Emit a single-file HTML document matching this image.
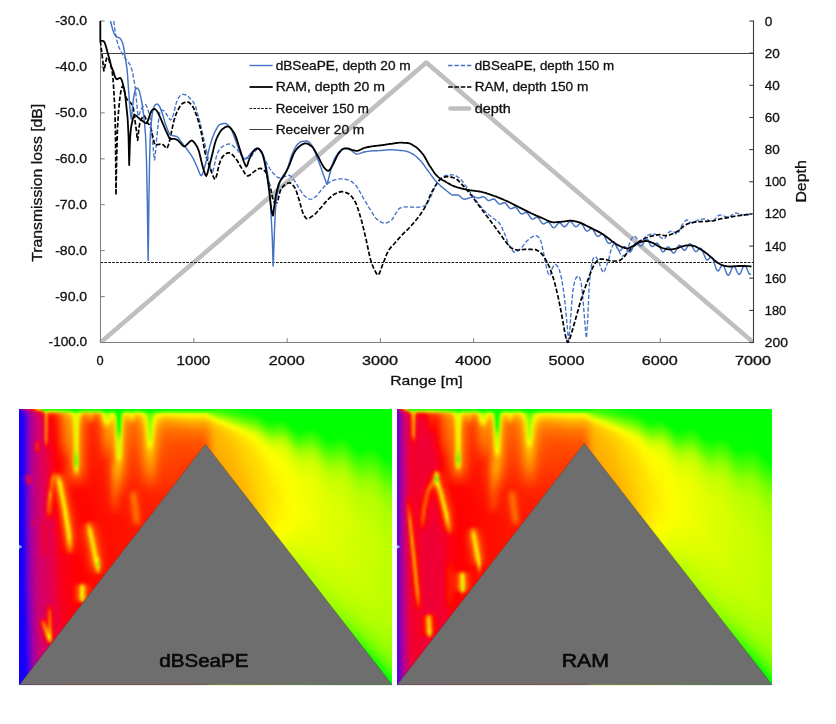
<!DOCTYPE html>
<html lang="en"><head><meta charset="utf-8"><title>Transmission loss comparison: dBSeaPE vs RAM</title>
<style>
html,body{margin:0;padding:0;background:#fff}
#page{position:relative;width:836px;height:724px;overflow:hidden;background:#fff;font-family:'Liberation Sans',sans-serif}
.hm{position:absolute;top:409px;height:275.7px;overflow:hidden}
.hb{position:absolute;left:0;top:0;width:374px;height:276px;filter:blur(0.9px);transform-origin:0 0}
.hm::before{content:"";position:absolute;inset:0;z-index:-1}
.hb i{position:absolute;top:-6px;height:288px;width:2.5px;display:block}
</style></head>
<body><div id="page">
<div class="hm" style="left:19.2px;width:372.8px"><div class="hb" style="transform:scaleX(0.99679)"><i style="left:-6px;width:8.5px;background:linear-gradient(#3800ed 6.5px,#1b00fa 10.5px,#1500fc 44.5px,#1400fc 281.5px)"></i><i style="left:2px;background:linear-gradient(#8e00b6 6.5px,#4f00e3 8.5px,#2f00f3 10.5px,#1a00fa 14.5px,#1a00fa 72.5px,#2700f6 74.5px,#1600fb 88.5px,#1400fc 281.5px)"></i><i style="left:4px;background:linear-gradient(#a9009d 6.5px,#6300d7 8.5px,#4100ea 10.5px,#2c00f4 14.5px,#2800f5 70.5px,#5100e1 74.5px,#2800f5 84.5px,#2200f7 180.5px,#1600fb 216.5px,#1500fc 281.5px)"></i><i style="left:6px;background:linear-gradient(#c5007c 6.5px,#8700bc 8.5px,#6c00d1 10.5px,#5d00db 14.5px,#5b00dc 70.5px,#a5009d 72.5px,#a8009a 74.5px,#9200b2 76.5px,#7a00c6 80.5px,#5b00dc 84.5px,#5500df 176.5px,#3000f2 218.5px,#1600fb 260.5px,#1600fb 281.5px)"></i><i style="left:8px;background:linear-gradient(#dd0059 6.5px,#a400a1 8.5px,#8c00b8 10.5px,#7e00c3 16.5px,#8100c1 70.5px,#ce006f 72.5px,#f10032 74.5px,#f20327 76.5px,#e10045 78.5px,#be0082 80.5px,#8200c0 82.5px,#7600ca 184.5px,#3700ef 278.5px,#3700ef 281.5px)"></i><i style="left:10px;background:linear-gradient(#f00036 6.5px,#ba008a 8.5px,#a400a2 10.5px,#9700ae 16.5px,#9600af 68.5px,#9f00a6 70.5px,#d30068 76.5px,#eb0034 78.5px,#e5004a 80.5px,#9600af 82.5px,#9500b0 172.5px,#6e00d0 250.5px,#6400d6 281.5px)"></i><i style="left:12px;background:linear-gradient(#fd040d 6.5px,#ca0075 8.5px,#b5008f 10.5px,#a9009c 16.5px,#ad0099 70.5px,#c4007d 78.5px,#bc0087 80.5px,#a8009d 82.5px,#a8009d 114.5px,#ae0097 116.5px,#d0006b 118.5px,#e2004a 120.5px,#bb0088 122.5px,#a9009c 124.5px,#9c00a9 208.5px,#8500be 281.5px)"></i><i style="left:14px;background:linear-gradient(#ff3500 6.5px,#dd0059 8.5px,#c80078 10.5px,#bd0085 14.5px,#bb0088 36.5px,#ca0075 40.5px,#c5007c 48.5px,#bb0088 50.5px,#be0084 74.5px,#c3007e 78.5px,#ba008a 84.5px,#bc0087 116.5px,#dd0057 120.5px,#c5007d 122.5px,#ba008a 124.5px,#ae0097 206.5px,#9b00ab 281.5px)"></i><i style="left:16px;background:linear-gradient(#ff8200 6.5px,#ef0037 8.5px,#d80062 10.5px,#cd0072 14.5px,#cb0075 36.5px,#ec003a 38.5px,#f41622 40.5px,#f31124 46.5px,#e90041 48.5px,#ca0075 50.5px,#c00081 200.5px,#ac0099 281.5px)"></i><i style="left:18px;background:linear-gradient(#ffd200 6.5px,#fc030f 8.5px,#df0056 10.5px,#d30069 14.5px,#d0006d 36.5px,#f3002b 38.5px,#f91f17 40.5px,#fb2214 46.5px,#f50021 48.5px,#d0006e 50.5px,#cb0073 216.5px,#d2006a 220.5px,#c3007e 242.5px,#bc0086 281.5px)"></i><i style="left:20px;background:linear-gradient(#c9ff00 6.5px,#ff2a00 8.5px,#e70047 10.5px,#dd0058 12.5px,#d70064 24.5px,#d60065 36.5px,#e4004d 40.5px,#e5004c 46.5px,#d50066 50.5px,#d40068 118.5px,#d2006b 154.5px,#cd0071 214.5px,#e3004f 218.5px,#dc005b 224.5px,#cd0071 236.5px,#c90076 281.5px)"></i><i style="left:22px;background:linear-gradient(#5fff00 6.5px,#ff6000 8.5px,#f00035 10.5px,#e5004b 12.5px,#de0058 20.5px,#de0058 48.5px,#d70064 112.5px,#e4004d 124.5px,#e20051 148.5px,#d40068 158.5px,#d2006a 214.5px,#f9001c 216.5px,#ff2e00 218.5px,#fe3307 220.5px,#f91418 222.5px,#f2002e 224.5px,#e4004d 228.5px,#d1006c 240.5px,#cd0071 281.5px)"></i><i style="left:24px;background:linear-gradient(#04ff00 6.5px,#ffb600 8.5px,#fd190e 10.5px,#f7061d 12.5px,#ee0038 18.5px,#e4004e 44.5px,#df0056 96.5px,#e20052 114.5px,#f80020 122.5px,#f8001f 146.5px,#e20052 154.5px,#d70062 156.5px,#d90060 204.5px,#da005e 212.5px,#de0057 214.5px,#f3002e 216.5px,#ff3000 218.5px,#ff8e00 220.5px,#ff9f00 222.5px,#ff8000 224.5px,#ff4400 226.5px,#fb1a14 228.5px,#f60022 230.5px,#ee0039 232.5px,#d40068 242.5px,#d1006c 281.5px)"></i><i style="left:26px;background:linear-gradient(#00ff00 6.5px,#a0ff00 8.5px,#ffc200 10.5px,#ffab00 12.5px,#ff9800 26.5px,#ff9200 36.5px,#ff7a00 38.5px,#ff1900 42.5px,#f70023 44.5px,#eb0040 46.5px,#e6004a 60.5px,#e80046 88.5px,#f20031 108.5px,#e3004f 118.5px,#e5004b 146.5px,#db005d 158.5px,#d90060 200.5px,#e70047 210.5px,#eb0040 214.5px,#f20031 216.5px,#fb0016 218.5px,#ff1900 220.5px,#ff4400 222.5px,#ffb000 226.5px,#ffbb00 228.5px,#ff9400 230.5px,#ff5400 232.5px,#fd1f0c 234.5px,#f90319 236.5px,#ec003e 238.5px,#d70063 242.5px,#d50067 281.5px)"></i><i style="left:28px;background:linear-gradient(#00ff00 6.5px,#d0ff00 8.5px,#ff6f00 10.5px,#ff4900 12.5px,#ff2d00 16.5px,#fc220f 26.5px,#fb1714 38.5px,#f8001e 42.5px,#f00036 46.5px,#eb0040 70.5px,#f60026 86.5px,#fa0316 88.5px,#ff3a00 98.5px,#ff4b00 102.5px,#ff4f00 106.5px,#ff2d00 110.5px,#ff1200 112.5px,#fb0019 114.5px,#e20050 118.5px,#dd005a 200.5px,#f7001f 204.5px,#fb1a13 208.5px,#fd180b 216.5px,#ff1c00 218.5px,#ff3c00 224.5px,#ff5500 226.5px,#ff8200 228.5px,#ffbd00 230.5px,#ffe900 232.5px,#fdda00 234.5px,#ff8b00 236.5px,#fe2008 238.5px,#ec003f 240.5px,#da005f 242.5px,#d80061 281.5px)"></i><i style="left:30px;background:linear-gradient(#00ff00 6.5px,#fdff00 8.5px,#ff3800 10.5px,#ff1000 12.5px,#ff0205 14.5px,#fa001b 20.5px,#f10032 68.5px,#f80020 72.5px,#fc0410 74.5px,#ff3000 82.5px,#ff3d00 84.5px,#ff5900 86.5px,#ff8000 88.5px,#ff9a00 90.5px,#ffa700 92.5px,#ff7a00 98.5px,#ff5c00 102.5px,#ff4300 108.5px,#ff2e00 110.5px,#ff0f00 112.5px,#f80021 114.5px,#e90044 116.5px,#e4004d 120.5px,#e00054 200.5px,#f3002d 202.5px,#fe0f07 204.5px,#ff5700 208.5px,#ff6900 210.5px,#ff8a00 222.5px,#ffaa00 228.5px,#ffbb00 230.5px,#ffd900 232.5px,#feed00 234.5px,#ffe200 236.5px,#ff9000 238.5px,#fb0016 240.5px,#dd0059 242.5px,#dc005b 281.5px)"></i><i style="left:32px;background:linear-gradient(#00ff00 6.5px,#f3ff00 8.5px,#ff4400 10.5px,#ff1c00 12.5px,#ff0500 16.5px,#f5002a 66.5px,#fe070b 70.5px,#ff2a00 72.5px,#ff5e00 74.5px,#ff7d00 76.5px,#ff8400 78.5px,#ff6f00 82.5px,#ff4f00 86.5px,#ff4b00 92.5px,#ff2100 102.5px,#ff1604 108.5px,#fb0312 112.5px,#eb0040 116.5px,#e6004a 158.5px,#e4004e 200.5px,#fb0312 210.5px,#ff1e05 224.5px,#ff5200 232.5px,#ff5200 234.5px,#ff4100 236.5px,#ff2106 238.5px,#eb003f 240.5px,#e10053 242.5px,#df0056 281.5px)"></i><i style="left:34px;background:linear-gradient(#00ff00 6.5px,#eaff00 8.5px,#ff4e00 10.5px,#ff2700 12.5px,#ff0f00 16.5px,#ff0202 38.5px,#fa001a 66.5px,#ff0c00 68.5px,#ff7400 72.5px,#ff8300 74.5px,#ff5300 78.5px,#ff2800 86.5px,#ff0004 100.5px,#ef0039 118.5px,#e80046 200.5px,#f20032 212.5px,#f70025 228.5px,#fb0016 232.5px,#f8001f 236.5px,#e70048 240.5px,#e3004f 281.5px)"></i><i style="left:36px;background:linear-gradient(#00ff00 6.5px,#ddff00 8.5px,#ff5c00 10.5px,#ff3600 12.5px,#ff1e00 16.5px,#ff0105 50.5px,#fd0012 62.5px,#fd0011 66.5px,#ff0504 68.5px,#ff2800 70.5px,#ff5b00 72.5px,#ff6e00 74.5px,#ff6900 78.5px,#ff2a00 90.5px,#ff0405 102.5px,#f4002c 120.5px,#ee0039 162.5px,#ef0038 224.5px,#f00035 236.5px,#e90044 242.5px,#e70048 281.5px)"></i><i style="left:38px;background:linear-gradient(#00ff00 6.5px,#cdff00 8.5px,#ff6f00 10.5px,#ff4900 12.5px,#ff3100 16.5px,#ff1700 42.5px,#ff0008 58.5px,#ff0104 68.5px,#ff2a00 70.5px,#ff7200 72.5px,#ffa000 74.5px,#ffba00 76.5px,#ffc300 78.5px,#ffb800 80.5px,#ff7100 86.5px,#ff3d00 94.5px,#ff0704 112.5px,#f60026 134.5px,#f20031 178.5px,#eb003f 281.5px)"></i><i style="left:40px;background:linear-gradient(#00ff00 6.5px,#baff00 8.5px,#ff8500 10.5px,#ff6000 12.5px,#ff4800 16.5px,#ff2d00 40.5px,#ff0400 58.5px,#ff0600 68.5px,#ff2500 70.5px,#ffec00 78.5px,#fefe00 80.5px,#fdef00 84.5px,#ffc900 88.5px,#ff6f00 96.5px,#ff3d00 104.5px,#ff0605 128.5px,#f70025 156.5px,#ef0037 281.5px)"></i><i style="left:42px;background:linear-gradient(#00ff00 6.5px,#a7ff00 8.5px,#ff9b00 10.5px,#ff7700 12.5px,#ff6000 16.5px,#ff4700 38.5px,#ff1100 56.5px,#ff0f00 68.5px,#ff4e00 74.5px,#ffad00 80.5px,#ffea00 86.5px,#fffd00 90.5px,#fdee00 94.5px,#ffb200 100.5px,#ff7000 106.5px,#ff3e00 116.5px,#ff0402 144.5px,#fb0019 154.5px,#f4002d 281.5px)"></i><i style="left:44px;background:linear-gradient(#00ff00 6.5px,#96ff00 8.5px,#ffae00 10.5px,#ff8c00 12.5px,#ff7100 18.5px,#ff5b00 38.5px,#ff1f00 56.5px,#ff1a00 68.5px,#ff6f00 84.5px,#ffa900 90.5px,#ffea00 96.5px,#fffd00 100.5px,#ffe100 106.5px,#ff6600 120.5px,#ff3a00 130.5px,#ff0005 150.5px,#fb0016 152.5px,#f80022 281.5px)"></i><i style="left:46px;background:linear-gradient(#00ff00 6.5px,#88ff00 8.5px,#ffbd00 10.5px,#ff9c00 12.5px,#ff8200 18.5px,#ff6c00 38.5px,#ff3000 56.5px,#ff2d00 70.5px,#ff4900 88.5px,#ff6c00 94.5px,#ffe900 106.5px,#fffe00 112.5px,#ffe400 118.5px,#ff7900 130.5px,#ff0700 150.5px,#fc0014 152.5px,#fb0018 281.5px)"></i><i style="left:48px;background:linear-gradient(#00ff00 6.5px,#7aff00 8.5px,#ffcb00 10.5px,#ffa700 12.5px,#ff8d00 18.5px,#ff7900 38.5px,#ff4400 56.5px,#ff2a00 86.5px,#ff4900 98.5px,#ff7c00 106.5px,#ffe600 118.5px,#fffe00 124.5px,#ffd500 134.5px,#ff1700 150.5px,#fc0012 152.5px,#fb0016 281.5px)"></i><i style="left:50px;background:linear-gradient(#00ff00 6.5px,#67ff00 8.5px,#ffdd00 10.5px,#ffb800 12.5px,#ff9d00 16.5px,#ff8c00 28.5px,#ff7f00 40.5px,#ff5600 58.5px,#ff4b00 68.5px,#ff1a00 86.5px,#ff3b00 104.5px,#ff5f00 114.5px,#ff9a00 122.5px,#ffe300 130.5px,#ffec00 134.5px,#ffbc00 140.5px,#ff7100 146.5px,#ff2900 150.5px,#fd0010 152.5px,#fd000e 198.5px,#fc0014 281.5px)"></i><i style="left:52px;background:linear-gradient(#00ff00 6.5px,#4cff00 8.5px,#fbfa00 10.5px,#ffd900 12.5px,#ffae00 18.5px,#ff9900 30.5px,#ff6f00 60.5px,#ff5d00 68.5px,#ff1500 84.5px,#ff1200 92.5px,#ff4500 120.5px,#ff7d00 132.5px,#ff7900 138.5px,#ff5e00 144.5px,#ff3b00 148.5px,#ff1e00 150.5px,#fd000e 152.5px,#fe000a 180.5px,#ff0500 186.5px,#ff0004 198.5px,#fd000f 200.5px,#fc0012 281.5px)"></i><i style="left:54px;background:linear-gradient(#00ff00 6.5px,#2fff00 8.5px,#d9ff00 10.5px,#f3ff00 12.5px,#ffde00 22.5px,#ffbf00 46.5px,#ffc500 60.5px,#ffae00 64.5px,#ff4900 74.5px,#ff1100 84.5px,#ff0900 92.5px,#ff3200 124.5px,#ff4200 134.5px,#ff2c00 144.5px,#ff0d00 150.5px,#fe000b 152.5px,#fe000b 178.5px,#ff0c00 182.5px,#ff1300 188.5px,#ff0f00 196.5px,#ff0700 198.5px,#fe000c 200.5px,#fd0010 281.5px)"></i><i style="left:56px;background:linear-gradient(#00ff00 6.5px,#1fff00 8.5px,#c0ff00 10.5px,#d4ff00 12.5px,#e3ff00 34.5px,#e2ff00 42.5px,#d1ff00 46.5px,#a1ff00 50.5px,#63ff00 54.5px,#4fff00 56.5px,#4bff00 58.5px,#59ff00 60.5px,#7eff00 62.5px,#eefc00 66.5px,#ffd100 68.5px,#ff7100 72.5px,#ff5200 74.5px,#ff1900 82.5px,#ff0500 88.5px,#ff1900 120.5px,#ff2900 134.5px,#ff0f00 148.5px,#fe0008 154.5px,#fe0008 178.5px,#ff0800 180.5px,#ff2800 184.5px,#ff2300 196.5px,#fe000a 200.5px,#fd000d 281.5px)"></i><i style="left:58px;background:linear-gradient(#00ff00 6.5px,#29ff00 8.5px,#ceff00 10.5px,#e6ff00 12.5px,#f4f800 18.5px,#f9e900 42.5px,#e7ee00 48.5px,#b3ff00 56.5px,#b0ff00 58.5px,#c9f700 62.5px,#ffdc00 66.5px,#ff8a00 70.5px,#ff4f00 74.5px,#ff1900 82.5px,#ff0400 88.5px,#ff0e00 120.5px,#ff1a00 134.5px,#ff0003 156.5px,#ff0005 178.5px,#ff1000 180.5px,#ff3300 182.5px,#ff4800 184.5px,#ff4700 194.5px,#ff3f00 196.5px,#ff0006 200.5px,#fe000a 281.5px)"></i><i style="left:60px;background:linear-gradient(#00ff00 6.5px,#47ff00 8.5px,#f6fb00 10.5px,#ffcd00 14.5px,#ffa400 22.5px,#ff9100 38.5px,#ff8c00 62.5px,#ff6100 70.5px,#ff1800 82.5px,#ff0400 90.5px,#ff0b00 120.5px,#ff1700 130.5px,#ff0100 158.5px,#ff0000 178.5px,#ff2300 180.5px,#ff6900 182.5px,#ff9400 184.5px,#ff9400 194.5px,#ff8300 196.5px,#ff4a00 198.5px,#ff0001 200.5px,#fe0007 281.5px)"></i><i style="left:62px;background:linear-gradient(#00ff00 6.5px,#69ff00 8.5px,#ffd600 10.5px,#ffac00 12.5px,#ff8800 16.5px,#ff7100 24.5px,#ff6400 64.5px,#ff3200 76.5px,#ff0900 86.5px,#ff0400 118.5px,#ff1b00 124.5px,#ff1b00 132.5px,#ff0300 160.5px,#ff0100 178.5px,#ff3d00 180.5px,#ffb700 182.5px,#f8fa00 184.5px,#f8fa00 194.5px,#ffe300 196.5px,#ff8200 198.5px,#ff0100 200.5px,#ff0002 281.5px)"></i><i style="left:64px;background:linear-gradient(#00ff00 6.5px,#81ff00 8.5px,#ffba00 10.5px,#ff8f00 12.5px,#ff6e00 16.5px,#ff5c00 24.5px,#ff4d00 66.5px,#ff0900 86.5px,#ff0300 118.5px,#ff2400 122.5px,#ff3000 128.5px,#ff0a00 154.5px,#ff0200 178.5px,#ff3000 180.5px,#ff8e00 182.5px,#ffc800 184.5px,#ffc800 194.5px,#ffb000 196.5px,#ff6500 198.5px,#ff0200 200.5px,#ff0100 281.5px)"></i><i style="left:66px;background:linear-gradient(#00ff00 6.5px,#88ff00 8.5px,#ffb400 10.5px,#ff8a00 12.5px,#ff5a00 18.5px,#ff4a00 24.5px,#ff3c00 66.5px,#ff0700 88.5px,#ff0400 116.5px,#ff0a00 118.5px,#ff3300 120.5px,#ff4c00 124.5px,#ff4e00 128.5px,#ff2000 146.5px,#ff0300 174.5px,#ff0300 178.5px,#ff1900 180.5px,#ff4500 182.5px,#ff6000 184.5px,#ff6000 194.5px,#ff5500 196.5px,#ff3100 198.5px,#ff0200 200.5px,#ff0200 281.5px)"></i><i style="left:68px;background:linear-gradient(#00ff00 6.5px,#82ff00 8.5px,#ffbd00 10.5px,#ff9500 12.5px,#ff4700 20.5px,#ff3a00 26.5px,#ff2b00 68.5px,#ff0800 88.5px,#ff0500 116.5px,#ff2300 118.5px,#ff5f00 120.5px,#ff8400 122.5px,#ff9900 124.5px,#ffa000 126.5px,#ff9c00 128.5px,#ff6300 134.5px,#ff3e00 142.5px,#ff0400 174.5px,#ff0400 178.5px,#ff1000 180.5px,#ff3800 184.5px,#ff3200 196.5px,#ff0300 200.5px,#ff0200 281.5px)"></i><i style="left:70px;background:linear-gradient(#00ff00 6.5px,#7aff00 8.5px,#ffc800 10.5px,#ffa100 12.5px,#ff4100 20.5px,#ff3300 22.5px,#ff1c00 72.5px,#ff0800 92.5px,#ff0600 116.5px,#ff2700 118.5px,#ffba00 124.5px,#ffe000 126.5px,#fff300 128.5px,#ffd800 132.5px,#ff7e00 140.5px,#ff4c00 148.5px,#ff0400 174.5px,#ff0b00 180.5px,#ff2200 184.5px,#ff1e00 196.5px,#ff0400 200.5px,#ff0300 281.5px)"></i><i style="left:72px;background:linear-gradient(#00ff00 6.5px,#7bff00 8.5px,#ffc500 10.5px,#ff9d00 12.5px,#ff3b00 20.5px,#ff2d00 22.5px,#ff0f00 80.5px,#ff0600 116.5px,#ff5200 122.5px,#ffbc00 128.5px,#ffe600 132.5px,#fff600 136.5px,#ffe400 140.5px,#ff7000 152.5px,#ff1400 170.5px,#ff0500 176.5px,#ff1300 188.5px,#ff0c00 198.5px,#ff0500 204.5px,#ff0400 281.5px)"></i><i style="left:74px;background:linear-gradient(#00ff00 6.5px,#86ff00 8.5px,#ffb500 10.5px,#ff8a00 12.5px,#ff3600 20.5px,#ff2800 26.5px,#ff0800 104.5px,#ff0700 116.5px,#ff8200 132.5px,#ffdb00 140.5px,#fff400 144.5px,#fff100 148.5px,#ffc200 154.5px,#ff7d00 160.5px,#ff3a00 166.5px,#ff0c00 172.5px,#ff0600 178.5px,#ff0900 198.5px,#ff0500 281.5px)"></i><i style="left:76px;background:linear-gradient(#00ff00 6.5px,#8fff00 8.5px,#ffa800 10.5px,#ff7a00 12.5px,#ff4f00 16.5px,#ff3200 22.5px,#ff0d00 82.5px,#ff0a00 116.5px,#ff4200 130.5px,#ff6700 138.5px,#ffc600 148.5px,#fff600 154.5px,#fefb00 156.5px,#f7f500 158.5px,#ffe400 160.5px,#ff2c00 170.5px,#ff0900 172.5px,#ff0500 281.5px)"></i><i style="left:78px;background:linear-gradient(#00ff00 6.5px,#8bff00 8.5px,#ffac00 10.5px,#ff7d00 12.5px,#ff5500 16.5px,#ff3f00 22.5px,#ff1300 68.5px,#ff0b00 116.5px,#ff5200 144.5px,#ff7900 150.5px,#ff9300 152.5px,#ffbe00 154.5px,#fbfa00 156.5px,#b7ff00 158.5px,#8eff00 160.5px,#94ff00 162.5px,#cbff00 164.5px,#ffe300 166.5px,#ff9300 168.5px,#ff0c00 172.5px,#ff0600 281.5px)"></i><i style="left:80px;background:linear-gradient(#00ff00 6.5px,#75ff00 8.5px,#ffc400 10.5px,#ff9600 12.5px,#ff6e00 16.5px,#ff5300 22.5px,#ff3000 46.5px,#ff1600 64.5px,#ff0d00 118.5px,#ff3a00 146.5px,#ff4f00 152.5px,#ff7600 156.5px,#ffa200 160.5px,#ffa400 162.5px,#ff9600 164.5px,#ff5d00 168.5px,#ff0a00 172.5px,#ff0700 281.5px)"></i><i style="left:82px;background:linear-gradient(#00ff00 6.5px,#4eff00 8.5px,#fef200 10.5px,#ffc800 12.5px,#ff7e00 20.5px,#ff6400 26.5px,#ff4d00 40.5px,#ff1b00 60.5px,#ff0c00 118.5px,#ff2600 146.5px,#ff3d00 160.5px,#ff2900 168.5px,#ff0900 172.5px,#ff0800 281.5px)"></i><i style="left:84px;background:linear-gradient(#00ff00 6.5px,#20ff00 8.5px,#d1ff00 10.5px,#f1fd00 12.5px,#ffe700 16.5px,#ff8400 24.5px,#ff7800 28.5px,#ff5e00 40.5px,#ff2300 58.5px,#ff0c00 110.5px,#ff1700 144.5px,#ff2700 162.5px,#ff1b00 168.5px,#ff0a00 172.5px,#ff0800 281.5px)"></i><i style="left:86px;background:linear-gradient(#00ff00 6.5px,#02ff00 8.5px,#a4ff00 10.5px,#bfff00 12.5px,#daff00 16.5px,#f7ff00 18.5px,#ffba00 22.5px,#ff9b00 24.5px,#ff8a00 26.5px,#ff7300 38.5px,#ff2a00 58.5px,#ff0c00 118.5px,#ff1800 154.5px,#ff1700 166.5px,#ff0a00 174.5px,#ff0900 281.5px)"></i><i style="left:88px;background:linear-gradient(#00ff00 6.5px,#00ff00 8.5px,#9cff00 10.5px,#b9ff00 12.5px,#d6ff00 16.5px,#f3ff00 18.5px,#ffe700 20.5px,#ffa500 24.5px,#ff9400 26.5px,#ff7c00 38.5px,#ff3900 56.5px,#ff0d00 118.5px,#ff1000 168.5px,#ff0a00 281.5px)"></i><i style="left:90px;background:linear-gradient(#00ff00 6.5px,#05ff00 8.5px,#b4ff00 10.5px,#d9ff00 12.5px,#faf900 16.5px,#ffa400 24.5px,#ff7700 42.5px,#ff4900 56.5px,#ff4500 72.5px,#ff1c00 106.5px,#ff0e00 114.5px,#ff0b00 281.5px)"></i><i style="left:92px;background:linear-gradient(#00ff00 6.5px,#17ff00 8.5px,#d0ff00 10.5px,#faff00 12.5px,#ffb900 20.5px,#ffa000 26.5px,#ff8200 42.5px,#ff5f00 56.5px,#ff6c00 68.5px,#ff2b00 104.5px,#ff0f00 112.5px,#ff0b00 281.5px)"></i><i style="left:94px;background:linear-gradient(#00ff00 6.5px,#0dff00 8.5px,#caff00 10.5px,#f8fe00 12.5px,#ffc900 18.5px,#ffb000 26.5px,#ff8500 50.5px,#ff7b00 56.5px,#ff8e00 66.5px,#ff4600 96.5px,#ff2b00 106.5px,#ff1000 112.5px,#ff0c00 281.5px)"></i><i style="left:96px;background:linear-gradient(#00ff00 6.5px,#00ff00 8.5px,#73ff00 10.5px,#9cff00 12.5px,#ccff00 16.5px,#e5f200 22.5px,#ffdd00 34.5px,#ffbb00 50.5px,#ffa400 56.5px,#ffa300 68.5px,#ff4c00 94.5px,#ff2b00 106.5px,#ff1000 112.5px,#ff0d00 281.5px)"></i><i style="left:98px;background:linear-gradient(#00ff00 6.5px,#00ff00 10.5px,#30ff00 24.5px,#3dff00 26.5px,#bcff00 36.5px,#d5ff00 40.5px,#dfff00 48.5px,#f4f800 52.5px,#ffec00 54.5px,#ffba00 60.5px,#ffac00 64.5px,#ff9800 72.5px,#ff4800 92.5px,#ff1f00 108.5px,#ff1100 114.5px,#ff0e00 281.5px)"></i><i style="left:100px;background:linear-gradient(#00ff00 6.5px,#04ff00 22.5px,#28ff00 28.5px,#a3ff00 36.5px,#c1ff00 40.5px,#c9ff00 48.5px,#e9ff00 52.5px,#fdf900 54.5px,#ffb800 60.5px,#ffa500 64.5px,#ff7b00 76.5px,#ff3500 94.5px,#ff1100 114.5px,#ff0f00 281.5px)"></i><i style="left:102px;background:linear-gradient(#00ff00 6.5px,#00ff00 8.5px,#4fff00 10.5px,#72ff00 12.5px,#abff00 18.5px,#e4f200 30.5px,#ffe600 40.5px,#ffd900 50.5px,#ff9700 62.5px,#ff5800 80.5px,#ff2500 96.5px,#ff1100 116.5px,#ff0f00 281.5px)"></i><i style="left:104px;background:linear-gradient(#00ff00 6.5px,#13ff00 8.5px,#cfff00 10.5px,#f4f600 12.5px,#ffe700 14.5px,#ffc600 18.5px,#ffad00 26.5px,#ff8a00 56.5px,#ff5c00 74.5px,#ff2100 94.5px,#ff1100 122.5px,#ff1000 281.5px)"></i><i style="left:106px;background:linear-gradient(#00ff00 6.5px,#3dff00 8.5px,#fcff00 10.5px,#ffd500 12.5px,#ffab00 16.5px,#ff9100 22.5px,#ff6300 64.5px,#ff2200 92.5px,#ff1300 114.5px,#ff1000 281.5px)"></i><i style="left:108px;background:linear-gradient(#00ff00 6.5px,#40ff00 8.5px,#fdfe00 10.5px,#ffd400 12.5px,#ff9400 18.5px,#ff7b00 24.5px,#ff5000 64.5px,#ff2600 86.5px,#ff2300 96.5px,#ff1200 124.5px,#ff1100 281.5px)"></i><i style="left:110px;background:linear-gradient(#00ff00 6.5px,#31ff00 8.5px,#eaff00 10.5px,#ffea00 12.5px,#ff8100 20.5px,#ff6f00 24.5px,#ff4000 66.5px,#ff2400 86.5px,#ff3b00 90.5px,#ff3900 96.5px,#ff1a00 116.5px,#ff1200 148.5px,#ff1100 281.5px)"></i><i style="left:112px;background:linear-gradient(#00ff00 6.5px,#28ff00 8.5px,#deff00 10.5px,#fff900 12.5px,#ff7f00 20.5px,#ff6d00 22.5px,#ff2e00 74.5px,#ff2200 84.5px,#ff2a00 86.5px,#ff5100 90.5px,#ff6100 94.5px,#ff1300 126.5px,#ff1100 281.5px)"></i><i style="left:114px;background:linear-gradient(#00ff00 6.5px,#34ff00 8.5px,#efff00 10.5px,#ffe500 12.5px,#ff7a00 20.5px,#ff6800 24.5px,#ff3400 68.5px,#ff2100 84.5px,#ff2f00 86.5px,#ff6a00 92.5px,#ff7500 94.5px,#ff5100 114.5px,#ff2400 122.5px,#ff1400 124.5px,#ff1200 281.5px)"></i><i style="left:116px;background:linear-gradient(#00ff00 6.5px,#48ff00 8.5px,#fff700 10.5px,#ffc900 12.5px,#ff8500 18.5px,#ff6c00 24.5px,#ff3600 68.5px,#ff2200 84.5px,#ff6600 94.5px,#ff6f00 112.5px,#ff6700 116.5px,#ff2f00 122.5px,#ff1400 124.5px,#ff1200 281.5px)"></i><i style="left:118px;background:linear-gradient(#00ff00 6.5px,#4fff00 8.5px,#fff000 10.5px,#ffc200 12.5px,#ff9600 16.5px,#ff7900 22.5px,#ff3700 70.5px,#ff2300 84.5px,#ff4b00 98.5px,#ff6900 114.5px,#ff5900 118.5px,#ff3100 122.5px,#ff1400 124.5px,#ff1300 281.5px)"></i><i style="left:120px;background:linear-gradient(#00ff00 6.5px,#49ff00 8.5px,#fff800 10.5px,#ffcc00 12.5px,#ffa200 16.5px,#ff8000 24.5px,#ff4d00 62.5px,#ff2500 86.5px,#ff3900 106.5px,#ff4900 116.5px,#ff2800 122.5px,#ff1400 124.5px,#ff1300 281.5px)"></i><i style="left:122px;background:linear-gradient(#00ff00 6.5px,#39ff00 8.5px,#f4ff00 10.5px,#ffdf00 12.5px,#ffb500 16.5px,#ff9700 22.5px,#ff5b00 62.5px,#ff2200 88.5px,#ff2600 110.5px,#ff2a00 118.5px,#ff1500 124.5px,#ff1300 281.5px)"></i><i style="left:124px;background:linear-gradient(#00ff00 6.5px,#1fff00 8.5px,#d7ff00 10.5px,#fcf900 12.5px,#ffc300 18.5px,#ffa600 26.5px,#ff7100 60.5px,#ff2400 88.5px,#ff1b00 110.5px,#ff1400 281.5px)"></i><i style="left:126px;background:linear-gradient(#00ff00 6.5px,#02ff00 8.5px,#a8ff00 10.5px,#d0ff00 12.5px,#e8ff00 14.5px,#fdf100 18.5px,#ffcd00 28.5px,#ff7d00 62.5px,#ff2a00 86.5px,#ff1900 102.5px,#ff1400 281.5px)"></i><i style="left:128px;background:linear-gradient(#00ff00 6.5px,#00ff00 8.5px,#6eff00 10.5px,#8dff00 12.5px,#bfff00 18.5px,#deff00 26.5px,#f2f800 36.5px,#ffea00 40.5px,#ffb300 48.5px,#ff7b00 66.5px,#ff2d00 86.5px,#ff1b00 98.5px,#ff1500 281.5px)"></i><i style="left:130px;background:linear-gradient(#00ff00 6.5px,#00ff00 8.5px,#49ff00 10.5px,#61ff00 12.5px,#8dff00 20.5px,#afff00 34.5px,#e8ff00 40.5px,#fefd00 42.5px,#ffbf00 48.5px,#ffaa00 54.5px,#ff7800 68.5px,#ff2d00 86.5px,#ff1c00 98.5px,#ff1500 281.5px)"></i><i style="left:132px;background:linear-gradient(#00ff00 6.5px,#00ff00 8.5px,#54ff00 10.5px,#6fff00 12.5px,#a6ff00 20.5px,#ceff00 34.5px,#f8f900 40.5px,#ffc700 46.5px,#ffaf00 50.5px,#ff8700 64.5px,#ff2800 88.5px,#ff1a00 104.5px,#ff1500 281.5px)"></i><i style="left:134px;background:linear-gradient(#00ff00 6.5px,#00ff00 8.5px,#81ff00 10.5px,#a6ff00 12.5px,#e4ff00 18.5px,#f9f200 24.5px,#ffcf00 38.5px,#ffa000 50.5px,#ff7d00 64.5px,#ff2d00 86.5px,#ff1d00 98.5px,#ff1600 281.5px)"></i><i style="left:136px;background:linear-gradient(#00ff00 6.5px,#01ff00 8.5px,#aeff00 10.5px,#d9ff00 12.5px,#f4ff00 14.5px,#fff400 16.5px,#ffca00 22.5px,#ffa800 34.5px,#ff7300 62.5px,#ff2700 88.5px,#ff1900 116.5px,#ff1600 281.5px)"></i><i style="left:138px;background:linear-gradient(#00ff00 6.5px,#13ff00 8.5px,#caff00 10.5px,#f6ff00 12.5px,#ffd800 16.5px,#ffae00 22.5px,#ff8d00 34.5px,#ff5d00 64.5px,#ff2400 90.5px,#ff1800 142.5px,#ff1700 281.5px)"></i><i style="left:140px;background:linear-gradient(#00ff00 6.5px,#21ff00 8.5px,#daff00 10.5px,#fff800 12.5px,#ffb600 18.5px,#ff8e00 26.5px,#ff6500 50.5px,#ff2200 92.5px,#ff1800 172.5px,#ff1700 281.5px)"></i><i style="left:142px;background:linear-gradient(#00ff00 6.5px,#29ff00 8.5px,#e3ff00 10.5px,#ffee00 12.5px,#ffab00 18.5px,#ff8100 26.5px,#ff5b00 48.5px,#ff2200 94.5px,#ff1800 180.5px,#ff1700 281.5px)"></i><i style="left:144px;background:linear-gradient(#00ff00 6.5px,#2eff00 8.5px,#e9ff00 10.5px,#ffe800 12.5px,#ffb600 16.5px,#ff8a00 22.5px,#ff6500 34.5px,#ff2500 90.5px,#ff1900 156.5px,#ff1800 281.5px)"></i><i style="left:146px;background:linear-gradient(#00ff00 6.5px,#31ff00 8.5px,#edff00 10.5px,#ffe500 12.5px,#ffb300 16.5px,#ff8600 22.5px,#ff6000 34.5px,#ff2800 86.5px,#ff1a00 150.5px,#ff1800 281.5px)"></i><i style="left:148px;background:linear-gradient(#00ff00 6.5px,#32ff00 8.5px,#edff00 10.5px,#ffe400 12.5px,#ff9f00 18.5px,#ff7300 26.5px,#ff4f00 44.5px,#ff2400 96.5px,#ff1a00 180.5px,#ff1900 281.5px)"></i><i style="left:150px;background:linear-gradient(#00ff00 6.5px,#32ff00 8.5px,#edff00 10.5px,#ffe400 12.5px,#ffa000 18.5px,#ff7200 26.5px,#ff4f00 42.5px,#ff2600 94.5px,#ff1a00 180.5px,#ff1900 281.5px)"></i><i style="left:152px;background:linear-gradient(#00ff00 6.5px,#32ff00 8.5px,#ecff00 10.5px,#ffe600 12.5px,#ffa200 18.5px,#ff7300 26.5px,#ff5100 40.5px,#ff2700 94.5px,#ff1b00 180.5px,#ff1a00 281.5px)"></i><i style="left:154px;background:linear-gradient(#00ff00 6.5px,#31ff00 8.5px,#ebff00 10.5px,#ffe800 12.5px,#ffa400 18.5px,#ff7400 26.5px,#ff5000 40.5px,#ff2c00 86.5px,#ff1c00 158.5px,#ff1a00 281.5px)"></i><i style="left:156px;background:linear-gradient(#00ff00 6.5px,#30ff00 8.5px,#e9ff00 10.5px,#ffea00 12.5px,#ffa500 18.5px,#ff7400 26.5px,#ff4f00 40.5px,#ff2b00 88.5px,#ff1d00 164.5px,#ff1b00 281.5px)"></i><i style="left:158px;background:linear-gradient(#00ff00 6.5px,#2fff00 8.5px,#e8ff00 10.5px,#ffec00 12.5px,#ffa700 18.5px,#ff7500 26.5px,#ff4f00 40.5px,#ff3300 74.5px,#ff1e00 146.5px,#ff1c00 281.5px)"></i><i style="left:160px;background:linear-gradient(#00ff00 6.5px,#2eff00 8.5px,#e7ff00 10.5px,#ffed00 12.5px,#ffa800 18.5px,#ff7500 26.5px,#ff4e00 40.5px,#ff3300 74.5px,#ff1f00 148.5px,#ff1d00 281.5px)"></i><i style="left:162px;background:linear-gradient(#00ff00 6.5px,#2eff00 8.5px,#e6ff00 10.5px,#ffee00 12.5px,#ffaa00 18.5px,#ff7600 26.5px,#ff4e00 40.5px,#ff3300 72.5px,#ff2000 156.5px,#ff1e00 281.5px)"></i><i style="left:164px;background:linear-gradient(#00ff00 6.5px,#2eff00 8.5px,#e5ff00 10.5px,#fff000 12.5px,#ffab00 18.5px,#ff7700 26.5px,#ff4e00 40.5px,#ff3400 70.5px,#ff2100 156.5px,#ff1f00 281.5px)"></i><i style="left:166px;background:linear-gradient(#00ff00 6.5px,#2dff00 8.5px,#e4ff00 10.5px,#fff100 12.5px,#ffad00 18.5px,#ff7800 26.5px,#ff4e00 40.5px,#ff3400 68.5px,#ff2100 162.5px,#ff1f00 281.5px)"></i><i style="left:168px;background:linear-gradient(#00ff00 6.5px,#2cff00 8.5px,#e2ff00 10.5px,#fff300 12.5px,#ffaf00 18.5px,#ff7a00 26.5px,#ff5300 38.5px,#ff3600 64.5px,#ff2200 160.5px,#ff2000 281.5px)"></i><i style="left:170px;background:linear-gradient(#00ff00 6.5px,#2cff00 8.5px,#e1ff00 10.5px,#fff400 12.5px,#ffb100 18.5px,#ff7b00 26.5px,#ff4f00 40.5px,#ff3400 68.5px,#ff2300 168.5px,#ff2100 281.5px)"></i><i style="left:172px;background:linear-gradient(#00ff00 6.5px,#2bff00 8.5px,#e0ff00 10.5px,#fff600 12.5px,#ffb300 18.5px,#ff7d00 26.5px,#ff5400 38.5px,#ff3700 62.5px,#ff2400 162.5px,#ff2200 281.5px)"></i><i style="left:174px;background:linear-gradient(#00ff00 6.5px,#2aff00 8.5px,#deff00 10.5px,#fff700 12.5px,#ffb400 18.5px,#ff7e00 26.5px,#ff5500 38.5px,#ff3700 62.5px,#ff2500 168.5px,#ff2300 281.5px)"></i><i style="left:176px;background:linear-gradient(#00ff00 6.5px,#2aff00 8.5px,#deff00 10.5px,#fff700 12.5px,#ffb400 18.5px,#ff7e00 26.5px,#ff5500 38.5px,#ff3700 62.5px,#ff2500 172.5px,#ff2400 281.5px)"></i><i style="left:178px;background:linear-gradient(#00ff00 6.5px,#2aff00 8.5px,#deff00 10.5px,#fff700 12.5px,#ffb400 18.5px,#ff7e00 26.5px,#ff5400 38.5px,#ff3700 62.5px,#ff2600 168.5px,#ff2500 281.5px)"></i><i style="left:180px;background:linear-gradient(#00ff00 6.5px,#2aff00 8.5px,#deff00 10.5px,#fff700 12.5px,#ffb400 18.5px,#ff7e00 26.5px,#ff5400 38.5px,#ff3700 62.5px,#ff2700 162.5px,#ff2500 281.5px)"></i><i style="left:182px;background:linear-gradient(#00ff00 6.5px,#2bff00 8.5px,#deff00 10.5px,#fff700 12.5px,#ffb400 18.5px,#ff7e00 26.5px,#ff5400 38.5px,#ff3700 62.5px,#ff2900 160.5px,#ff2700 281.5px)"></i><i style="left:184px;background:linear-gradient(#00ff00 6.5px,#2eff00 8.5px,#dcff00 10.5px,#fff900 12.5px,#ffb500 18.5px,#ff8000 26.5px,#ff5800 38.5px,#ff3c00 62.5px,#ff2f00 146.5px,#ff3200 281.5px)"></i><i style="left:186px;background:linear-gradient(#00ff00 6.5px,#34ff00 8.5px,#d3ff00 10.5px,#fefe00 12.5px,#ffb700 18.5px,#ff8500 26.5px,#ff5e00 40.5px,#ff4500 68.5px,#ff3e00 152.5px,#ff4d00 281.5px)"></i><i style="left:188px;background:linear-gradient(#00ff00 6.5px,#3bff00 8.5px,#c4ff00 10.5px,#f1ff00 12.5px,#ffec00 14.5px,#ffbc00 18.5px,#ff8e00 26.5px,#ff6900 42.5px,#ff5200 80.5px,#ff5200 152.5px,#ff7100 252.5px,#ff7100 281.5px)"></i><i style="left:190px;background:linear-gradient(#00ff00 6.5px,#40ff00 8.5px,#b0ff00 10.5px,#deff00 12.5px,#fffb00 14.5px,#ffc600 18.5px,#ff9f00 24.5px,#ff7d00 40.5px,#ff6400 82.5px,#ff6600 144.5px,#ff9a00 240.5px,#ff9b00 281.5px)"></i><i style="left:192px;background:linear-gradient(#00ff00 6.5px,#44ff00 8.5px,#98ff00 10.5px,#f0ff00 14.5px,#ffec00 16.5px,#ffbf00 20.5px,#ff9e00 28.5px,#ff8100 58.5px,#ff7500 122.5px,#ff9300 172.5px,#ffc100 234.5px,#ffc500 281.5px)"></i><i style="left:194px;background:linear-gradient(#01ff00 6.5px,#80ff00 10.5px,#d9ff00 14.5px,#fdfd00 16.5px,#ffcc00 20.5px,#ffaf00 26.5px,#ff9100 60.5px,#ff8800 122.5px,#ffa400 162.5px,#ffe300 228.5px,#ffeb00 281.5px)"></i><i style="left:196px;background:linear-gradient(#1bff00 6.5px,#eeff00 16.5px,#fff000 18.5px,#ffc900 22.5px,#ffb100 30.5px,#ff9700 78.5px,#ff9900 130.5px,#ffcd00 180.5px,#fefc00 228.5px,#f9ff00 281.5px)"></i><i style="left:198px;background:linear-gradient(#27ff00 6.5px,#5fff00 10.5px,#deff00 16.5px,#fffd00 18.5px,#ffd100 22.5px,#ffba00 28.5px,#ff9e00 74.5px,#ff9f00 128.5px,#ffcf00 174.5px,#fdff00 218.5px,#f0ff00 256.5px,#eeff00 281.5px)"></i><i style="left:200px;background:linear-gradient(#25ff00 6.5px,#58ff00 10.5px,#f7ff00 18.5px,#ffd800 22.5px,#ffbd00 28.5px,#ff9f00 72.5px,#ffa000 126.5px,#ffd300 174.5px,#fdff00 214.5px,#eeff00 252.5px,#ecff00 281.5px)"></i><i style="left:202px;background:linear-gradient(#22ff00 6.5px,#51ff00 10.5px,#ebff00 18.5px,#fff600 20.5px,#ffd100 24.5px,#ffba00 32.5px,#ff9f00 78.5px,#ffa400 128.5px,#ffe300 184.5px,#fcff00 212.5px,#edff00 250.5px,#eaff00 281.5px)"></i><i style="left:204px;background:linear-gradient(#20ff00 6.5px,#4bff00 10.5px,#e0ff00 18.5px,#fefe00 20.5px,#ffd800 24.5px,#ffbd00 32.5px,#ffa000 78.5px,#ffa500 126.5px,#ffe400 182.5px,#fbff00 210.5px,#ecff00 246.5px,#e8ff00 281.5px)"></i><i style="left:206px;background:linear-gradient(#1dff00 6.5px,#45ff00 10.5px,#afff00 16.5px,#f5ff00 20.5px,#fff100 22.5px,#ffca00 28.5px,#ffb800 42.5px,#ffa100 82.5px,#ffa900 128.5px,#fcff00 206.5px,#eaff00 244.5px,#e5ff00 281.5px)"></i><i style="left:208px;background:linear-gradient(#1aff00 6.5px,#3fff00 10.5px,#a3ff00 16.5px,#eaff00 20.5px,#fffa00 22.5px,#ffd900 26.5px,#ffc100 34.5px,#ffa300 80.5px,#ffaa00 126.5px,#fdff00 202.5px,#e9ff00 242.5px,#e3ff00 281.5px)"></i><i style="left:210px;background:linear-gradient(#17ff00 6.5px,#3aff00 10.5px,#74ff00 14.5px,#dfff00 20.5px,#fbff00 22.5px,#ffd400 28.5px,#ffc000 38.5px,#ffa400 82.5px,#ffad00 126.5px,#fcff00 200.5px,#e7ff00 240.5px,#e1ff00 281.5px)"></i><i style="left:212px;background:linear-gradient(#15ff00 6.5px,#34ff00 10.5px,#6bff00 14.5px,#f0ff00 22.5px,#fff800 24.5px,#ffd200 30.5px,#ffbe00 44.5px,#ffa500 86.5px,#ffaf00 126.5px,#fdff00 196.5px,#e6ff00 234.5px,#deff00 281.5px)"></i><i style="left:214px;background:linear-gradient(#12ff00 6.5px,#2fff00 10.5px,#62ff00 14.5px,#e6ff00 22.5px,#fdff00 24.5px,#ffd700 30.5px,#ffc200 42.5px,#ffa700 86.5px,#ffb200 126.5px,#fcff00 194.5px,#e5ff00 232.5px,#dcff00 280.5px,#dbff00 281.5px)"></i><i style="left:216px;background:linear-gradient(#0fff00 6.5px,#2aff00 10.5px,#7aff00 16.5px,#dbff00 22.5px,#f4ff00 24.5px,#fff600 26.5px,#ffd600 32.5px,#ffc100 48.5px,#ffa900 88.5px,#ffb400 124.5px,#fbff00 192.5px,#e3ff00 232.5px,#dbff00 278.5px,#d9ff00 281.5px)"></i><i style="left:218px;background:linear-gradient(#0cff00 6.5px,#3aff00 12.5px,#90ff00 18.5px,#eaff00 24.5px,#fefe00 26.5px,#ffdb00 32.5px,#ffc600 46.5px,#ffaa00 90.5px,#ffb800 126.5px,#fcff00 188.5px,#e2ff00 228.5px,#daff00 276.5px,#d6ff00 281.5px)"></i><i style="left:220px;background:linear-gradient(#0aff00 6.5px,#33ff00 12.5px,#85ff00 18.5px,#dfff00 24.5px,#f6ff00 26.5px,#ffea00 30.5px,#ffd100 38.5px,#ffac00 92.5px,#ffbb00 126.5px,#fbff00 186.5px,#e1ff00 226.5px,#d9ff00 274.5px,#d3ff00 281.5px)"></i><i style="left:222px;background:linear-gradient(#07ff00 6.5px,#2dff00 12.5px,#7bff00 18.5px,#d5ff00 24.5px,#fefe00 28.5px,#ffd900 36.5px,#ffc000 64.5px,#ffaf00 94.5px,#ffc000 128.5px,#fcff00 182.5px,#e0ff00 222.5px,#d6ff00 274.5px,#d0ff00 281.5px)"></i><i style="left:224px;background:linear-gradient(#04ff00 6.5px,#28ff00 12.5px,#71ff00 18.5px,#e2ff00 26.5px,#f6ff00 28.5px,#ffed00 32.5px,#ffd300 42.5px,#ffb100 96.5px,#ffc600 130.5px,#fbff00 180.5px,#deff00 220.5px,#d5ff00 272.5px,#ceff00 281.5px)"></i><i style="left:226px;background:linear-gradient(#01ff00 6.5px,#23ff00 12.5px,#68ff00 18.5px,#d9ff00 26.5px,#feff00 30.5px,#ffde00 38.5px,#ffc500 66.5px,#ffb300 98.5px,#ffce00 134.5px,#faff00 178.5px,#ddff00 218.5px,#d4ff00 270.5px,#cbff00 281.5px)"></i><i style="left:228px;background:linear-gradient(#00ff00 6.5px,#1fff00 12.5px,#61ff00 18.5px,#d0ff00 26.5px,#f7ff00 30.5px,#fff000 34.5px,#ffd600 46.5px,#ffb600 100.5px,#ffd600 138.5px,#fbff00 174.5px,#dcff00 216.5px,#d3ff00 268.5px,#c8ff00 281.5px)"></i><i style="left:230px;background:linear-gradient(#00ff00 6.5px,#0fff00 10.5px,#42ff00 16.5px,#deff00 28.5px,#feff00 32.5px,#ffde00 42.5px,#ffb900 102.5px,#ffe100 144.5px,#faff00 172.5px,#daff00 214.5px,#d2ff00 266.5px,#c5ff00 281.5px)"></i><i style="left:232px;background:linear-gradient(#00ff00 6.5px,#0cff00 10.5px,#3eff00 16.5px,#d7ff00 28.5px,#f8ff00 32.5px,#ffeb00 38.5px,#ffd500 56.5px,#ffbc00 104.5px,#fff400 156.5px,#f7ff00 172.5px,#d8ff00 214.5px,#cfff00 266.5px,#c1ff00 281.5px)"></i><i style="left:234px;background:linear-gradient(#00ff00 6.5px,#09ff00 10.5px,#39ff00 16.5px,#cfff00 28.5px,#feff00 34.5px,#ffe000 46.5px,#ffbf00 104.5px,#fff800 156.5px,#edff00 178.5px,#d6ff00 218.5px,#ceff00 264.5px,#beff00 281.5px)"></i><i style="left:236px;background:linear-gradient(#00ff00 6.5px,#05ff00 10.5px,#33ff00 16.5px,#c7ff00 28.5px,#f7ff00 34.5px,#fff600 38.5px,#ffdc00 54.5px,#ffc300 106.5px,#fcff00 162.5px,#d8ff00 204.5px,#ccff00 264.5px,#bbff00 281.5px)"></i><i style="left:238px;background:linear-gradient(#00ff00 6.5px,#01ff00 10.5px,#2bff00 16.5px,#d0ff00 30.5px,#faff00 36.5px,#ffe100 52.5px,#ffc700 106.5px,#fbff00 160.5px,#d5ff00 204.5px,#ccff00 260.5px,#b8ff00 281.5px)"></i><i style="left:240px;background:linear-gradient(#00ff00 6.5px,#06ff00 12.5px,#35ff00 18.5px,#c3ff00 30.5px,#f2ff00 36.5px,#fff600 42.5px,#ffde00 62.5px,#ffcc00 108.5px,#faff00 158.5px,#d3ff00 204.5px,#cbff00 258.5px,#b5ff00 281.5px)"></i><i style="left:242px;background:linear-gradient(#00ff00 6.5px,#01ff00 12.5px,#29ff00 18.5px,#c8ff00 32.5px,#f3ff00 38.5px,#fff700 44.5px,#ffde00 66.5px,#ffd000 108.5px,#fbff00 154.5px,#d4ff00 198.5px,#c8ff00 258.5px,#b1ff00 281.5px)"></i><i style="left:244px;background:linear-gradient(#00ff00 6.5px,#02ff00 14.5px,#2fff00 20.5px,#ccff00 34.5px,#fbff00 42.5px,#ffe400 62.5px,#ffd400 108.5px,#faff00 152.5px,#d1ff00 198.5px,#c6ff00 258.5px,#aeff00 281.5px)"></i><i style="left:246px;background:linear-gradient(#00ff00 6.5px,#06ff00 16.5px,#36ff00 22.5px,#bdff00 34.5px,#e9ff00 40.5px,#fffe00 46.5px,#ffe500 66.5px,#ffd800 108.5px,#fbff00 148.5px,#d0ff00 196.5px,#c6ff00 254.5px,#aaff00 281.5px)"></i><i style="left:248px;background:linear-gradient(#00ff00 6.5px,#00ff00 16.5px,#2bff00 22.5px,#c2ff00 36.5px,#f3ff00 44.5px,#fffa00 50.5px,#ffe000 80.5px,#ffdf00 114.5px,#faff00 146.5px,#d0ff00 192.5px,#c3ff00 254.5px,#a7ff00 281.5px)"></i><i style="left:250px;background:linear-gradient(#00ff00 6.5px,#05ff00 18.5px,#4aff00 26.5px,#b8ff00 36.5px,#edff00 44.5px,#fffb00 52.5px,#ffe000 88.5px,#ffe600 118.5px,#f9ff00 144.5px,#ceff00 190.5px,#c2ff00 252.5px,#a3ff00 281.5px)"></i><i style="left:252px;background:linear-gradient(#00ff00 6.5px,#03ff00 18.5px,#31ff00 24.5px,#c3ff00 38.5px,#efff00 46.5px,#fffb00 54.5px,#ffe300 90.5px,#ffe900 118.5px,#faff00 140.5px,#cdff00 188.5px,#c0ff00 252.5px,#a0ff00 281.5px)"></i><i style="left:254px;background:linear-gradient(#00ff00 6.5px,#02ff00 18.5px,#44ff00 26.5px,#c0ff00 38.5px,#ecff00 46.5px,#fffe00 54.5px,#ffe600 88.5px,#ffec00 118.5px,#f9ff00 138.5px,#ccff00 186.5px,#bfff00 250.5px,#9cff00 281.5px)"></i><i style="left:256px;background:linear-gradient(#00ff00 6.5px,#04ff00 18.5px,#46ff00 26.5px,#aeff00 36.5px,#e2ff00 44.5px,#feff00 54.5px,#ffe800 92.5px,#fff100 120.5px,#f8ff00 136.5px,#c9ff00 186.5px,#bfff00 246.5px,#99ff00 281.5px)"></i><i style="left:258px;background:linear-gradient(#00ff00 6.5px,#06ff00 18.5px,#49ff00 26.5px,#b0ff00 36.5px,#e1ff00 44.5px,#ffff00 56.5px,#ffea00 94.5px,#fff800 124.5px,#edff00 142.5px,#c7ff00 186.5px,#bcff00 246.5px,#95ff00 281.5px)"></i><i style="left:260px;background:linear-gradient(#00ff00 6.5px,#00ff00 16.5px,#27ff00 22.5px,#b0ff00 36.5px,#e0ff00 44.5px,#fdff00 56.5px,#ffec00 98.5px,#fffd00 126.5px,#caff00 176.5px,#baff00 246.5px,#92ff00 281.5px)"></i><i style="left:262px;background:linear-gradient(#00ff00 6.5px,#00ff00 16.5px,#3aff00 24.5px,#afff00 36.5px,#deff00 44.5px,#fdff00 58.5px,#ffef00 100.5px,#fbff00 130.5px,#d7ff00 156.5px,#c1ff00 198.5px,#baff00 242.5px,#8eff00 281.5px)"></i><i style="left:264px;background:linear-gradient(#00ff00 6.5px,#00ff00 16.5px,#26ff00 22.5px,#abff00 36.5px,#daff00 44.5px,#f8ff00 56.5px,#fff500 78.5px,#fff500 114.5px,#f9ff00 130.5px,#d4ff00 156.5px,#c0ff00 194.5px,#b9ff00 240.5px,#8bff00 281.5px)"></i><i style="left:266px;background:linear-gradient(#00ff00 6.5px,#03ff00 18.5px,#54ff00 28.5px,#b2ff00 38.5px,#dcff00 46.5px,#faff00 60.5px,#fff500 108.5px,#fbff00 128.5px,#d5ff00 152.5px,#beff00 192.5px,#b8ff00 238.5px,#87ff00 281.5px)"></i><i style="left:268px;background:linear-gradient(#00ff00 6.5px,#00ff00 18.5px,#15ff00 22.5px,#b4ff00 40.5px,#e2ff00 50.5px,#feff00 68.5px,#fff800 110.5px,#f9ff00 128.5px,#d0ff00 154.5px,#bdff00 192.5px,#b7ff00 236.5px,#83ff00 281.5px)"></i><i style="left:270px;background:linear-gradient(#00ff00 6.5px,#00ff00 20.5px,#26ff00 26.5px,#a5ff00 40.5px,#d3ff00 48.5px,#f4ff00 62.5px,#fffa00 86.5px,#faff00 126.5px,#cbff00 156.5px,#bbff00 194.5px,#b4ff00 236.5px,#80ff00 281.5px)"></i><i style="left:272px;background:linear-gradient(#00ff00 6.5px,#00ff00 22.5px,#36ff00 30.5px,#a3ff00 42.5px,#d8ff00 52.5px,#f4ff00 66.5px,#fffc00 92.5px,#f8ff00 126.5px,#d4ff00 148.5px,#c0ff00 168.5px,#b1ff00 236.5px,#7cff00 281.5px)"></i><i style="left:274px;background:linear-gradient(#00ff00 6.5px,#00ff00 24.5px,#36ff00 32.5px,#afff00 46.5px,#dcff00 56.5px,#f8ff00 74.5px,#feff00 116.5px,#e1ff00 142.5px,#c4ff00 158.5px,#b8ff00 198.5px,#b0ff00 234.5px,#78ff00 281.5px)"></i><i style="left:276px;background:linear-gradient(#00ff00 6.5px,#01ff00 26.5px,#49ff00 36.5px,#a1ff00 46.5px,#d5ff00 56.5px,#f3ff00 72.5px,#ffff00 108.5px,#e8ff00 138.5px,#bfff00 160.5px,#b7ff00 202.5px,#acff00 236.5px,#75ff00 281.5px)"></i><i style="left:278px;background:linear-gradient(#00ff00 6.5px,#05ff00 28.5px,#62ff00 40.5px,#b1ff00 50.5px,#dbff00 60.5px,#f7ff00 80.5px,#f9ff00 118.5px,#dbff00 146.5px,#bcff00 162.5px,#acff00 232.5px,#71ff00 281.5px)"></i><i style="left:280px;background:linear-gradient(#00ff00 6.5px,#02ff00 28.5px,#49ff00 38.5px,#abff00 50.5px,#d8ff00 60.5px,#f3ff00 78.5px,#f9ff00 114.5px,#dfff00 144.5px,#b8ff00 164.5px,#adff00 228.5px,#6fff00 280.5px,#6dff00 281.5px)"></i><i style="left:282px;background:linear-gradient(#00ff00 6.5px,#02ff00 28.5px,#5aff00 40.5px,#a9ff00 50.5px,#d5ff00 60.5px,#f0ff00 76.5px,#f8ff00 112.5px,#e2ff00 142.5px,#b4ff00 168.5px,#aaff00 228.5px,#6aff00 281.5px)"></i><i style="left:284px;background:linear-gradient(#00ff00 6.5px,#04ff00 28.5px,#5dff00 40.5px,#aaff00 50.5px,#d4ff00 60.5px,#f0ff00 78.5px,#f6ff00 116.5px,#ddff00 146.5px,#b2ff00 170.5px,#abff00 224.5px,#70ff00 274.5px,#66ff00 281.5px)"></i><i style="left:286px;background:linear-gradient(#00ff00 6.5px,#00ff00 26.5px,#41ff00 36.5px,#a0ff00 48.5px,#cfff00 58.5px,#ebff00 74.5px,#f6ff00 110.5px,#e0ff00 144.5px,#afff00 172.5px,#a9ff00 222.5px,#72ff00 270.5px,#63ff00 281.5px)"></i><i style="left:288px;background:linear-gradient(#00ff00 6.5px,#03ff00 26.5px,#57ff00 38.5px,#a3ff00 48.5px,#d5ff00 60.5px,#f0ff00 82.5px,#f2ff00 122.5px,#d6ff00 152.5px,#adff00 174.5px,#a7ff00 222.5px,#69ff00 274.5px,#5fff00 281.5px)"></i><i style="left:290px;background:linear-gradient(#00ff00 6.5px,#00ff00 24.5px,#2dff00 32.5px,#a5ff00 48.5px,#cfff00 58.5px,#ebff00 76.5px,#f3ff00 116.5px,#d9ff00 150.5px,#acff00 178.5px,#a6ff00 220.5px,#68ff00 272.5px,#5bff00 281.5px)"></i><i style="left:292px;background:linear-gradient(#00ff00 6.5px,#00ff00 24.5px,#3dff00 34.5px,#a5ff00 48.5px,#d3ff00 60.5px,#eeff00 82.5px,#eeff00 126.5px,#cfff00 158.5px,#aaff00 178.5px,#a5ff00 218.5px,#6aff00 268.5px,#58ff00 281.5px)"></i><i style="left:294px;background:linear-gradient(#00ff00 6.5px,#00ff00 24.5px,#3aff00 34.5px,#a2ff00 48.5px,#d1ff00 60.5px,#ebff00 80.5px,#eeff00 124.5px,#d1ff00 158.5px,#a9ff00 182.5px,#a1ff00 220.5px,#54ff00 281.5px)"></i><i style="left:296px;background:linear-gradient(#00ff00 6.5px,#04ff00 26.5px,#52ff00 38.5px,#a6ff00 50.5px,#d1ff00 62.5px,#ebff00 84.5px,#ebff00 128.5px,#caff00 164.5px,#a8ff00 184.5px,#9eff00 220.5px,#51ff00 281.5px)"></i><i style="left:298px;background:linear-gradient(#00ff00 6.5px,#00ff00 26.5px,#37ff00 36.5px,#9cff00 50.5px,#c7ff00 60.5px,#e4ff00 78.5px,#edff00 118.5px,#d5ff00 156.5px,#a6ff00 188.5px,#99ff00 222.5px,#4dff00 281.5px)"></i><i style="left:300px;background:linear-gradient(#00ff00 6.5px,#00ff00 28.5px,#46ff00 40.5px,#9bff00 52.5px,#cbff00 64.5px,#e6ff00 86.5px,#e8ff00 130.5px,#c8ff00 168.5px,#a5ff00 190.5px,#94ff00 224.5px,#4aff00 281.5px)"></i><i style="left:302px;background:linear-gradient(#00ff00 6.5px,#00ff00 30.5px,#45ff00 42.5px,#a4ff00 56.5px,#cdff00 68.5px,#e6ff00 90.5px,#e6ff00 134.5px,#c4ff00 172.5px,#a3ff00 192.5px,#8fff00 226.5px,#46ff00 281.5px)"></i><i style="left:304px;background:linear-gradient(#00ff00 6.5px,#00ff00 32.5px,#44ff00 44.5px,#97ff00 56.5px,#c7ff00 68.5px,#e2ff00 88.5px,#e6ff00 130.5px,#c7ff00 172.5px,#a1ff00 196.5px,#85ff00 232.5px,#43ff00 281.5px)"></i><i style="left:306px;background:linear-gradient(#00ff00 6.5px,#01ff00 34.5px,#45ff00 46.5px,#97ff00 58.5px,#c5ff00 70.5px,#e0ff00 90.5px,#e5ff00 130.5px,#cbff00 170.5px,#9eff00 200.5px,#75ff00 242.5px,#3fff00 281.5px)"></i><i style="left:308px;background:linear-gradient(#00ff00 6.5px,#03ff00 36.5px,#58ff00 50.5px,#a3ff00 62.5px,#cdff00 76.5px,#e3ff00 102.5px,#deff00 146.5px,#bdff00 182.5px,#9bff00 202.5px,#6cff00 246.5px,#3cff00 281.5px)"></i><i style="left:310px;background:linear-gradient(#00ff00 6.5px,#00ff00 36.5px,#52ff00 50.5px,#9dff00 62.5px,#c6ff00 74.5px,#e0ff00 98.5px,#deff00 144.5px,#bfff00 182.5px,#97ff00 204.5px,#60ff00 252.5px,#39ff00 281.5px)"></i><i style="left:312px;background:linear-gradient(#00ff00 6.5px,#00ff00 36.5px,#50ff00 50.5px,#9bff00 62.5px,#c8ff00 76.5px,#e0ff00 102.5px,#dcff00 148.5px,#bfff00 184.5px,#93ff00 206.5px,#4eff00 262.5px,#35ff00 281.5px)"></i><i style="left:314px;background:linear-gradient(#00ff00 6.5px,#02ff00 36.5px,#52ff00 50.5px,#9bff00 62.5px,#c3ff00 74.5px,#ddff00 98.5px,#ddff00 146.5px,#beff00 186.5px,#95ff00 204.5px,#32ff00 281.5px)"></i><i style="left:316px;background:linear-gradient(#00ff00 6.5px,#05ff00 36.5px,#55ff00 50.5px,#9cff00 62.5px,#c2ff00 74.5px,#dbff00 96.5px,#ddff00 144.5px,#c3ff00 184.5px,#9aff00 204.5px,#88ff00 212.5px,#2fff00 281.5px)"></i><i style="left:318px;background:linear-gradient(#00ff00 6.5px,#00ff00 34.5px,#4cff00 48.5px,#9eff00 62.5px,#c6ff00 76.5px,#ddff00 102.5px,#d9ff00 154.5px,#bdff00 190.5px,#98ff00 206.5px,#83ff00 214.5px,#2cff00 281.5px)"></i><i style="left:320px;background:linear-gradient(#00ff00 6.5px,#03ff00 34.5px,#50ff00 48.5px,#9fff00 62.5px,#c6ff00 76.5px,#dcff00 104.5px,#d7ff00 160.5px,#b9ff00 194.5px,#8fff00 210.5px,#7eff00 216.5px,#29ff00 281.5px)"></i><i style="left:322px;background:linear-gradient(#00ff00 6.5px,#04ff00 34.5px,#50ff00 48.5px,#96ff00 60.5px,#c1ff00 74.5px,#daff00 100.5px,#d8ff00 156.5px,#beff00 192.5px,#94ff00 210.5px,#78ff00 218.5px,#25ff00 281.5px)"></i><i style="left:324px;background:linear-gradient(#00ff00 6.5px,#03ff00 34.5px,#4dff00 48.5px,#9bff00 62.5px,#c2ff00 76.5px,#daff00 104.5px,#d6ff00 162.5px,#baff00 196.5px,#92ff00 212.5px,#72ff00 220.5px,#22ff00 281.5px)"></i><i style="left:326px;background:linear-gradient(#00ff00 6.5px,#00ff00 34.5px,#47ff00 48.5px,#96ff00 62.5px,#bfff00 76.5px,#d8ff00 104.5px,#d5ff00 164.5px,#b9ff00 198.5px,#8fff00 214.5px,#6cff00 222.5px,#1fff00 281.5px)"></i><i style="left:328px;background:linear-gradient(#00ff00 6.5px,#02ff00 36.5px,#56ff00 52.5px,#96ff00 64.5px,#beff00 78.5px,#d7ff00 106.5px,#d3ff00 168.5px,#b7ff00 200.5px,#8dff00 216.5px,#66ff00 224.5px,#1dff00 281.5px)"></i><i style="left:330px;background:linear-gradient(#00ff00 6.5px,#02ff00 38.5px,#57ff00 54.5px,#9dff00 68.5px,#c3ff00 84.5px,#d8ff00 118.5px,#ceff00 178.5px,#aeff00 206.5px,#8bff00 218.5px,#61ff00 226.5px,#1aff00 281.5px)"></i><i style="left:332px;background:linear-gradient(#00ff00 6.5px,#02ff00 40.5px,#55ff00 56.5px,#9bff00 70.5px,#c1ff00 86.5px,#d6ff00 118.5px,#ceff00 178.5px,#b1ff00 206.5px,#89ff00 220.5px,#56ff00 230.5px,#17ff00 281.5px)"></i><i style="left:334px;background:linear-gradient(#00ff00 6.5px,#02ff00 42.5px,#47ff00 56.5px,#91ff00 70.5px,#b9ff00 84.5px,#d2ff00 112.5px,#d0ff00 172.5px,#b7ff00 204.5px,#8fff00 220.5px,#50ff00 232.5px,#14ff00 281.5px)"></i><i style="left:336px;background:linear-gradient(#00ff00 6.5px,#03ff00 44.5px,#53ff00 60.5px,#98ff00 74.5px,#beff00 90.5px,#d3ff00 122.5px,#ccff00 180.5px,#aeff00 210.5px,#85ff00 224.5px,#4aff00 234.5px,#12ff00 281.5px)"></i><i style="left:338px;background:linear-gradient(#00ff00 6.5px,#05ff00 46.5px,#55ff00 62.5px,#98ff00 76.5px,#bdff00 92.5px,#d2ff00 126.5px,#caff00 184.5px,#adff00 212.5px,#83ff00 226.5px,#46ff00 236.5px,#11ff00 278.5px,#0fff00 281.5px)"></i><i style="left:340px;background:linear-gradient(#00ff00 6.5px,#02ff00 46.5px,#4fff00 62.5px,#93ff00 76.5px,#baff00 92.5px,#d0ff00 124.5px,#cbff00 182.5px,#afff00 212.5px,#8aff00 226.5px,#52ff00 236.5px,#3aff00 240.5px,#0cff00 281.5px)"></i><i style="left:342px;background:linear-gradient(#00ff00 6.5px,#01ff00 46.5px,#4dff00 62.5px,#91ff00 76.5px,#b8ff00 92.5px,#ceff00 124.5px,#caff00 184.5px,#b2ff00 212.5px,#88ff00 228.5px,#50ff00 238.5px,#34ff00 242.5px,#0aff00 281.5px)"></i><i style="left:344px;background:linear-gradient(#00ff00 6.5px,#02ff00 46.5px,#4eff00 62.5px,#90ff00 76.5px,#b7ff00 92.5px,#ceff00 126.5px,#c9ff00 186.5px,#b1ff00 214.5px,#87ff00 230.5px,#4fff00 240.5px,#2fff00 244.5px,#08ff00 281.5px)"></i><i style="left:346px;background:linear-gradient(#00ff00 6.5px,#05ff00 46.5px,#50ff00 62.5px,#98ff00 78.5px,#bbff00 96.5px,#ceff00 136.5px,#c5ff00 194.5px,#a8ff00 220.5px,#7dff00 234.5px,#3dff00 244.5px,#2cff00 246.5px,#0aff00 274.5px,#05ff00 281.5px)"></i><i style="left:348px;background:linear-gradient(#00ff00 6.5px,#00ff00 44.5px,#48ff00 60.5px,#92ff00 76.5px,#b6ff00 92.5px,#ccff00 128.5px,#c7ff00 190.5px,#abff00 220.5px,#84ff00 234.5px,#4dff00 244.5px,#1fff00 250.5px,#03ff00 281.5px)"></i><i style="left:350px;background:linear-gradient(#00ff00 6.5px,#02ff00 44.5px,#4bff00 60.5px,#92ff00 76.5px,#b8ff00 94.5px,#ccff00 134.5px,#c4ff00 196.5px,#aaff00 222.5px,#83ff00 236.5px,#4cff00 246.5px,#1aff00 252.5px,#01ff00 281.5px)"></i><i style="left:352px;background:linear-gradient(#00ff00 6.5px,#03ff00 44.5px,#4bff00 60.5px,#92ff00 76.5px,#b9ff00 96.5px,#ccff00 138.5px,#c2ff00 200.5px,#a5ff00 226.5px,#79ff00 240.5px,#4bff00 248.5px,#17ff00 254.5px,#00ff00 280.5px,#00ff00 281.5px)"></i><i style="left:354px;background:linear-gradient(#00ff00 6.5px,#02ff00 44.5px,#48ff00 60.5px,#8fff00 76.5px,#b5ff00 94.5px,#caff00 136.5px,#c2ff00 200.5px,#a4ff00 228.5px,#79ff00 242.5px,#3bff00 252.5px,#15ff00 256.5px,#07ff00 264.5px,#00ff00 281.5px)"></i><i style="left:356px;background:linear-gradient(#00ff00 6.5px,#00ff00 44.5px,#43ff00 60.5px,#8bff00 76.5px,#b2ff00 94.5px,#c8ff00 130.5px,#c3ff00 196.5px,#aaff00 226.5px,#80ff00 242.5px,#4bff00 252.5px,#08ff00 260.5px,#00ff00 281.5px)"></i><i style="left:358px;background:linear-gradient(#00ff00 6.5px,#01ff00 46.5px,#45ff00 62.5px,#8bff00 78.5px,#b1ff00 96.5px,#c7ff00 136.5px,#c1ff00 200.5px,#a9ff00 228.5px,#80ff00 244.5px,#4bff00 254.5px,#05ff00 262.5px,#00ff00 281.5px)"></i><i style="left:360px;background:linear-gradient(#00ff00 6.5px,#02ff00 48.5px,#45ff00 64.5px,#89ff00 80.5px,#afff00 98.5px,#c5ff00 134.5px,#c1ff00 200.5px,#a8ff00 230.5px,#7fff00 246.5px,#4bff00 256.5px,#05ff00 264.5px,#00ff00 281.5px)"></i><i style="left:362px;background:linear-gradient(#00ff00 6.5px,#02ff00 50.5px,#43ff00 66.5px,#87ff00 82.5px,#aeff00 100.5px,#c4ff00 138.5px,#bfff00 204.5px,#a3ff00 234.5px,#7fff00 248.5px,#4cff00 258.5px,#06ff00 266.5px,#00ff00 281.5px)"></i><i style="left:364px;background:linear-gradient(#00ff00 6.5px,#01ff00 52.5px,#41ff00 68.5px,#85ff00 84.5px,#acff00 102.5px,#c3ff00 142.5px,#bdff00 208.5px,#a3ff00 236.5px,#76ff00 252.5px,#3eff00 262.5px,#08ff00 268.5px,#00ff00 272.5px,#00ff00 281.5px)"></i><i style="left:366px;background:linear-gradient(#00ff00 6.5px,#01ff00 54.5px,#4bff00 72.5px,#8aff00 88.5px,#afff00 108.5px,#c3ff00 152.5px,#baff00 212.5px,#9eff00 240.5px,#6eff00 256.5px,#30ff00 266.5px,#00ff00 272.5px,#00ff00 281.5px)"></i><i style="left:368px;background:linear-gradient(#00ff00 6.5px,#02ff00 56.5px,#43ff00 72.5px,#84ff00 88.5px,#a9ff00 106.5px,#bfff00 142.5px,#bcff00 208.5px,#a1ff00 240.5px,#76ff00 256.5px,#40ff00 266.5px,#00ff00 274.5px,#00ff00 281.5px)"></i><i style="left:370px;background:linear-gradient(#00ff00 6.5px,#00ff00 56.5px,#3dff00 72.5px,#86ff00 90.5px,#acff00 110.5px,#c0ff00 154.5px,#b8ff00 216.5px,#9cff00 244.5px,#6eff00 260.5px,#34ff00 270.5px,#02ff00 276.5px,#00ff00 281.5px)"></i><i style="left:372px;width:8.5px;background:linear-gradient(#00ff00 6.5px,#04ff00 58.5px,#4eff00 76.5px,#89ff00 92.5px,#acff00 112.5px,#bfff00 158.5px,#b6ff00 220.5px,#98ff00 248.5px,#66ff00 264.5px,#27ff00 274.5px,#04ff00 278.5px,#00ff00 281.5px)"></i></div></div>
<div class="hm" style="left:397.1px;width:375.0px"><div class="hb" style="transform:scaleX(1.00267)"><i style="left:-6px;width:8.5px;background:linear-gradient(#7f00c2 6.5px,#6d00d0 10.5px,#6500d5 281.5px)"></i><i style="left:2px;background:linear-gradient(#da005a 6.5px,#ab0099 8.5px,#9800ac 10.5px,#8d00b7 18.5px,#8700bc 184.5px,#6d00d0 281.5px)"></i><i style="left:4px;background:linear-gradient(#ff2400 6.5px,#d40068 8.5px,#bd0086 10.5px,#b10094 16.5px,#aa009c 210.5px,#9a00ab 281.5px)"></i><i style="left:6px;background:linear-gradient(#ff8400 6.5px,#ea0042 8.5px,#cf006f 10.5px,#c3007f 14.5px,#c4007d 94.5px,#b40090 281.5px)"></i><i style="left:8px;background:linear-gradient(#f2ed00 6.5px,#fe0e0b 8.5px,#e00054 10.5px,#d30068 14.5px,#d0006d 90.5px,#e10052 96.5px,#d80060 122.5px,#d0006d 162.5px,#c4007c 281.5px)"></i><i style="left:10px;background:linear-gradient(#7eff00 6.5px,#ff5b00 8.5px,#f3002e 10.5px,#e90044 12.5px,#e20051 22.5px,#e00055 90.5px,#f70025 96.5px,#fd030b 98.5px,#ff1200 100.5px,#ff3100 104.5px,#fe3807 110.5px,#fa2415 116.5px,#f40026 124.5px,#e80046 138.5px,#df0056 172.5px,#d40067 281.5px)"></i><i style="left:12px;background:linear-gradient(#07ff00 6.5px,#ffc000 8.5px,#ff2300 10.5px,#fc0910 12.5px,#f70023 16.5px,#f20030 38.5px,#ef0037 90.5px,#fb0018 100.5px,#fe0007 102.5px,#ff1d00 106.5px,#ff9600 116.5px,#ffa600 120.5px,#ff9c00 124.5px,#ff2b00 136.5px,#fb0d11 144.5px,#f70020 154.5px,#ee0039 178.5px,#e3004f 281.5px)"></i><i style="left:14px;background:linear-gradient(#00ff00 6.5px,#bcff00 8.5px,#ffa100 10.5px,#ff8000 12.5px,#ff6100 18.5px,#ff4e00 30.5px,#ff2b03 34.5px,#fb0111 38.5px,#f60027 40.5px,#f60027 94.5px,#fe0707 110.5px,#ff2e00 120.5px,#ff5f00 126.5px,#ffae00 134.5px,#ffbb00 138.5px,#ffad00 142.5px,#ff3c00 154.5px,#ff1700 162.5px,#fd000d 176.5px,#f70024 192.5px,#f20032 281.5px)"></i><i style="left:16px;background:linear-gradient(#00ff00 6.5px,#84ff00 8.5px,#ffd600 10.5px,#ffbe00 12.5px,#ffa900 22.5px,#ffa300 30.5px,#ff8e00 32.5px,#ff3300 36.5px,#fe0908 38.5px,#f60026 40.5px,#f4002d 46.5px,#f70025 108.5px,#fe0708 126.5px,#ff1b00 134.5px,#ff3e00 140.5px,#ffaf00 152.5px,#ffb900 156.5px,#ff9e00 162.5px,#ff3800 174.5px,#ff0f00 184.5px,#fc0014 194.5px,#f4002b 208.5px,#f5002a 281.5px)"></i><i style="left:18px;background:linear-gradient(#00ff00 6.5px,#e9fe00 8.5px,#ff4c00 10.5px,#ff2100 12.5px,#fb0c12 16.5px,#f9001d 28.5px,#f30030 44.5px,#f70024 116.5px,#f9001f 132.5px,#ff0a06 146.5px,#ff2500 154.5px,#ff5e00 162.5px,#ffa400 170.5px,#ffb600 174.5px,#ffaa00 180.5px,#ff6600 188.5px,#ff2500 194.5px,#fe030a 200.5px,#f4002d 208.5px,#f4002c 281.5px)"></i><i style="left:20px;background:linear-gradient(#00ff00 6.5px,#ffe400 8.5px,#ff1b00 10.5px,#fb0018 12.5px,#f4002e 16.5px,#f10033 54.5px,#f60028 102.5px,#f9001d 118.5px,#f4002d 132.5px,#fa0019 154.5px,#ff1400 170.5px,#ff3c00 178.5px,#ff9400 188.5px,#ff9600 192.5px,#ff7b00 196.5px,#ff1300 204.5px,#fc000f 206.5px,#f3002e 208.5px,#f60027 228.5px,#f3002e 252.5px,#f4002d 281.5px)"></i><i style="left:22px;background:linear-gradient(#00ff00 6.5px,#ffdd00 8.5px,#ff1600 10.5px,#f9001d 12.5px,#f20031 16.5px,#f00035 52.5px,#f5002b 92.5px,#fe0507 112.5px,#fd000e 124.5px,#f20031 128.5px,#f70024 168.5px,#fe070a 184.5px,#ff1700 196.5px,#ff1605 202.5px,#fc0110 206.5px,#f20030 208.5px,#f9001e 216.5px,#f70024 230.5px,#f30030 236.5px,#f3002f 281.5px)"></i><i style="left:24px;background:linear-gradient(#00ff00 6.5px,#ffe100 8.5px,#ff1900 10.5px,#fa001a 12.5px,#f3002f 16.5px,#ef0037 48.5px,#f20031 82.5px,#fc0016 96.5px,#ff0b02 102.5px,#ff5000 114.5px,#ff4800 118.5px,#ff2b00 122.5px,#ff1400 124.5px,#fc0011 126.5px,#f10033 128.5px,#f5002a 184.5px,#f70024 202.5px,#f20032 208.5px,#f3002e 210.5px,#fe000c 214.5px,#fd000f 228.5px,#f20032 234.5px,#f20031 281.5px)"></i><i style="left:26px;background:linear-gradient(#00ff00 6.5px,#ffe800 8.5px,#ff2100 10.5px,#fd0010 12.5px,#f5002a 16.5px,#ef0037 42.5px,#f20031 80.5px,#fe0807 92.5px,#ff2100 96.5px,#ff6000 102.5px,#ff7000 106.5px,#ff6000 112.5px,#ff2700 118.5px,#ff1300 120.5px,#fa0018 124.5px,#f00035 128.5px,#f10035 208.5px,#f4002b 210.5px,#fe0208 212.5px,#ff1300 214.5px,#ff1600 220.5px,#ff1000 228.5px,#ff0503 230.5px,#f10034 234.5px,#f10034 281.5px)"></i><i style="left:28px;background:linear-gradient(#00ff00 6.5px,#fff400 8.5px,#ff2e00 10.5px,#ff0700 12.5px,#fa001c 16.5px,#f00036 36.5px,#f20032 72.5px,#f70024 80.5px,#fe040a 84.5px,#ff2f00 88.5px,#ff6800 94.5px,#ff6800 98.5px,#ff1c00 106.5px,#fc0010 116.5px,#f20031 126.5px,#ef0037 148.5px,#f00037 208.5px,#f80020 210.5px,#ff2800 212.5px,#ff4e00 214.5px,#ff5600 216.5px,#ff4000 228.5px,#ff2800 230.5px,#fe0507 232.5px,#f00036 234.5px,#f00036 281.5px)"></i><i style="left:30px;background:linear-gradient(#00ff00 6.5px,#fcff00 8.5px,#ff4000 10.5px,#ff1a00 12.5px,#ff0502 16.5px,#fb0016 24.5px,#f10034 34.5px,#f10034 66.5px,#fb0016 78.5px,#fe0409 80.5px,#ff1400 82.5px,#ff7400 86.5px,#ff6100 90.5px,#ff1000 98.5px,#fb0015 104.5px,#ef0037 128.5px,#ef0038 208.5px,#ff0503 210.5px,#ff7200 212.5px,#ffbc00 214.5px,#ffcd00 216.5px,#ffbf00 224.5px,#fecd00 228.5px,#ffb000 230.5px,#ff6800 232.5px,#f90917 234.5px,#f10034 238.5px,#ef0038 281.5px)"></i><i style="left:32px;background:linear-gradient(#00ff00 6.5px,#f1ff00 8.5px,#ff4e00 10.5px,#ff2b00 12.5px,#ff1500 18.5px,#ff0600 24.5px,#f4002c 32.5px,#f10034 64.5px,#fb0016 72.5px,#ff0900 76.5px,#ff1400 78.5px,#ff3000 80.5px,#ff6e00 82.5px,#ff8100 84.5px,#ff1f00 88.5px,#ff0605 92.5px,#f50029 104.5px,#ef0037 140.5px,#ef0037 208.5px,#fe0308 210.5px,#ff5c00 212.5px,#ffa100 214.5px,#ffb600 216.5px,#ffcd00 224.5px,#fee000 226.5px,#e5ef00 228.5px,#e6e400 230.5px,#ffb200 232.5px,#ff1f00 234.5px,#fb0112 236.5px,#f3002f 238.5px,#ef0037 248.5px,#ef0037 281.5px)"></i><i style="left:34px;background:linear-gradient(#00ff00 6.5px,#eaff00 8.5px,#ff5500 10.5px,#ff3200 12.5px,#ff1b00 18.5px,#ff0b00 24.5px,#ff0100 26.5px,#f80021 30.5px,#f3002f 36.5px,#f10033 64.5px,#f4002d 66.5px,#fe0407 70.5px,#ff3000 76.5px,#ff4f00 78.5px,#ff7f00 80.5px,#ff7c00 82.5px,#ff4600 84.5px,#ff1d00 86.5px,#ff0700 88.5px,#f9001d 94.5px,#f10033 108.5px,#ef0036 208.5px,#f80022 210.5px,#ff1500 212.5px,#ff3600 214.5px,#ff5b00 228.5px,#ff4100 230.5px,#ff1300 232.5px,#f10034 234.5px,#ef0037 281.5px)"></i><i style="left:36px;background:linear-gradient(#00ff00 6.5px,#e3ff00 8.5px,#ff5a00 10.5px,#ff3500 12.5px,#ff1e00 16.5px,#ff0300 26.5px,#f9001f 32.5px,#f10033 60.5px,#f20031 64.5px,#f80020 66.5px,#ff1a00 68.5px,#ff8d00 74.5px,#ffae00 76.5px,#ffb000 78.5px,#ff5500 82.5px,#ff2000 86.5px,#ff0304 90.5px,#f70024 98.5px,#f10035 118.5px,#f00036 208.5px,#f5002a 210.5px,#ff0a00 214.5px,#ff1700 228.5px,#ff0701 230.5px,#f00036 234.5px,#f00036 281.5px)"></i><i style="left:38px;background:linear-gradient(#00ff00 6.5px,#dbff00 8.5px,#ff5f00 10.5px,#ff3800 12.5px,#ff1e00 16.5px,#ff0305 30.5px,#f3002f 58.5px,#f4002d 64.5px,#ff0500 66.5px,#ffd000 70.5px,#b7ff00 72.5px,#4fff00 74.5px,#41ff00 76.5px,#83ff00 78.5px,#e7ed00 80.5px,#ffa300 82.5px,#ff6400 84.5px,#ff3f00 86.5px,#ff1700 90.5px,#fe0209 96.5px,#f60026 106.5px,#f00035 132.5px,#f00035 208.5px,#fb0018 214.5px,#fd000b 228.5px,#f00035 234.5px,#f00035 281.5px)"></i><i style="left:40px;background:linear-gradient(#00ff00 6.5px,#d0ff00 8.5px,#ff6b00 10.5px,#ff4300 12.5px,#ff2900 16.5px,#ff0404 42.5px,#f60026 58.5px,#f70025 64.5px,#ff0306 66.5px,#ff8500 70.5px,#f8c500 72.5px,#cfd800 74.5px,#c5e100 76.5px,#c8f200 78.5px,#e2fd00 80.5px,#fffa00 82.5px,#ff7800 88.5px,#ff5300 90.5px,#ff2a00 94.5px,#ff0604 102.5px,#f50028 116.5px,#f00034 140.5px,#f20031 210.5px,#f70025 222.5px,#f60028 230.5px,#f00035 236.5px,#f00035 281.5px)"></i><i style="left:42px;background:linear-gradient(#00ff00 6.5px,#c0ff00 8.5px,#ff7c00 10.5px,#ff5500 12.5px,#ff3c00 16.5px,#ff1d00 40.5px,#ff0304 50.5px,#fa001b 60.5px,#fa001b 64.5px,#fd0010 66.5px,#ff1200 68.5px,#ff4200 74.5px,#ff4b00 76.5px,#ff6300 78.5px,#ffcf00 84.5px,#ffe600 86.5px,#ffe700 88.5px,#ffd200 90.5px,#ff5000 98.5px,#ff2a00 102.5px,#ff0604 110.5px,#f4002d 126.5px,#f10034 154.5px,#f3002f 214.5px,#f20032 232.5px,#f00034 281.5px)"></i><i style="left:44px;background:linear-gradient(#00ff00 6.5px,#b4ff00 8.5px,#ff8b00 10.5px,#ff6600 12.5px,#ff4e00 16.5px,#ff3f00 32.5px,#ff2600 44.5px,#ff0205 58.5px,#ff0204 66.5px,#ff2100 74.5px,#ff3600 80.5px,#ff5b00 84.5px,#ffc900 90.5px,#ffe200 92.5px,#ffed00 94.5px,#ffe800 96.5px,#ffb500 100.5px,#ff5400 106.5px,#ff2d00 110.5px,#ff0704 118.5px,#f50028 128.5px,#f10032 140.5px,#f10034 281.5px)"></i><i style="left:46px;background:linear-gradient(#00ff00 6.5px,#a6ff00 8.5px,#ff9b00 10.5px,#ff7700 12.5px,#ff5f00 16.5px,#ff5000 30.5px,#ff4100 40.5px,#ff1300 56.5px,#ff0d00 66.5px,#ff2400 82.5px,#ff4300 88.5px,#ff8c00 94.5px,#ffcd00 98.5px,#ffe600 100.5px,#fff100 102.5px,#ffec00 104.5px,#ffd800 106.5px,#ff7900 112.5px,#ff3200 118.5px,#ff0703 124.5px,#f50029 132.5px,#f60028 160.5px,#f50029 200.5px,#f20031 248.5px,#f20032 281.5px)"></i><i style="left:48px;background:linear-gradient(#00ff00 6.5px,#9aff00 8.5px,#ffa800 10.5px,#ff8500 12.5px,#ff6900 18.5px,#ff5400 38.5px,#ff2100 56.5px,#ff1600 82.5px,#ff3d00 94.5px,#ff5b00 98.5px,#ffb200 104.5px,#ffea00 108.5px,#fff600 110.5px,#fff300 112.5px,#ffe200 114.5px,#ff5200 122.5px,#ff0a00 128.5px,#f80023 132.5px,#f70024 156.5px,#fe010a 166.5px,#fd000d 196.5px,#f60029 208.5px,#f4002c 281.5px)"></i><i style="left:50px;background:linear-gradient(#00ff00 6.5px,#90ff00 8.5px,#ffb300 10.5px,#ff9000 12.5px,#ff7400 18.5px,#ff5b00 40.5px,#ff3000 58.5px,#ff1800 74.5px,#ff0f00 84.5px,#ff3700 100.5px,#ff5f00 106.5px,#ffaf00 112.5px,#ffc300 114.5px,#ffc500 118.5px,#ffa000 122.5px,#ff1500 130.5px,#f9001f 132.5px,#fa001b 156.5px,#ff0303 160.5px,#ff1300 170.5px,#ff0e00 196.5px,#ff0301 200.5px,#f80021 206.5px,#f70025 281.5px)"></i><i style="left:52px;background:linear-gradient(#00ff00 6.5px,#82ff00 8.5px,#ffbf00 10.5px,#ff9a00 12.5px,#ff8200 16.5px,#ff7200 32.5px,#ff4300 60.5px,#ff2600 72.5px,#ff0600 84.5px,#ff2100 100.5px,#ff6a00 120.5px,#ff6900 124.5px,#ff5e00 126.5px,#ff4700 128.5px,#ff2400 130.5px,#fb0017 132.5px,#fb0017 154.5px,#fd0011 156.5px,#ff0200 158.5px,#ff1a00 168.5px,#ff1800 194.5px,#ff0400 202.5px,#fb0019 206.5px,#f9001d 281.5px)"></i><i style="left:54px;background:linear-gradient(#00ff00 6.5px,#6dff00 8.5px,#ffd600 10.5px,#ffae00 12.5px,#ff9000 16.5px,#ff7d00 26.5px,#ff6800 46.5px,#ff4b00 66.5px,#ff0800 82.5px,#ff0300 90.5px,#ff2200 108.5px,#ff3100 118.5px,#ff2a00 126.5px,#ff1100 130.5px,#fd000e 132.5px,#fe0009 156.5px,#ff0800 160.5px,#ff1e00 176.5px,#ff1800 188.5px,#ff0003 204.5px,#fd0010 206.5px,#fc0015 281.5px)"></i><i style="left:56px;background:linear-gradient(#00ff00 6.5px,#4eff00 8.5px,#fcf800 10.5px,#ffd600 12.5px,#ffaa00 18.5px,#ff9200 28.5px,#ff6f00 62.5px,#ff0a00 82.5px,#ff0003 90.5px,#ff1300 110.5px,#ff1800 124.5px,#ff0400 130.5px,#fe000c 132.5px,#fe0009 156.5px,#ff0500 164.5px,#ff0b00 168.5px,#ff1f00 172.5px,#ff1a00 186.5px,#ff0700 190.5px,#ff0006 204.5px,#fe000c 228.5px,#fd000d 281.5px)"></i><i style="left:58px;background:linear-gradient(#00ff00 6.5px,#30ff00 8.5px,#d8ff00 10.5px,#f3ff00 12.5px,#ffdf00 24.5px,#ffce00 44.5px,#f8da00 50.5px,#e7dc00 56.5px,#fed400 60.5px,#ff6800 68.5px,#ff2b00 76.5px,#ff0500 84.5px,#ff0500 108.5px,#ff0900 126.5px,#fe000a 134.5px,#ff0003 166.5px,#ff0900 168.5px,#ff2e00 172.5px,#ff2d00 184.5px,#ff1500 188.5px,#ff0003 190.5px,#fe000b 240.5px,#fe000b 281.5px)"></i><i style="left:60px;background:linear-gradient(#00ff00 6.5px,#22ff00 8.5px,#c3ff00 10.5px,#d7ff00 12.5px,#e5ff00 28.5px,#e4ff00 42.5px,#ccff00 46.5px,#afff00 48.5px,#5bff00 52.5px,#3bff00 54.5px,#35ff00 56.5px,#54ff00 58.5px,#8fff00 60.5px,#d7ff00 62.5px,#ffe200 64.5px,#ffa800 66.5px,#ff7b00 68.5px,#ff5c00 70.5px,#ff1600 80.5px,#ff0100 86.5px,#ff0200 128.5px,#fe0008 142.5px,#fe0007 166.5px,#ff0f00 168.5px,#ff3500 170.5px,#ff4e00 172.5px,#ff4b00 184.5px,#ff3e00 186.5px,#fe0007 190.5px,#fe000a 281.5px)"></i><i style="left:62px;background:linear-gradient(#00ff00 6.5px,#2cff00 8.5px,#d5ff00 10.5px,#efff00 12.5px,#ffe400 24.5px,#ffd500 42.5px,#f8df00 48.5px,#d8e600 54.5px,#d6e700 56.5px,#f2dc00 60.5px,#ffc900 62.5px,#ff6c00 68.5px,#ff3b00 74.5px,#ff0600 84.5px,#ff0100 124.5px,#ff0006 166.5px,#ff2300 168.5px,#ff7200 170.5px,#ffa500 172.5px,#ff9f00 184.5px,#ff8500 186.5px,#ff4d00 188.5px,#ff0303 190.5px,#fe0008 281.5px)"></i><i style="left:64px;background:linear-gradient(#00ff00 6.5px,#46ff00 8.5px,#f9fb00 10.5px,#ffda00 12.5px,#ffa600 18.5px,#ff8d00 26.5px,#ff7c00 60.5px,#ff5a00 68.5px,#ff0d00 82.5px,#ff0200 90.5px,#ff0003 166.5px,#ff3b00 168.5px,#ffb400 170.5px,#f7ff00 172.5px,#e8ff00 180.5px,#d3ff00 182.5px,#afff00 184.5px,#c1ff00 186.5px,#ffd300 188.5px,#ff3100 190.5px,#ff1200 192.5px,#ff0400 194.5px,#ff0005 281.5px)"></i><i style="left:66px;background:linear-gradient(#00ff00 6.5px,#5cff00 8.5px,#ffe300 10.5px,#ffb700 12.5px,#ff7e00 18.5px,#ff6c00 24.5px,#ff5f00 62.5px,#ff2f00 74.5px,#ff0700 84.5px,#ff0100 124.5px,#ff0c00 134.5px,#ff0100 166.5px,#ff2a00 168.5px,#ff7c00 170.5px,#ffb600 172.5px,#ffd400 182.5px,#f2d700 184.5px,#fecb00 186.5px,#ff7f00 188.5px,#ff1100 190.5px,#ff0000 196.5px,#ff0002 281.5px)"></i><i style="left:68px;background:linear-gradient(#00ff00 6.5px,#63ff00 8.5px,#ffdd00 10.5px,#ffb400 12.5px,#ff6600 20.5px,#ff5800 26.5px,#ff4900 64.5px,#ff0700 84.5px,#ff0200 124.5px,#ff1a00 130.5px,#ff0100 166.5px,#ff1700 168.5px,#ff3d00 170.5px,#ff5800 172.5px,#ff6200 184.5px,#ff5200 186.5px,#ff0100 190.5px,#ff0100 281.5px)"></i><i style="left:70px;background:linear-gradient(#00ff00 6.5px,#62ff00 8.5px,#ffe200 10.5px,#ffbc00 12.5px,#ff5c00 20.5px,#ff4c00 24.5px,#ff3900 64.5px,#ff0600 86.5px,#ff0200 124.5px,#ff1a00 126.5px,#ff3200 132.5px,#ff0600 162.5px,#ff0200 166.5px,#ff3500 172.5px,#ff3900 184.5px,#ff1b00 188.5px,#ff0200 190.5px,#ff0200 281.5px)"></i><i style="left:72px;background:linear-gradient(#00ff00 6.5px,#65ff00 8.5px,#ffde00 10.5px,#ffb800 12.5px,#ff5400 20.5px,#ff4300 24.5px,#ff2500 68.5px,#ff0600 88.5px,#ff0300 122.5px,#ff0b00 124.5px,#ff3a00 126.5px,#ff4e00 128.5px,#ff5900 132.5px,#ff3100 144.5px,#ff0300 166.5px,#ff1f00 172.5px,#ff2200 184.5px,#ff0300 190.5px,#ff0300 281.5px)"></i><i style="left:74px;background:linear-gradient(#00ff00 6.5px,#6fff00 8.5px,#ffcf00 10.5px,#ffa400 12.5px,#ff4f00 20.5px,#ff3f00 26.5px,#ff1200 76.5px,#ff0600 100.5px,#ff0400 122.5px,#ff2800 124.5px,#ff7100 126.5px,#ff9c00 128.5px,#ffb600 130.5px,#ffb800 132.5px,#ff6900 140.5px,#ff4500 148.5px,#ff2600 158.5px,#ff0400 166.5px,#ff1200 176.5px,#ff1000 186.5px,#ff0400 192.5px,#ff0400 281.5px)"></i><i style="left:76px;background:linear-gradient(#00ff00 6.5px,#74ff00 8.5px,#ffc600 10.5px,#ff9800 12.5px,#ff6b00 16.5px,#ff4b00 22.5px,#ff1200 74.5px,#ff0600 110.5px,#ff0500 122.5px,#ff2a00 124.5px,#ffd200 130.5px,#fff100 132.5px,#fff000 136.5px,#ff6a00 152.5px,#ff0a00 164.5px,#ff0a00 178.5px,#ff0400 281.5px)"></i><i style="left:78px;background:linear-gradient(#00ff00 6.5px,#67ff00 8.5px,#ffd300 10.5px,#ffa400 12.5px,#ff7900 16.5px,#ff5a00 22.5px,#ff3300 46.5px,#ff1700 64.5px,#ff0700 108.5px,#ff0600 122.5px,#ff5600 128.5px,#ff9300 132.5px,#ffe600 140.5px,#fff500 144.5px,#ffe300 150.5px,#ffc300 154.5px,#ff0900 164.5px,#ff0500 281.5px)"></i><i style="left:80px;background:linear-gradient(#00ff00 6.5px,#47ff00 8.5px,#fbf700 10.5px,#ffd000 12.5px,#ff8200 20.5px,#ff6500 26.5px,#ff4e00 40.5px,#ff1900 60.5px,#ff0800 108.5px,#ff0700 122.5px,#ff4300 130.5px,#ff6d00 138.5px,#fdf900 154.5px,#fef500 156.5px,#ecd500 160.5px,#f8bf00 162.5px,#ff7b00 164.5px,#ff1d00 170.5px,#ff0900 174.5px,#ff0600 281.5px)"></i><i style="left:82px;background:linear-gradient(#00ff00 6.5px,#1fff00 8.5px,#cfff00 10.5px,#f1fe00 12.5px,#ffea00 16.5px,#ff8200 24.5px,#ff7500 28.5px,#ff5b00 40.5px,#ff1b00 60.5px,#ff0800 112.5px,#ff0800 122.5px,#ff3100 132.5px,#ff6300 148.5px,#ffa600 156.5px,#ffbc00 158.5px,#f6c000 160.5px,#fcb500 162.5px,#ff7c00 164.5px,#ff1d00 170.5px,#ff0a00 174.5px,#ff0700 281.5px)"></i><i style="left:84px;background:linear-gradient(#00ff00 6.5px,#04ff00 8.5px,#aaff00 10.5px,#c6ff00 12.5px,#e1ff00 16.5px,#fcfd00 18.5px,#ff9400 24.5px,#ff8300 26.5px,#ff6c00 38.5px,#ff2300 58.5px,#ff0c00 100.5px,#ff0a00 122.5px,#ff4800 154.5px,#ff3400 160.5px,#ff0b00 164.5px,#ff0800 281.5px)"></i><i style="left:86px;background:linear-gradient(#00ff00 6.5px,#03ff00 8.5px,#abff00 10.5px,#c9ff00 12.5px,#fef800 18.5px,#ff9700 24.5px,#ff8800 26.5px,#ff7100 38.5px,#ff2a00 58.5px,#ff0a00 112.5px,#ff1400 132.5px,#ff2e00 154.5px,#ff1f00 160.5px,#ff0a00 164.5px,#ff0900 281.5px)"></i><i style="left:88px;background:linear-gradient(#00ff00 6.5px,#17ff00 8.5px,#c9ff00 10.5px,#f0ff00 12.5px,#ffe500 16.5px,#ffa100 22.5px,#ff8800 26.5px,#ff6c00 40.5px,#ff3800 56.5px,#ff0b00 118.5px,#ff1c00 156.5px,#ff0b00 166.5px,#ff0a00 281.5px)"></i><i style="left:90px;background:linear-gradient(#00ff00 6.5px,#2eff00 8.5px,#e9ff00 10.5px,#ffe900 12.5px,#ffac00 18.5px,#ff8c00 24.5px,#ff6600 44.5px,#ff4800 56.5px,#ff4200 72.5px,#ff1500 108.5px,#ff0c00 118.5px,#ff1000 160.5px,#ff0b00 281.5px)"></i><i style="left:92px;background:linear-gradient(#00ff00 6.5px,#37ff00 8.5px,#f6ff00 10.5px,#ffdc00 12.5px,#ffb200 16.5px,#ff9600 22.5px,#ff5e00 56.5px,#ff6800 68.5px,#ff3800 94.5px,#ff2900 104.5px,#ff0d00 112.5px,#ff0c00 281.5px)"></i><i style="left:94px;background:linear-gradient(#00ff00 6.5px,#1bff00 8.5px,#d9ff00 10.5px,#fcf300 12.5px,#ffc800 16.5px,#ffac00 22.5px,#ff7b00 52.5px,#ff7900 56.5px,#ff8800 64.5px,#ff8000 70.5px,#ff4600 92.5px,#ff3800 102.5px,#ff0e00 112.5px,#ff0d00 281.5px)"></i><i style="left:96px;background:linear-gradient(#00ff00 6.5px,#00ff00 8.5px,#6cff00 10.5px,#92ff00 12.5px,#ceff00 18.5px,#ffe000 32.5px,#ffca00 44.5px,#ff9400 54.5px,#ff9d00 66.5px,#ff4c00 90.5px,#ff3900 102.5px,#ff0f00 112.5px,#ff0d00 281.5px)"></i><i style="left:98px;background:linear-gradient(#00ff00 6.5px,#06ff00 14.5px,#23ff00 22.5px,#32ff00 24.5px,#a8ff00 32.5px,#caff00 36.5px,#d2ff00 42.5px,#efff00 46.5px,#fdf500 48.5px,#ffae00 54.5px,#ffa200 56.5px,#ffa000 66.5px,#ff4400 90.5px,#ff2b00 104.5px,#ff1000 112.5px,#ff0e00 281.5px)"></i><i style="left:100px;background:linear-gradient(#00ff00 6.5px,#06ff00 14.5px,#22ff00 22.5px,#31ff00 24.5px,#a6ff00 32.5px,#c9ff00 36.5px,#d0ff00 42.5px,#ecff00 46.5px,#fcf700 48.5px,#ffb000 54.5px,#ffa300 56.5px,#ff8e00 68.5px,#ff3b00 88.5px,#ff1000 114.5px,#ff0f00 281.5px)"></i><i style="left:102px;background:linear-gradient(#00ff00 6.5px,#00ff00 8.5px,#6dff00 10.5px,#92ff00 12.5px,#ceff00 18.5px,#ffe200 32.5px,#ffcf00 44.5px,#ff9500 56.5px,#ff7900 68.5px,#ff2e00 88.5px,#ff1800 106.5px,#ff1000 136.5px,#ff1000 281.5px)"></i><i style="left:104px;background:linear-gradient(#00ff00 6.5px,#21ff00 8.5px,#deff00 10.5px,#fdf100 12.5px,#ffc600 16.5px,#ffa600 24.5px,#ff8600 52.5px,#ff6300 68.5px,#ff2100 90.5px,#ff1100 122.5px,#ff1000 281.5px)"></i><i style="left:106px;background:linear-gradient(#00ff00 6.5px,#44ff00 8.5px,#fffc00 10.5px,#ffcf00 12.5px,#ffa600 16.5px,#ff8c00 22.5px,#ff6300 60.5px,#ff1f00 90.5px,#ff1100 124.5px,#ff1100 281.5px)"></i><i style="left:108px;background:linear-gradient(#00ff00 6.5px,#44ff00 8.5px,#fffc00 10.5px,#ffd000 12.5px,#ff9000 18.5px,#ff7800 24.5px,#ff4e00 62.5px,#ff2000 86.5px,#ff2100 96.5px,#ff1100 128.5px,#ff1100 281.5px)"></i><i style="left:110px;background:linear-gradient(#00ff00 6.5px,#35ff00 8.5px,#eeff00 10.5px,#ffe700 12.5px,#ff7e00 20.5px,#ff6c00 24.5px,#ff3f00 64.5px,#ff2100 86.5px,#ff3700 90.5px,#ff3700 96.5px,#ff1900 116.5px,#ff1200 152.5px,#ff1100 281.5px)"></i><i style="left:112px;background:linear-gradient(#00ff00 6.5px,#2cff00 8.5px,#e2ff00 10.5px,#fff500 12.5px,#ffba00 16.5px,#ff7b00 20.5px,#ff6a00 22.5px,#ff3000 70.5px,#ff1f00 84.5px,#ff2800 86.5px,#ff4f00 90.5px,#ff5f00 94.5px,#ff1200 126.5px,#ff1200 281.5px)"></i><i style="left:114px;background:linear-gradient(#00ff00 6.5px,#39ff00 8.5px,#f4ff00 10.5px,#ffe000 12.5px,#ff7700 20.5px,#ff6500 24.5px,#ff3a00 62.5px,#ff1f00 84.5px,#ff2d00 86.5px,#ff5900 90.5px,#ff7300 94.5px,#ff5500 112.5px,#ff3d00 118.5px,#ff1400 124.5px,#ff1200 281.5px)"></i><i style="left:116px;background:linear-gradient(#00ff00 6.5px,#4dff00 8.5px,#fff200 10.5px,#ffc400 12.5px,#ff8100 18.5px,#ff6700 24.5px,#ff3900 64.5px,#ff2000 84.5px,#ff6400 94.5px,#ff6f00 110.5px,#ff6600 116.5px,#ff2e00 122.5px,#ff1300 124.5px,#ff1300 281.5px)"></i><i style="left:118px;background:linear-gradient(#00ff00 6.5px,#55ff00 8.5px,#ffea00 10.5px,#ffbc00 12.5px,#ff9000 16.5px,#ff7300 22.5px,#ff3600 68.5px,#ff2100 84.5px,#ff4900 98.5px,#ff6800 114.5px,#ff5800 118.5px,#ff3000 122.5px,#ff1400 124.5px,#ff1300 281.5px)"></i><i style="left:120px;background:linear-gradient(#00ff00 6.5px,#50ff00 8.5px,#fff100 10.5px,#ffc500 12.5px,#ff9b00 16.5px,#ff7e00 22.5px,#ff4300 64.5px,#ff2200 86.5px,#ff4000 110.5px,#ff4900 116.5px,#ff2800 122.5px,#ff1400 124.5px,#ff1300 281.5px)"></i><i style="left:122px;background:linear-gradient(#00ff00 6.5px,#42ff00 8.5px,#fcfe00 10.5px,#ffd600 12.5px,#ffab00 16.5px,#ff8e00 22.5px,#ff5700 60.5px,#ff2100 86.5px,#ff2300 108.5px,#ff2900 118.5px,#ff1400 124.5px,#ff1400 281.5px)"></i><i style="left:124px;background:linear-gradient(#00ff00 6.5px,#2bff00 8.5px,#e4ff00 10.5px,#ffef00 12.5px,#ffc400 16.5px,#ffa400 22.5px,#ff6b00 58.5px,#ff2300 86.5px,#ff1a00 110.5px,#ff1400 281.5px)"></i><i style="left:126px;background:linear-gradient(#00ff00 6.5px,#0aff00 8.5px,#bcff00 10.5px,#e5ff00 12.5px,#f8f900 14.5px,#ffd100 20.5px,#ffb400 30.5px,#ff7700 60.5px,#ff2500 86.5px,#ff1700 108.5px,#ff1500 281.5px)"></i><i style="left:128px;background:linear-gradient(#00ff00 6.5px,#00ff00 8.5px,#83ff00 10.5px,#a6ff00 12.5px,#ddff00 18.5px,#f2f700 24.5px,#ffe900 34.5px,#ffa400 48.5px,#ff7f00 62.5px,#ff2700 86.5px,#ff1900 100.5px,#ff1500 281.5px)"></i><i style="left:130px;background:linear-gradient(#00ff00 6.5px,#00ff00 8.5px,#53ff00 10.5px,#7bff00 14.5px,#a4ff00 22.5px,#beff00 32.5px,#f3ff00 38.5px,#fff500 40.5px,#ffbc00 46.5px,#ffa800 52.5px,#ff7600 66.5px,#ff2d00 84.5px,#ff1b00 96.5px,#ff1500 281.5px)"></i><i style="left:132px;background:linear-gradient(#00ff00 6.5px,#00ff00 8.5px,#4cff00 10.5px,#74ff00 14.5px,#9dff00 22.5px,#b8ff00 32.5px,#f0ff00 38.5px,#fff800 40.5px,#ffbc00 46.5px,#ff7700 66.5px,#ff2d00 84.5px,#ff1b00 96.5px,#ff1600 281.5px)"></i><i style="left:134px;background:linear-gradient(#00ff00 6.5px,#00ff00 8.5px,#71ff00 10.5px,#93ff00 12.5px,#cdff00 18.5px,#ebfe00 24.5px,#ffe500 36.5px,#ffac00 46.5px,#ff7800 64.5px,#ff2d00 84.5px,#ff1b00 98.5px,#ff1600 281.5px)"></i><i style="left:136px;background:linear-gradient(#00ff00 6.5px,#00ff00 8.5px,#a1ff00 10.5px,#cbff00 12.5px,#f7fa00 16.5px,#ffe200 20.5px,#ffc000 28.5px,#ff7100 62.5px,#ff2600 86.5px,#ff1900 112.5px,#ff1700 281.5px)"></i><i style="left:138px;background:linear-gradient(#00ff00 6.5px,#0dff00 8.5px,#c3ff00 10.5px,#efff00 12.5px,#fff400 14.5px,#ffbf00 20.5px,#ff9900 30.5px,#ff6100 62.5px,#ff2200 88.5px,#ff1800 150.5px,#ff1700 281.5px)"></i><i style="left:140px;background:linear-gradient(#00ff00 6.5px,#1dff00 8.5px,#d6ff00 10.5px,#fffc00 12.5px,#ffbb00 18.5px,#ff9100 26.5px,#ff6c00 46.5px,#ff2000 90.5px,#ff1800 194.5px,#ff1700 281.5px)"></i><i style="left:142px;background:linear-gradient(#00ff00 6.5px,#26ff00 8.5px,#dfff00 10.5px,#fff200 12.5px,#ffaf00 18.5px,#ff8400 26.5px,#ff6000 44.5px,#ff2100 90.5px,#ff1800 198.5px,#ff1800 281.5px)"></i><i style="left:144px;background:linear-gradient(#00ff00 6.5px,#2bff00 8.5px,#e6ff00 10.5px,#ffeb00 12.5px,#ffb900 16.5px,#ff8d00 22.5px,#ff6a00 32.5px,#ff2400 86.5px,#ff1900 152.5px,#ff1800 281.5px)"></i><i style="left:146px;background:linear-gradient(#00ff00 6.5px,#2fff00 8.5px,#eaff00 10.5px,#ffe700 12.5px,#ffb400 16.5px,#ff8800 22.5px,#ff6100 34.5px,#ff2700 82.5px,#ff1a00 136.5px,#ff1900 281.5px)"></i><i style="left:148px;background:linear-gradient(#00ff00 6.5px,#31ff00 8.5px,#ecff00 10.5px,#ffe500 12.5px,#ffa000 18.5px,#ff7400 26.5px,#ff5100 42.5px,#ff2400 88.5px,#ff1a00 162.5px,#ff1900 281.5px)"></i><i style="left:150px;background:linear-gradient(#00ff00 6.5px,#31ff00 8.5px,#ecff00 10.5px,#ffe500 12.5px,#ffb300 16.5px,#ff8500 22.5px,#ff5c00 34.5px,#ff2f00 72.5px,#ff1c00 124.5px,#ff1a00 281.5px)"></i><i style="left:152px;background:linear-gradient(#00ff00 6.5px,#31ff00 8.5px,#ecff00 10.5px,#ffe700 12.5px,#ffa200 18.5px,#ff7300 26.5px,#ff5100 40.5px,#ff2800 84.5px,#ff1c00 152.5px,#ff1a00 281.5px)"></i><i style="left:154px;background:linear-gradient(#00ff00 6.5px,#30ff00 8.5px,#eaff00 10.5px,#ffe800 12.5px,#ffa400 18.5px,#ff7400 26.5px,#ff5000 40.5px,#ff2800 86.5px,#ff1c00 162.5px,#ff1b00 281.5px)"></i><i style="left:156px;background:linear-gradient(#00ff00 6.5px,#2fff00 8.5px,#e9ff00 10.5px,#ffea00 12.5px,#ffa500 18.5px,#ff7400 26.5px,#ff4f00 40.5px,#ff2700 88.5px,#ff1d00 172.5px,#ff1c00 281.5px)"></i><i style="left:158px;background:linear-gradient(#00ff00 6.5px,#2fff00 8.5px,#e7ff00 10.5px,#ffec00 12.5px,#ffa700 18.5px,#ff7500 26.5px,#ff4f00 40.5px,#ff2800 88.5px,#ff1e00 176.5px,#ff1d00 281.5px)"></i><i style="left:160px;background:linear-gradient(#00ff00 6.5px,#2eff00 8.5px,#e7ff00 10.5px,#ffed00 12.5px,#ffa800 18.5px,#ff7500 26.5px,#ff4e00 40.5px,#ff2b00 84.5px,#ff1f00 156.5px,#ff1e00 281.5px)"></i><i style="left:162px;background:linear-gradient(#00ff00 6.5px,#2eff00 8.5px,#e6ff00 10.5px,#ffee00 12.5px,#ffaa00 18.5px,#ff7600 26.5px,#ff4e00 40.5px,#ff3000 76.5px,#ff2000 140.5px,#ff1f00 281.5px)"></i><i style="left:164px;background:linear-gradient(#00ff00 6.5px,#2eff00 8.5px,#e5ff00 10.5px,#fff000 12.5px,#ffab00 18.5px,#ff7700 26.5px,#ff4e00 40.5px,#ff3400 70.5px,#ff2100 132.5px,#ff1f00 281.5px)"></i><i style="left:166px;background:linear-gradient(#00ff00 6.5px,#2dff00 8.5px,#e4ff00 10.5px,#fff100 12.5px,#ffad00 18.5px,#ff7800 26.5px,#ff4e00 40.5px,#ff3400 68.5px,#ff2200 136.5px,#ff2000 281.5px)"></i><i style="left:168px;background:linear-gradient(#00ff00 6.5px,#2cff00 8.5px,#e2ff00 10.5px,#fff300 12.5px,#ffaf00 18.5px,#ff7a00 26.5px,#ff5300 38.5px,#ff3600 64.5px,#ff2300 138.5px,#ff2100 281.5px)"></i><i style="left:170px;background:linear-gradient(#00ff00 6.5px,#2cff00 8.5px,#e1ff00 10.5px,#fff400 12.5px,#ffb100 18.5px,#ff7b00 26.5px,#ff4f00 40.5px,#ff3400 68.5px,#ff2400 142.5px,#ff2200 281.5px)"></i><i style="left:172px;background:linear-gradient(#00ff00 6.5px,#2bff00 8.5px,#e0ff00 10.5px,#fff600 12.5px,#ffb300 18.5px,#ff7d00 26.5px,#ff5400 38.5px,#ff3700 62.5px,#ff2400 144.5px,#ff2300 281.5px)"></i><i style="left:174px;background:linear-gradient(#00ff00 6.5px,#2aff00 8.5px,#deff00 10.5px,#fff700 12.5px,#ffb400 18.5px,#ff7e00 26.5px,#ff5500 38.5px,#ff3700 62.5px,#ff2500 144.5px,#ff2400 281.5px)"></i><i style="left:176px;background:linear-gradient(#00ff00 6.5px,#2aff00 8.5px,#deff00 10.5px,#fff700 12.5px,#ffb400 18.5px,#ff7e00 26.5px,#ff5500 38.5px,#ff3700 62.5px,#ff2600 146.5px,#ff2500 281.5px)"></i><i style="left:178px;background:linear-gradient(#00ff00 6.5px,#2aff00 8.5px,#deff00 10.5px,#fff700 12.5px,#ffb400 18.5px,#ff7e00 26.5px,#ff5400 38.5px,#ff3700 62.5px,#ff2700 152.5px,#ff2500 281.5px)"></i><i style="left:180px;background:linear-gradient(#00ff00 6.5px,#2aff00 8.5px,#deff00 10.5px,#fff700 12.5px,#ffb400 18.5px,#ff7e00 26.5px,#ff5400 38.5px,#ff3700 62.5px,#ff2700 158.5px,#ff2600 281.5px)"></i><i style="left:182px;background:linear-gradient(#00ff00 6.5px,#2bff00 8.5px,#deff00 10.5px,#fff700 12.5px,#ffb400 18.5px,#ff7e00 26.5px,#ff5400 38.5px,#ff3700 62.5px,#ff2900 160.5px,#ff2800 281.5px)"></i><i style="left:184px;background:linear-gradient(#00ff00 6.5px,#2eff00 8.5px,#dcff00 10.5px,#fff900 12.5px,#ffb500 18.5px,#ff8000 26.5px,#ff5800 38.5px,#ff3c00 62.5px,#ff2f00 146.5px,#ff3300 281.5px)"></i><i style="left:186px;background:linear-gradient(#00ff00 6.5px,#34ff00 8.5px,#d3ff00 10.5px,#fefe00 12.5px,#ffb700 18.5px,#ff8500 26.5px,#ff5e00 40.5px,#ff4500 68.5px,#ff3e00 152.5px,#ff4d00 281.5px)"></i><i style="left:188px;background:linear-gradient(#00ff00 6.5px,#3bff00 8.5px,#c4ff00 10.5px,#f1ff00 12.5px,#ffec00 14.5px,#ffbc00 18.5px,#ff8e00 26.5px,#ff6900 42.5px,#ff5200 80.5px,#ff5200 152.5px,#ff7100 252.5px,#ff7100 281.5px)"></i><i style="left:190px;background:linear-gradient(#00ff00 6.5px,#40ff00 8.5px,#b0ff00 10.5px,#deff00 12.5px,#fffb00 14.5px,#ffc600 18.5px,#ff9f00 24.5px,#ff7d00 40.5px,#ff6400 82.5px,#ff6600 144.5px,#ff9a00 240.5px,#ff9b00 281.5px)"></i><i style="left:192px;background:linear-gradient(#00ff00 6.5px,#44ff00 8.5px,#98ff00 10.5px,#f0ff00 14.5px,#ffec00 16.5px,#ffbf00 20.5px,#ff9e00 28.5px,#ff8100 58.5px,#ff7500 122.5px,#ff9300 172.5px,#ffc100 234.5px,#ffc500 281.5px)"></i><i style="left:194px;background:linear-gradient(#01ff00 6.5px,#80ff00 10.5px,#d9ff00 14.5px,#fdfd00 16.5px,#ffcc00 20.5px,#ffaf00 26.5px,#ff9100 60.5px,#ff8800 122.5px,#ffa400 162.5px,#ffe300 228.5px,#ffeb00 281.5px)"></i><i style="left:196px;background:linear-gradient(#1bff00 6.5px,#eeff00 16.5px,#fff000 18.5px,#ffc900 22.5px,#ffb100 30.5px,#ff9700 78.5px,#ff9900 130.5px,#ffcd00 180.5px,#fefc00 228.5px,#f9ff00 281.5px)"></i><i style="left:198px;background:linear-gradient(#27ff00 6.5px,#5fff00 10.5px,#deff00 16.5px,#fffd00 18.5px,#ffd100 22.5px,#ffba00 28.5px,#ff9e00 74.5px,#ff9f00 128.5px,#ffcf00 174.5px,#fdff00 218.5px,#f0ff00 256.5px,#eeff00 281.5px)"></i><i style="left:200px;background:linear-gradient(#25ff00 6.5px,#58ff00 10.5px,#f7ff00 18.5px,#ffd800 22.5px,#ffbd00 28.5px,#ff9f00 72.5px,#ffa000 126.5px,#ffd300 174.5px,#fdff00 214.5px,#eeff00 252.5px,#ecff00 281.5px)"></i><i style="left:202px;background:linear-gradient(#22ff00 6.5px,#51ff00 10.5px,#ebff00 18.5px,#fff600 20.5px,#ffd100 24.5px,#ffba00 32.5px,#ff9f00 78.5px,#ffa400 128.5px,#ffe300 184.5px,#fcff00 212.5px,#edff00 250.5px,#eaff00 281.5px)"></i><i style="left:204px;background:linear-gradient(#20ff00 6.5px,#4bff00 10.5px,#e0ff00 18.5px,#fefe00 20.5px,#ffd800 24.5px,#ffbd00 32.5px,#ffa000 78.5px,#ffa500 126.5px,#ffe400 182.5px,#fbff00 210.5px,#ecff00 246.5px,#e8ff00 281.5px)"></i><i style="left:206px;background:linear-gradient(#1dff00 6.5px,#45ff00 10.5px,#afff00 16.5px,#f5ff00 20.5px,#fff100 22.5px,#ffca00 28.5px,#ffb800 42.5px,#ffa100 82.5px,#ffa900 128.5px,#fcff00 206.5px,#eaff00 244.5px,#e5ff00 281.5px)"></i><i style="left:208px;background:linear-gradient(#1aff00 6.5px,#3fff00 10.5px,#a3ff00 16.5px,#eaff00 20.5px,#fffa00 22.5px,#ffd900 26.5px,#ffc100 34.5px,#ffa300 80.5px,#ffaa00 126.5px,#fdff00 202.5px,#e9ff00 242.5px,#e3ff00 281.5px)"></i><i style="left:210px;background:linear-gradient(#17ff00 6.5px,#3aff00 10.5px,#74ff00 14.5px,#dfff00 20.5px,#fbff00 22.5px,#ffd400 28.5px,#ffc000 38.5px,#ffa400 82.5px,#ffad00 126.5px,#fcff00 200.5px,#e7ff00 240.5px,#e1ff00 281.5px)"></i><i style="left:212px;background:linear-gradient(#15ff00 6.5px,#34ff00 10.5px,#6bff00 14.5px,#f0ff00 22.5px,#fff800 24.5px,#ffd200 30.5px,#ffbe00 44.5px,#ffa500 86.5px,#ffaf00 126.5px,#fdff00 196.5px,#e6ff00 234.5px,#deff00 281.5px)"></i><i style="left:214px;background:linear-gradient(#12ff00 6.5px,#2fff00 10.5px,#62ff00 14.5px,#e6ff00 22.5px,#fdff00 24.5px,#ffd700 30.5px,#ffc200 42.5px,#ffa700 86.5px,#ffb200 126.5px,#fcff00 194.5px,#e5ff00 232.5px,#dcff00 280.5px,#dbff00 281.5px)"></i><i style="left:216px;background:linear-gradient(#0fff00 6.5px,#2aff00 10.5px,#7aff00 16.5px,#dbff00 22.5px,#f4ff00 24.5px,#fff600 26.5px,#ffd600 32.5px,#ffc100 48.5px,#ffa900 88.5px,#ffb400 124.5px,#fbff00 192.5px,#e3ff00 232.5px,#dbff00 278.5px,#d9ff00 281.5px)"></i><i style="left:218px;background:linear-gradient(#0cff00 6.5px,#3aff00 12.5px,#90ff00 18.5px,#eaff00 24.5px,#fefe00 26.5px,#ffdb00 32.5px,#ffc600 46.5px,#ffaa00 90.5px,#ffb800 126.5px,#fcff00 188.5px,#e2ff00 228.5px,#daff00 276.5px,#d6ff00 281.5px)"></i><i style="left:220px;background:linear-gradient(#0aff00 6.5px,#33ff00 12.5px,#85ff00 18.5px,#dfff00 24.5px,#f6ff00 26.5px,#ffea00 30.5px,#ffd100 38.5px,#ffac00 92.5px,#ffbb00 126.5px,#fbff00 186.5px,#e1ff00 226.5px,#d9ff00 274.5px,#d3ff00 281.5px)"></i><i style="left:222px;background:linear-gradient(#07ff00 6.5px,#2dff00 12.5px,#7bff00 18.5px,#d5ff00 24.5px,#fefe00 28.5px,#ffd900 36.5px,#ffc000 64.5px,#ffaf00 94.5px,#ffc000 128.5px,#fcff00 182.5px,#e0ff00 222.5px,#d6ff00 274.5px,#d0ff00 281.5px)"></i><i style="left:224px;background:linear-gradient(#04ff00 6.5px,#28ff00 12.5px,#71ff00 18.5px,#e2ff00 26.5px,#f6ff00 28.5px,#ffed00 32.5px,#ffd300 42.5px,#ffb100 96.5px,#ffc600 130.5px,#fbff00 180.5px,#deff00 220.5px,#d5ff00 272.5px,#ceff00 281.5px)"></i><i style="left:226px;background:linear-gradient(#01ff00 6.5px,#23ff00 12.5px,#68ff00 18.5px,#d9ff00 26.5px,#feff00 30.5px,#ffde00 38.5px,#ffc500 66.5px,#ffb300 98.5px,#ffce00 134.5px,#faff00 178.5px,#ddff00 218.5px,#d4ff00 270.5px,#cbff00 281.5px)"></i><i style="left:228px;background:linear-gradient(#00ff00 6.5px,#1fff00 12.5px,#61ff00 18.5px,#d0ff00 26.5px,#f7ff00 30.5px,#fff000 34.5px,#ffd600 46.5px,#ffb600 100.5px,#ffd600 138.5px,#fbff00 174.5px,#dcff00 216.5px,#d3ff00 268.5px,#c8ff00 281.5px)"></i><i style="left:230px;background:linear-gradient(#00ff00 6.5px,#0fff00 10.5px,#42ff00 16.5px,#deff00 28.5px,#feff00 32.5px,#ffde00 42.5px,#ffb900 102.5px,#ffe100 144.5px,#faff00 172.5px,#daff00 214.5px,#d2ff00 266.5px,#c5ff00 281.5px)"></i><i style="left:232px;background:linear-gradient(#00ff00 6.5px,#0cff00 10.5px,#3eff00 16.5px,#d7ff00 28.5px,#f8ff00 32.5px,#ffeb00 38.5px,#ffd500 56.5px,#ffbc00 104.5px,#fff400 156.5px,#f7ff00 172.5px,#d8ff00 214.5px,#cfff00 266.5px,#c1ff00 281.5px)"></i><i style="left:234px;background:linear-gradient(#00ff00 6.5px,#09ff00 10.5px,#39ff00 16.5px,#cfff00 28.5px,#feff00 34.5px,#ffe000 46.5px,#ffbf00 104.5px,#fff800 156.5px,#edff00 178.5px,#d6ff00 218.5px,#ceff00 264.5px,#beff00 281.5px)"></i><i style="left:236px;background:linear-gradient(#00ff00 6.5px,#05ff00 10.5px,#33ff00 16.5px,#c7ff00 28.5px,#f7ff00 34.5px,#fff600 38.5px,#ffdc00 54.5px,#ffc300 106.5px,#fcff00 162.5px,#d8ff00 204.5px,#ccff00 264.5px,#bbff00 281.5px)"></i><i style="left:238px;background:linear-gradient(#00ff00 6.5px,#01ff00 10.5px,#2bff00 16.5px,#d0ff00 30.5px,#faff00 36.5px,#ffe100 52.5px,#ffc700 106.5px,#fbff00 160.5px,#d5ff00 204.5px,#ccff00 260.5px,#b8ff00 281.5px)"></i><i style="left:240px;background:linear-gradient(#00ff00 6.5px,#06ff00 12.5px,#35ff00 18.5px,#c3ff00 30.5px,#f2ff00 36.5px,#fff600 42.5px,#ffde00 62.5px,#ffcc00 108.5px,#faff00 158.5px,#d3ff00 204.5px,#cbff00 258.5px,#b5ff00 281.5px)"></i><i style="left:242px;background:linear-gradient(#00ff00 6.5px,#01ff00 12.5px,#29ff00 18.5px,#c8ff00 32.5px,#f3ff00 38.5px,#fff700 44.5px,#ffde00 66.5px,#ffd000 108.5px,#fbff00 154.5px,#d4ff00 198.5px,#c8ff00 258.5px,#b1ff00 281.5px)"></i><i style="left:244px;background:linear-gradient(#00ff00 6.5px,#02ff00 14.5px,#2fff00 20.5px,#ccff00 34.5px,#fbff00 42.5px,#ffe400 62.5px,#ffd400 108.5px,#faff00 152.5px,#d1ff00 198.5px,#c6ff00 258.5px,#aeff00 281.5px)"></i><i style="left:246px;background:linear-gradient(#00ff00 6.5px,#06ff00 16.5px,#36ff00 22.5px,#bdff00 34.5px,#e9ff00 40.5px,#fffe00 46.5px,#ffe500 66.5px,#ffd800 108.5px,#fbff00 148.5px,#d0ff00 196.5px,#c6ff00 254.5px,#aaff00 281.5px)"></i><i style="left:248px;background:linear-gradient(#00ff00 6.5px,#00ff00 16.5px,#2bff00 22.5px,#c2ff00 36.5px,#f3ff00 44.5px,#fffa00 50.5px,#ffe000 80.5px,#ffdf00 114.5px,#faff00 146.5px,#d0ff00 192.5px,#c3ff00 254.5px,#a7ff00 281.5px)"></i><i style="left:250px;background:linear-gradient(#00ff00 6.5px,#05ff00 18.5px,#4aff00 26.5px,#b8ff00 36.5px,#edff00 44.5px,#fffb00 52.5px,#ffe000 88.5px,#ffe600 118.5px,#f9ff00 144.5px,#ceff00 190.5px,#c2ff00 252.5px,#a3ff00 281.5px)"></i><i style="left:252px;background:linear-gradient(#00ff00 6.5px,#03ff00 18.5px,#31ff00 24.5px,#c3ff00 38.5px,#efff00 46.5px,#fffb00 54.5px,#ffe300 90.5px,#ffe900 118.5px,#faff00 140.5px,#cdff00 188.5px,#c0ff00 252.5px,#a0ff00 281.5px)"></i><i style="left:254px;background:linear-gradient(#00ff00 6.5px,#02ff00 18.5px,#44ff00 26.5px,#c0ff00 38.5px,#ecff00 46.5px,#fffe00 54.5px,#ffe600 88.5px,#ffec00 118.5px,#f9ff00 138.5px,#ccff00 186.5px,#bfff00 250.5px,#9cff00 281.5px)"></i><i style="left:256px;background:linear-gradient(#00ff00 6.5px,#04ff00 18.5px,#46ff00 26.5px,#aeff00 36.5px,#e2ff00 44.5px,#feff00 54.5px,#ffe800 92.5px,#fff100 120.5px,#f8ff00 136.5px,#c9ff00 186.5px,#bfff00 246.5px,#99ff00 281.5px)"></i><i style="left:258px;background:linear-gradient(#00ff00 6.5px,#06ff00 18.5px,#49ff00 26.5px,#b0ff00 36.5px,#e1ff00 44.5px,#ffff00 56.5px,#ffea00 94.5px,#fff800 124.5px,#edff00 142.5px,#c7ff00 186.5px,#bcff00 246.5px,#95ff00 281.5px)"></i><i style="left:260px;background:linear-gradient(#00ff00 6.5px,#00ff00 16.5px,#27ff00 22.5px,#b0ff00 36.5px,#e0ff00 44.5px,#fdff00 56.5px,#ffec00 98.5px,#fffd00 126.5px,#caff00 176.5px,#baff00 246.5px,#92ff00 281.5px)"></i><i style="left:262px;background:linear-gradient(#00ff00 6.5px,#00ff00 16.5px,#3aff00 24.5px,#afff00 36.5px,#deff00 44.5px,#fdff00 58.5px,#ffef00 100.5px,#fbff00 130.5px,#d7ff00 156.5px,#c1ff00 198.5px,#baff00 242.5px,#8eff00 281.5px)"></i><i style="left:264px;background:linear-gradient(#00ff00 6.5px,#00ff00 16.5px,#26ff00 22.5px,#abff00 36.5px,#daff00 44.5px,#f8ff00 56.5px,#fff500 78.5px,#fff500 114.5px,#f9ff00 130.5px,#d4ff00 156.5px,#c0ff00 194.5px,#b9ff00 240.5px,#8bff00 281.5px)"></i><i style="left:266px;background:linear-gradient(#00ff00 6.5px,#03ff00 18.5px,#54ff00 28.5px,#b2ff00 38.5px,#dcff00 46.5px,#faff00 60.5px,#fff500 108.5px,#fbff00 128.5px,#d5ff00 152.5px,#beff00 192.5px,#b8ff00 238.5px,#87ff00 281.5px)"></i><i style="left:268px;background:linear-gradient(#00ff00 6.5px,#00ff00 18.5px,#15ff00 22.5px,#b4ff00 40.5px,#e2ff00 50.5px,#feff00 68.5px,#fff800 110.5px,#f9ff00 128.5px,#d0ff00 154.5px,#bdff00 192.5px,#b7ff00 236.5px,#83ff00 281.5px)"></i><i style="left:270px;background:linear-gradient(#00ff00 6.5px,#00ff00 20.5px,#26ff00 26.5px,#a5ff00 40.5px,#d3ff00 48.5px,#f4ff00 62.5px,#fffa00 86.5px,#faff00 126.5px,#cbff00 156.5px,#bbff00 194.5px,#b4ff00 236.5px,#80ff00 281.5px)"></i><i style="left:272px;background:linear-gradient(#00ff00 6.5px,#00ff00 22.5px,#36ff00 30.5px,#a3ff00 42.5px,#d8ff00 52.5px,#f4ff00 66.5px,#fffc00 92.5px,#f8ff00 126.5px,#d4ff00 148.5px,#c0ff00 168.5px,#b1ff00 236.5px,#7cff00 281.5px)"></i><i style="left:274px;background:linear-gradient(#00ff00 6.5px,#00ff00 24.5px,#36ff00 32.5px,#afff00 46.5px,#dcff00 56.5px,#f8ff00 74.5px,#feff00 116.5px,#e1ff00 142.5px,#c4ff00 158.5px,#b8ff00 198.5px,#b0ff00 234.5px,#78ff00 281.5px)"></i><i style="left:276px;background:linear-gradient(#00ff00 6.5px,#01ff00 26.5px,#49ff00 36.5px,#a1ff00 46.5px,#d5ff00 56.5px,#f3ff00 72.5px,#ffff00 108.5px,#e8ff00 138.5px,#bfff00 160.5px,#b7ff00 202.5px,#acff00 236.5px,#75ff00 281.5px)"></i><i style="left:278px;background:linear-gradient(#00ff00 6.5px,#05ff00 28.5px,#62ff00 40.5px,#b1ff00 50.5px,#dbff00 60.5px,#f7ff00 80.5px,#f9ff00 118.5px,#dbff00 146.5px,#bcff00 162.5px,#acff00 232.5px,#71ff00 281.5px)"></i><i style="left:280px;background:linear-gradient(#00ff00 6.5px,#02ff00 28.5px,#49ff00 38.5px,#abff00 50.5px,#d8ff00 60.5px,#f3ff00 78.5px,#f9ff00 114.5px,#dfff00 144.5px,#b8ff00 164.5px,#adff00 228.5px,#6fff00 280.5px,#6dff00 281.5px)"></i><i style="left:282px;background:linear-gradient(#00ff00 6.5px,#02ff00 28.5px,#5aff00 40.5px,#a9ff00 50.5px,#d5ff00 60.5px,#f0ff00 76.5px,#f8ff00 112.5px,#e2ff00 142.5px,#b4ff00 168.5px,#aaff00 228.5px,#6aff00 281.5px)"></i><i style="left:284px;background:linear-gradient(#00ff00 6.5px,#04ff00 28.5px,#5dff00 40.5px,#aaff00 50.5px,#d4ff00 60.5px,#f0ff00 78.5px,#f6ff00 116.5px,#ddff00 146.5px,#b2ff00 170.5px,#abff00 224.5px,#70ff00 274.5px,#66ff00 281.5px)"></i><i style="left:286px;background:linear-gradient(#00ff00 6.5px,#00ff00 26.5px,#41ff00 36.5px,#a0ff00 48.5px,#cfff00 58.5px,#ebff00 74.5px,#f6ff00 110.5px,#e0ff00 144.5px,#afff00 172.5px,#a9ff00 222.5px,#72ff00 270.5px,#63ff00 281.5px)"></i><i style="left:288px;background:linear-gradient(#00ff00 6.5px,#03ff00 26.5px,#57ff00 38.5px,#a3ff00 48.5px,#d5ff00 60.5px,#f0ff00 82.5px,#f2ff00 122.5px,#d6ff00 152.5px,#adff00 174.5px,#a7ff00 222.5px,#69ff00 274.5px,#5fff00 281.5px)"></i><i style="left:290px;background:linear-gradient(#00ff00 6.5px,#00ff00 24.5px,#2dff00 32.5px,#a5ff00 48.5px,#cfff00 58.5px,#ebff00 76.5px,#f3ff00 116.5px,#d9ff00 150.5px,#acff00 178.5px,#a6ff00 220.5px,#68ff00 272.5px,#5bff00 281.5px)"></i><i style="left:292px;background:linear-gradient(#00ff00 6.5px,#00ff00 24.5px,#3dff00 34.5px,#a5ff00 48.5px,#d3ff00 60.5px,#eeff00 82.5px,#eeff00 126.5px,#cfff00 158.5px,#aaff00 178.5px,#a5ff00 218.5px,#6aff00 268.5px,#58ff00 281.5px)"></i><i style="left:294px;background:linear-gradient(#00ff00 6.5px,#00ff00 24.5px,#3aff00 34.5px,#a2ff00 48.5px,#d1ff00 60.5px,#ebff00 80.5px,#eeff00 124.5px,#d1ff00 158.5px,#a9ff00 182.5px,#a1ff00 220.5px,#54ff00 281.5px)"></i><i style="left:296px;background:linear-gradient(#00ff00 6.5px,#04ff00 26.5px,#52ff00 38.5px,#a6ff00 50.5px,#d1ff00 62.5px,#ebff00 84.5px,#ebff00 128.5px,#caff00 164.5px,#a8ff00 184.5px,#9eff00 220.5px,#51ff00 281.5px)"></i><i style="left:298px;background:linear-gradient(#00ff00 6.5px,#00ff00 26.5px,#37ff00 36.5px,#9cff00 50.5px,#c7ff00 60.5px,#e4ff00 78.5px,#edff00 118.5px,#d5ff00 156.5px,#a6ff00 188.5px,#99ff00 222.5px,#4dff00 281.5px)"></i><i style="left:300px;background:linear-gradient(#00ff00 6.5px,#00ff00 28.5px,#46ff00 40.5px,#9bff00 52.5px,#cbff00 64.5px,#e6ff00 86.5px,#e8ff00 130.5px,#c8ff00 168.5px,#a5ff00 190.5px,#94ff00 224.5px,#4aff00 281.5px)"></i><i style="left:302px;background:linear-gradient(#00ff00 6.5px,#00ff00 30.5px,#45ff00 42.5px,#a4ff00 56.5px,#cdff00 68.5px,#e6ff00 90.5px,#e6ff00 134.5px,#c4ff00 172.5px,#a3ff00 192.5px,#8fff00 226.5px,#46ff00 281.5px)"></i><i style="left:304px;background:linear-gradient(#00ff00 6.5px,#00ff00 32.5px,#44ff00 44.5px,#97ff00 56.5px,#c7ff00 68.5px,#e2ff00 88.5px,#e6ff00 130.5px,#c7ff00 172.5px,#a1ff00 196.5px,#85ff00 232.5px,#43ff00 281.5px)"></i><i style="left:306px;background:linear-gradient(#00ff00 6.5px,#01ff00 34.5px,#45ff00 46.5px,#97ff00 58.5px,#c5ff00 70.5px,#e0ff00 90.5px,#e5ff00 130.5px,#cbff00 170.5px,#9eff00 200.5px,#75ff00 242.5px,#3fff00 281.5px)"></i><i style="left:308px;background:linear-gradient(#00ff00 6.5px,#03ff00 36.5px,#58ff00 50.5px,#a3ff00 62.5px,#cdff00 76.5px,#e3ff00 102.5px,#deff00 146.5px,#bdff00 182.5px,#9bff00 202.5px,#6cff00 246.5px,#3cff00 281.5px)"></i><i style="left:310px;background:linear-gradient(#00ff00 6.5px,#00ff00 36.5px,#52ff00 50.5px,#9dff00 62.5px,#c6ff00 74.5px,#e0ff00 98.5px,#deff00 144.5px,#bfff00 182.5px,#97ff00 204.5px,#60ff00 252.5px,#39ff00 281.5px)"></i><i style="left:312px;background:linear-gradient(#00ff00 6.5px,#00ff00 36.5px,#50ff00 50.5px,#9bff00 62.5px,#c8ff00 76.5px,#e0ff00 102.5px,#dcff00 148.5px,#bfff00 184.5px,#93ff00 206.5px,#4eff00 262.5px,#35ff00 281.5px)"></i><i style="left:314px;background:linear-gradient(#00ff00 6.5px,#02ff00 36.5px,#52ff00 50.5px,#9bff00 62.5px,#c3ff00 74.5px,#ddff00 98.5px,#ddff00 146.5px,#beff00 186.5px,#95ff00 204.5px,#32ff00 281.5px)"></i><i style="left:316px;background:linear-gradient(#00ff00 6.5px,#05ff00 36.5px,#55ff00 50.5px,#9cff00 62.5px,#c2ff00 74.5px,#dbff00 96.5px,#ddff00 144.5px,#c3ff00 184.5px,#9aff00 204.5px,#88ff00 212.5px,#2fff00 281.5px)"></i><i style="left:318px;background:linear-gradient(#00ff00 6.5px,#00ff00 34.5px,#4cff00 48.5px,#9eff00 62.5px,#c6ff00 76.5px,#ddff00 102.5px,#d9ff00 154.5px,#bdff00 190.5px,#98ff00 206.5px,#83ff00 214.5px,#2cff00 281.5px)"></i><i style="left:320px;background:linear-gradient(#00ff00 6.5px,#03ff00 34.5px,#50ff00 48.5px,#9fff00 62.5px,#c6ff00 76.5px,#dcff00 104.5px,#d7ff00 160.5px,#b9ff00 194.5px,#8fff00 210.5px,#7eff00 216.5px,#29ff00 281.5px)"></i><i style="left:322px;background:linear-gradient(#00ff00 6.5px,#04ff00 34.5px,#50ff00 48.5px,#96ff00 60.5px,#c1ff00 74.5px,#daff00 100.5px,#d8ff00 156.5px,#beff00 192.5px,#94ff00 210.5px,#78ff00 218.5px,#25ff00 281.5px)"></i><i style="left:324px;background:linear-gradient(#00ff00 6.5px,#03ff00 34.5px,#4dff00 48.5px,#9bff00 62.5px,#c2ff00 76.5px,#daff00 104.5px,#d6ff00 162.5px,#baff00 196.5px,#92ff00 212.5px,#72ff00 220.5px,#22ff00 281.5px)"></i><i style="left:326px;background:linear-gradient(#00ff00 6.5px,#00ff00 34.5px,#47ff00 48.5px,#96ff00 62.5px,#bfff00 76.5px,#d8ff00 104.5px,#d5ff00 164.5px,#b9ff00 198.5px,#8fff00 214.5px,#6cff00 222.5px,#1fff00 281.5px)"></i><i style="left:328px;background:linear-gradient(#00ff00 6.5px,#02ff00 36.5px,#56ff00 52.5px,#96ff00 64.5px,#beff00 78.5px,#d7ff00 106.5px,#d3ff00 168.5px,#b7ff00 200.5px,#8dff00 216.5px,#66ff00 224.5px,#1dff00 281.5px)"></i><i style="left:330px;background:linear-gradient(#00ff00 6.5px,#02ff00 38.5px,#57ff00 54.5px,#9dff00 68.5px,#c3ff00 84.5px,#d8ff00 118.5px,#ceff00 178.5px,#aeff00 206.5px,#8bff00 218.5px,#61ff00 226.5px,#1aff00 281.5px)"></i><i style="left:332px;background:linear-gradient(#00ff00 6.5px,#02ff00 40.5px,#55ff00 56.5px,#9bff00 70.5px,#c1ff00 86.5px,#d6ff00 118.5px,#ceff00 178.5px,#b1ff00 206.5px,#89ff00 220.5px,#56ff00 230.5px,#17ff00 281.5px)"></i><i style="left:334px;background:linear-gradient(#00ff00 6.5px,#02ff00 42.5px,#47ff00 56.5px,#91ff00 70.5px,#b9ff00 84.5px,#d2ff00 112.5px,#d0ff00 172.5px,#b7ff00 204.5px,#8fff00 220.5px,#50ff00 232.5px,#14ff00 281.5px)"></i><i style="left:336px;background:linear-gradient(#00ff00 6.5px,#03ff00 44.5px,#53ff00 60.5px,#98ff00 74.5px,#beff00 90.5px,#d3ff00 122.5px,#ccff00 180.5px,#aeff00 210.5px,#85ff00 224.5px,#4aff00 234.5px,#12ff00 281.5px)"></i><i style="left:338px;background:linear-gradient(#00ff00 6.5px,#05ff00 46.5px,#55ff00 62.5px,#98ff00 76.5px,#bdff00 92.5px,#d2ff00 126.5px,#caff00 184.5px,#adff00 212.5px,#83ff00 226.5px,#46ff00 236.5px,#11ff00 278.5px,#0fff00 281.5px)"></i><i style="left:340px;background:linear-gradient(#00ff00 6.5px,#02ff00 46.5px,#4fff00 62.5px,#93ff00 76.5px,#baff00 92.5px,#d0ff00 124.5px,#cbff00 182.5px,#afff00 212.5px,#8aff00 226.5px,#52ff00 236.5px,#3aff00 240.5px,#0cff00 281.5px)"></i><i style="left:342px;background:linear-gradient(#00ff00 6.5px,#01ff00 46.5px,#4dff00 62.5px,#91ff00 76.5px,#b8ff00 92.5px,#ceff00 124.5px,#caff00 184.5px,#b2ff00 212.5px,#88ff00 228.5px,#50ff00 238.5px,#34ff00 242.5px,#0aff00 281.5px)"></i><i style="left:344px;background:linear-gradient(#00ff00 6.5px,#02ff00 46.5px,#4eff00 62.5px,#90ff00 76.5px,#b7ff00 92.5px,#ceff00 126.5px,#c9ff00 186.5px,#b1ff00 214.5px,#87ff00 230.5px,#4fff00 240.5px,#2fff00 244.5px,#08ff00 281.5px)"></i><i style="left:346px;background:linear-gradient(#00ff00 6.5px,#05ff00 46.5px,#50ff00 62.5px,#98ff00 78.5px,#bbff00 96.5px,#ceff00 136.5px,#c5ff00 194.5px,#a8ff00 220.5px,#7dff00 234.5px,#3dff00 244.5px,#2cff00 246.5px,#0aff00 274.5px,#05ff00 281.5px)"></i><i style="left:348px;background:linear-gradient(#00ff00 6.5px,#00ff00 44.5px,#48ff00 60.5px,#92ff00 76.5px,#b6ff00 92.5px,#ccff00 128.5px,#c7ff00 190.5px,#abff00 220.5px,#84ff00 234.5px,#4dff00 244.5px,#1fff00 250.5px,#03ff00 281.5px)"></i><i style="left:350px;background:linear-gradient(#00ff00 6.5px,#02ff00 44.5px,#4bff00 60.5px,#92ff00 76.5px,#b8ff00 94.5px,#ccff00 134.5px,#c4ff00 196.5px,#aaff00 222.5px,#83ff00 236.5px,#4cff00 246.5px,#1aff00 252.5px,#01ff00 281.5px)"></i><i style="left:352px;background:linear-gradient(#00ff00 6.5px,#03ff00 44.5px,#4bff00 60.5px,#92ff00 76.5px,#b9ff00 96.5px,#ccff00 138.5px,#c2ff00 200.5px,#a5ff00 226.5px,#79ff00 240.5px,#4bff00 248.5px,#17ff00 254.5px,#00ff00 280.5px,#00ff00 281.5px)"></i><i style="left:354px;background:linear-gradient(#00ff00 6.5px,#02ff00 44.5px,#48ff00 60.5px,#8fff00 76.5px,#b5ff00 94.5px,#caff00 136.5px,#c2ff00 200.5px,#a4ff00 228.5px,#79ff00 242.5px,#3bff00 252.5px,#15ff00 256.5px,#07ff00 264.5px,#00ff00 281.5px)"></i><i style="left:356px;background:linear-gradient(#00ff00 6.5px,#00ff00 44.5px,#43ff00 60.5px,#8bff00 76.5px,#b2ff00 94.5px,#c8ff00 130.5px,#c3ff00 196.5px,#aaff00 226.5px,#80ff00 242.5px,#4bff00 252.5px,#08ff00 260.5px,#00ff00 281.5px)"></i><i style="left:358px;background:linear-gradient(#00ff00 6.5px,#01ff00 46.5px,#45ff00 62.5px,#8bff00 78.5px,#b1ff00 96.5px,#c7ff00 136.5px,#c1ff00 200.5px,#a9ff00 228.5px,#80ff00 244.5px,#4bff00 254.5px,#05ff00 262.5px,#00ff00 281.5px)"></i><i style="left:360px;background:linear-gradient(#00ff00 6.5px,#02ff00 48.5px,#45ff00 64.5px,#89ff00 80.5px,#afff00 98.5px,#c5ff00 134.5px,#c1ff00 200.5px,#a8ff00 230.5px,#7fff00 246.5px,#4bff00 256.5px,#05ff00 264.5px,#00ff00 281.5px)"></i><i style="left:362px;background:linear-gradient(#00ff00 6.5px,#02ff00 50.5px,#43ff00 66.5px,#87ff00 82.5px,#aeff00 100.5px,#c4ff00 138.5px,#bfff00 204.5px,#a3ff00 234.5px,#7fff00 248.5px,#4cff00 258.5px,#06ff00 266.5px,#00ff00 281.5px)"></i><i style="left:364px;background:linear-gradient(#00ff00 6.5px,#01ff00 52.5px,#41ff00 68.5px,#85ff00 84.5px,#acff00 102.5px,#c3ff00 142.5px,#bdff00 208.5px,#a3ff00 236.5px,#76ff00 252.5px,#3eff00 262.5px,#08ff00 268.5px,#00ff00 272.5px,#00ff00 281.5px)"></i><i style="left:366px;background:linear-gradient(#00ff00 6.5px,#01ff00 54.5px,#4bff00 72.5px,#8aff00 88.5px,#afff00 108.5px,#c3ff00 152.5px,#baff00 212.5px,#9eff00 240.5px,#6eff00 256.5px,#30ff00 266.5px,#00ff00 272.5px,#00ff00 281.5px)"></i><i style="left:368px;background:linear-gradient(#00ff00 6.5px,#02ff00 56.5px,#43ff00 72.5px,#84ff00 88.5px,#a9ff00 106.5px,#bfff00 142.5px,#bcff00 208.5px,#a1ff00 240.5px,#76ff00 256.5px,#40ff00 266.5px,#00ff00 274.5px,#00ff00 281.5px)"></i><i style="left:370px;background:linear-gradient(#00ff00 6.5px,#00ff00 56.5px,#3dff00 72.5px,#86ff00 90.5px,#acff00 110.5px,#c0ff00 154.5px,#b8ff00 216.5px,#9cff00 244.5px,#6eff00 260.5px,#34ff00 270.5px,#02ff00 276.5px,#00ff00 281.5px)"></i><i style="left:372px;width:8.5px;background:linear-gradient(#00ff00 6.5px,#04ff00 58.5px,#4eff00 76.5px,#89ff00 92.5px,#acff00 112.5px,#bfff00 158.5px,#b6ff00 220.5px,#98ff00 248.5px,#66ff00 264.5px,#27ff00 274.5px,#04ff00 278.5px,#00ff00 281.5px)"></i></div></div>
<svg width="836" height="724" viewBox="0 0 836 724" style="position:absolute;left:0;top:0;font-family:'Liberation Sans',sans-serif" fill="#111">
<defs><clipPath id="pc"><rect x="99" y="20.3" width="655" height="323"/></clipPath></defs>
<polyline points="100.5,342.5 426.3,62.6 753.5,342.5" fill="none" stroke="#bfbfbf" stroke-width="4.6" stroke-linejoin="round" clip-path="url(#pc)"/>
<line x1="100.5" x2="753.5" y1="53.5" y2="53.5" stroke="#404040" stroke-width="1"/>
<line x1="100.5" x2="753.5" y1="262.5" y2="262.5" stroke="#111" stroke-width="1.1" stroke-dasharray="2.6 1.3"/>
<g stroke="#7d7d7d" stroke-width="1" fill="none">
<path d="M100.5 20.5V342.5H753.5"/>
<path d="M100.5 21.0h4.2"/>
<path d="M100.5 66.9h4.2"/>
<path d="M100.5 112.9h4.2"/>
<path d="M100.5 158.8h4.2"/>
<path d="M100.5 204.7h4.2"/>
<path d="M100.5 250.6h4.2"/>
<path d="M100.5 296.6h4.2"/>
<path d="M100.5 342.5h4.2"/>
<path d="M193.8 342.5v-4.2"/>
<path d="M287.1 342.5v-4.2"/>
<path d="M380.4 342.5v-4.2"/>
<path d="M473.6 342.5v-4.2"/>
<path d="M566.9 342.5v-4.2"/>
<path d="M660.2 342.5v-4.2"/>
</g>
<g stroke="#3c3c3c" stroke-width="1.1" fill="none">
<path d="M753.5 20.5V343.0"/>
<path d="M753.5 21.0h-4.2"/>
<path d="M753.5 53.1h-4.2"/>
<path d="M753.5 85.3h-4.2"/>
<path d="M753.5 117.5h-4.2"/>
<path d="M753.5 149.6h-4.2"/>
<path d="M753.5 181.8h-4.2"/>
<path d="M753.5 213.9h-4.2"/>
<path d="M753.5 246.1h-4.2"/>
<path d="M753.5 278.2h-4.2"/>
<path d="M753.5 310.4h-4.2"/>
<path d="M753.5 342.5h-4.2"/>
</g>
<g fill="none" stroke-linejoin="round" clip-path="url(#pc)">
<path d="M113.8 21.0L115.1 31.3L115.8 35.5L116.5 39.0L117.8 43.9L118.2 45.1L118.8 46.7L120.0 49.5L120.8 51.1L122.0 53.3L122.8 54.6L123.8 56.1L124.8 57.5L125.8 58.9L126.8 60.2L127.4 61.0L127.8 61.5L128.8 62.9L130.0 64.8L130.8 66.6L131.8 69.5L132.4 71.6L132.8 73.5L133.8 79.3L134.8 84.7L135.3 88.0L135.8 93.0L136.3 98.7L136.8 104.3L137.2 108.4L137.8 114.3L138.2 116.1L138.8 115.4L139.8 113.0L140.8 110.2L141.5 108.5L141.8 108.0L143.0 106.4L143.8 105.6L144.8 104.7L145.5 104.5L145.8 104.7L146.8 106.8L147.4 108.4L147.8 109.4L148.8 112.3L149.3 114.2L149.8 116.7L151.0 125.0L151.8 132.5L152.5 140.0L152.8 143.5L153.7 154.0L154.5 160.0L154.8 158.9L155.5 152.0L155.8 148.8L156.7 138.0L158.0 125.8L158.8 118.4L159.3 115.0L159.8 112.6L160.8 110.0L161.8 110.1L162.8 110.4L163.8 110.8L164.8 111.6L165.8 113.1L166.8 114.7L167.7 116.1L168.8 117.9L169.8 119.5L170.6 120.0L171.8 118.6L172.8 116.1L173.5 114.2L173.8 113.3L174.8 109.1L175.8 104.6L176.4 102.6L176.8 101.6L177.8 99.2L178.8 97.3L180.0 95.8L180.8 95.2L181.8 94.6L183.0 94.3L183.8 94.4L184.8 94.6L185.8 95.0L187.0 95.5L187.8 96.1L188.8 97.1L190.0 98.5L190.8 99.3L191.8 100.2L193.0 101.5L193.8 102.7L195.0 105.0L195.8 107.2L196.8 110.6L198.0 115.0L198.8 117.9L199.8 121.7L200.8 125.6L201.3 127.7L201.8 129.9L202.8 134.4L204.0 140.0L204.8 143.6L205.8 148.1L206.3 150.3L206.8 152.5L207.8 157.0L208.5 160.0L208.8 161.3L209.8 165.4L210.5 168.0L210.8 169.1L212.0 172.5L212.8 171.3L213.8 168.0L214.8 163.4L215.5 160.0L215.8 158.8L216.8 154.9L217.6 152.7L218.8 150.6L219.8 149.2L220.8 148.0L221.8 147.1L222.7 146.5L223.8 145.8L224.8 145.3L225.8 144.8L226.8 144.4L227.8 144.1L228.9 144.0L229.8 144.1L230.8 144.5L231.8 145.0L232.8 145.7L233.8 146.5L234.8 147.4L235.8 148.4L236.5 149.0L236.8 149.3L237.8 150.5L238.8 152.0L239.8 153.5L241.0 155.0L241.8 155.9L242.8 157.0L244.0 157.8L244.8 157.9L245.8 158.1L246.8 158.2L247.8 158.3L249.0 158.3L249.8 158.0L250.8 157.1L251.8 155.8L252.8 154.3L254.0 152.8L254.8 151.8L255.8 150.5L256.8 149.4L257.8 149.0L258.8 149.4L259.8 150.5L260.8 152.0L261.8 153.7L262.8 155.3L263.8 157.0L264.8 159.1L265.8 161.3L266.8 163.4L267.9 165.4L268.8 166.9L269.8 168.5L270.8 170.0L271.8 171.4L272.8 172.7L273.8 173.8L274.1 174.1L274.8 174.8L275.8 175.8L276.8 176.7L277.8 177.5L278.8 177.9L279.2 177.9L279.8 177.9L280.8 177.7L281.8 177.4L282.8 177.1L283.8 176.8L284.2 176.7L284.8 176.5L285.8 176.2L286.8 175.9L287.8 175.6L288.8 175.4L289.2 175.4L289.8 175.5L290.8 176.2L291.8 177.3L292.8 178.6L293.8 179.9L294.2 180.4L294.8 181.2L295.8 182.7L296.8 184.4L297.8 186.1L298.8 187.8L299.8 189.5L300.5 190.5L300.8 190.9L301.8 192.4L302.8 193.8L303.8 195.1L304.8 196.2L305.5 196.8L305.8 197.0L306.8 197.7L307.8 198.4L308.8 198.9L309.8 199.2L310.6 199.3L311.8 199.1L312.8 198.7L313.8 198.1L314.8 197.4L315.6 196.8L316.8 195.7L317.8 194.6L318.8 193.2L319.8 191.9L320.8 190.5L321.9 189.2L322.8 188.2L323.8 187.1L324.8 186.1L325.8 185.1L326.9 184.2L327.8 183.5L328.8 182.8L329.8 182.1L330.8 181.5L331.8 181.0L332.8 180.5L333.2 180.4L333.8 180.2L334.8 179.9L335.8 179.6L336.8 179.4L337.8 179.2L338.8 179.0L339.8 178.9L340.7 178.9L341.8 178.9L342.8 179.0L343.8 179.1L344.8 179.2L345.8 179.4L346.8 179.6L347.8 179.8L348.2 179.9L348.8 180.1L349.8 180.5L350.8 181.1L351.8 181.8L352.8 182.6L353.8 183.5L354.8 184.5L355.8 185.5L356.8 186.7L357.8 188.1L358.8 189.8L359.8 191.6L360.8 193.5L361.8 195.3L362.8 197.1L363.3 198.0L363.8 198.8L364.8 200.5L365.8 202.2L366.8 203.9L367.8 205.6L368.8 207.3L369.8 208.9L370.9 210.6L371.8 212.0L372.8 213.7L373.8 215.3L374.8 216.8L375.8 218.1L376.8 219.2L377.1 219.4L377.8 219.9L378.8 220.6L379.8 221.3L380.8 221.9L381.8 222.4L382.8 222.8L383.8 223.0L384.7 223.1L385.8 223.0L386.8 222.8L387.8 222.4L388.8 221.9L389.8 221.3L391.0 220.6L391.8 219.9L392.8 218.5L393.8 216.8L394.8 215.0L396.0 213.1L396.8 211.9L397.8 210.3L398.8 208.9L400.0 208.0L400.8 207.8L401.8 207.5L402.8 207.3L403.8 207.1L404.8 207.0L405.8 206.9L406.8 206.8L407.6 206.8L408.8 206.8L409.8 206.9L410.8 207.0L411.8 207.1L412.8 207.2L413.8 207.3L414.8 207.3L415.1 207.3L415.8 207.3L416.8 207.3L417.8 207.2L418.8 207.1L420.0 207.0L420.8 206.9L421.8 206.7L422.8 206.4L423.8 206.1L424.8 205.7L425.2 205.5L425.8 205.1L426.8 204.0L427.8 202.4L428.8 200.6L429.8 198.7L430.2 198.0L430.8 196.8L431.8 194.6L432.8 192.1L433.8 189.7L434.8 187.5L435.2 186.7L435.8 185.6L436.8 183.8L437.8 182.1L438.8 180.7L439.8 179.5L440.2 179.1L440.8 178.6L441.8 177.8L442.8 177.0L443.8 176.4L444.8 175.9L445.8 175.5L446.5 175.4L446.8 175.4L447.8 175.2L448.8 175.1L449.8 175.0L450.8 175.0L451.8 174.9L452.8 174.9L453.8 175.0L454.8 175.3L455.8 175.8L456.8 176.4L457.8 177.0L458.8 177.7L459.1 177.9L459.8 178.4L460.8 179.4L461.8 180.6L462.8 181.9L463.8 183.2L464.8 184.6L465.4 185.4L465.8 185.9L466.8 187.3L467.8 188.7L468.8 190.1L469.8 191.6L470.8 193.1L471.6 194.2L472.8 195.9L473.8 197.3L474.8 198.8L475.8 200.2L476.8 201.6L477.9 203.0L478.8 204.1L479.8 205.4L480.8 206.6L481.8 207.8L482.8 209.0L483.8 210.1L484.8 211.1L485.5 211.8L485.8 212.1L486.8 213.0L487.8 213.9L488.8 214.7L489.8 215.5L490.8 216.3L491.8 217.1L493.0 218.1L493.8 218.7L494.8 219.4L495.8 220.1L496.8 220.8L497.8 221.6L498.8 222.6L499.3 223.1L499.8 223.7L500.8 225.4L501.8 227.4L502.8 229.7L503.8 232.0L504.3 233.1L504.8 234.3L505.8 236.9L506.8 239.6L507.8 242.3L508.8 244.7L509.3 245.7L509.8 246.6L510.8 248.4L512.0 250.0L512.8 250.9L513.8 251.9L514.8 252.3L515.8 252.1L516.8 251.6L517.8 250.9L518.8 250.1L519.8 249.2L520.6 248.5L521.8 247.3L522.8 246.1L523.8 244.8L524.8 243.4L525.8 242.2L526.9 241.0L527.8 240.2L528.8 239.3L529.8 238.4L530.8 237.7L532.0 237.0L532.8 236.6L533.8 236.1L534.8 235.8L536.0 235.6L536.8 235.8L537.8 236.4L538.8 237.4L540.0 239.0L540.8 240.9L541.8 244.7L543.0 250.0L543.8 253.9L544.8 259.5L545.7 264.0L546.8 269.0L548.0 273.0L548.8 274.7L549.8 275.7L550.8 273.7L551.8 269.9L552.3 268.5L552.8 267.4L553.8 265.5L555.0 264.3L555.8 264.6L556.8 265.5L558.0 267.0L558.8 268.5L559.8 271.5L561.0 276.0L561.8 279.7L562.8 285.6L564.0 294.0L564.8 300.8L565.8 310.8L566.7 320.0L567.8 333.7L568.7 340.0L569.8 329.7L570.5 320.0L571.8 302.6L573.0 290.0L573.8 285.5L574.8 281.0L576.0 278.0L576.8 277.0L577.8 276.2L578.5 276.0L579.8 277.9L581.0 282.0L581.8 287.5L583.0 300.0L583.8 309.4L585.0 324.0L585.8 333.5L586.5 338.0L587.7 320.0L589.0 290.0L589.8 279.1L591.0 268.0L591.8 263.3L593.0 259.0L593.8 257.7L595.0 256.7L595.8 257.0L596.8 258.2L598.0 260.0L598.8 261.7L599.8 264.7L601.0 268.0L601.8 269.9L602.8 271.9L603.5 272.5L604.8 270.4L606.0 267.0L606.8 264.9L607.8 261.9L609.0 258.0L609.8 254.7L611.0 250.0L611.8 247.8L612.8 245.3L614.0 244.0L614.8 244.3L615.8 245.5L616.8 247.1L618.0 249.0L618.8 250.5L619.8 252.8L620.8 254.9L622.0 256.0L622.8 255.9L623.8 255.5L624.8 254.9L626.0 254.0L626.8 252.6L627.8 249.3L628.8 245.6L630.0 242.0L630.8 240.4L631.8 238.4L632.8 236.8L634.0 236.0L634.8 236.3L635.8 237.3L636.8 238.6L638.0 240.0L638.8 240.8L639.8 241.9L641.0 242.5L641.8 242.0L642.8 240.4L644.0 238.5L644.8 237.6L645.8 236.6L646.8 235.7L648.0 235.0L648.8 234.8L649.8 234.5L650.8 234.3L651.8 234.2L652.8 234.0L654.0 234.0L654.8 234.1L655.8 234.5L656.8 235.0L657.8 235.6L658.8 236.3L660.0 237.0L660.8 237.5L661.8 238.1L662.8 238.7L664.0 239.0L664.8 238.5L665.8 236.8L666.8 234.7L668.0 233.0L668.8 232.4L669.8 231.7L670.8 231.2L672.0 231.0L672.8 231.2L673.8 231.9L674.8 232.8L675.8 233.6L677.0 234.0L677.8 233.5L678.8 231.9L679.8 229.6L680.8 227.2L682.0 225.0L682.8 223.9L683.8 222.6L684.8 221.4L685.8 220.4L687.0 220.0L687.8 220.2L688.8 220.9L689.8 221.8L690.8 222.6L692.0 223.0L692.8 222.9L693.8 222.4L694.8 221.8L695.8 221.1L696.8 220.5L698.0 220.0L698.8 219.8L699.8 219.6L700.8 219.4L701.8 219.2L702.8 219.1L704.0 219.0L704.8 219.1L705.8 219.3L706.8 219.6L707.8 219.9L708.8 220.3L709.8 220.6L710.8 220.9L712.0 221.0L712.8 220.8L713.8 220.2L714.8 219.3L715.8 218.2L716.8 217.1L717.8 216.1L718.8 215.4L720.0 215.0L720.8 215.1L721.8 215.3L722.8 215.6L723.8 215.9L724.8 216.3L725.8 216.6L726.8 216.9L728.0 217.0L728.8 216.9L729.8 216.5L730.8 215.9L731.8 215.1L732.8 214.4L733.8 213.7L734.8 213.2L736.0 213.0L736.8 213.1L737.8 213.3L738.8 213.6L739.8 213.9L740.8 214.3L741.8 214.6L742.8 214.9L744.0 215.0L744.8 215.0L745.8 214.9L746.8 214.8L747.8 214.7L748.8 214.5L749.8 214.2L750.8 213.9L751.5 213.6" stroke="#4472c4" stroke-width="1.35" stroke-dasharray="4.3 2"/>
<path d="M100.3 41.0L101.5 50.0L102.3 56.7L102.9 62.0L103.3 66.4L103.9 71.0L104.3 70.0L105.3 63.9L106.5 58.5L107.6 57.3L108.3 58.2L109.0 60.0L110.5 65.0L111.3 67.5L112.1 70.6L113.1 79.3L114.0 93.8L115.0 113.2L115.5 135.0L116.0 195.0L116.6 160.0L117.4 130.0L118.4 113.2L119.3 103.1L119.8 98.7L120.3 94.8L121.3 89.0L122.3 86.4L122.7 86.1L123.3 87.0L124.3 90.7L125.1 93.8L126.3 97.8L127.1 99.7L128.3 101.0L129.0 101.6L129.3 101.9L130.3 102.7L131.3 103.7L131.9 104.5L132.3 105.2L133.4 108.4L134.3 115.1L135.3 122.9L136.3 130.0L137.3 138.8L137.7 140.2L138.3 134.7L138.7 130.0L139.3 125.8L140.1 121.9L141.3 119.1L142.6 117.1L143.3 116.1L144.0 115.6L144.3 115.7L145.3 117.6L145.9 119.0L146.3 120.0L147.4 122.9L148.3 123.7L149.0 124.3L149.3 124.7L150.3 126.5L151.3 129.9L152.3 134.4L152.8 136.4L153.3 138.5L154.3 143.0L155.3 145.2L156.3 145.0L157.3 144.7L157.8 144.6L158.3 144.5L159.3 144.3L160.3 144.1L161.6 144.0L162.3 144.2L163.3 144.9L164.0 145.5L164.3 145.8L165.3 147.2L166.6 148.4L167.3 147.7L168.3 145.2L169.1 142.7L170.3 137.8L171.6 131.4L172.3 128.1L173.3 123.3L174.1 120.1L175.3 116.3L176.3 113.5L177.3 111.2L177.9 110.0L178.3 109.3L179.3 107.5L180.3 105.9L181.3 104.6L182.3 103.6L182.9 103.2L183.3 103.0L184.3 102.6L185.3 102.2L186.3 102.0L187.3 101.9L188.3 102.1L189.3 102.7L190.3 103.6L191.3 104.6L191.7 105.0L192.3 105.8L193.3 107.5L194.3 109.7L195.5 112.6L196.3 114.7L197.3 117.5L198.3 120.8L199.2 123.9L200.3 128.2L201.3 132.7L202.0 136.0L202.3 137.5L203.3 143.2L204.3 149.0L205.1 152.8L206.3 157.1L207.3 160.2L208.3 163.0L209.3 165.7L210.1 167.9L211.3 171.5L212.3 174.4L213.0 176.0L213.3 176.6L214.3 178.7L215.1 179.4L216.3 176.6L217.0 174.0L217.3 172.8L218.3 167.9L218.9 165.4L219.3 164.1L220.3 161.3L221.3 158.8L222.3 157.1L222.7 156.6L223.3 156.0L224.3 155.1L225.3 154.3L226.3 153.6L227.3 153.1L228.3 152.8L228.9 152.8L229.3 152.8L230.3 153.2L231.3 153.8L232.3 154.7L233.3 155.7L234.3 156.8L235.2 157.8L236.3 159.2L237.3 160.7L238.3 162.5L239.3 164.3L240.3 166.0L241.5 167.9L242.3 169.1L243.3 170.8L244.3 172.5L245.3 174.0L246.3 175.1L247.3 175.8L247.8 175.9L248.3 175.8L249.3 175.4L250.3 174.8L251.3 173.9L252.3 173.0L253.3 172.1L254.1 171.6L255.3 170.8L256.3 170.1L257.3 169.5L258.3 168.9L259.3 168.5L260.3 168.4L261.3 168.6L262.3 169.0L263.3 169.7L264.3 170.5L265.4 171.6L266.3 173.2L267.3 176.1L268.3 179.8L269.3 183.8L270.4 188.0L271.3 191.7L272.3 196.4L273.3 200.2L274.1 201.8L275.3 202.6L276.3 203.0L276.7 203.0L277.3 202.3L278.3 198.7L279.3 194.2L280.4 190.5L281.3 188.9L282.3 187.4L283.3 186.1L284.3 185.1L285.5 184.2L286.3 183.8L287.3 183.3L288.3 183.0L289.2 182.9L290.3 183.1L291.3 183.7L292.3 184.6L293.3 185.7L294.2 186.7L295.3 188.6L296.3 191.1L297.3 194.1L298.3 197.3L299.3 200.5L300.3 204.0L301.3 207.8L302.3 211.3L303.0 213.1L303.3 213.7L304.3 215.7L305.3 217.4L306.3 218.5L306.8 218.6L307.3 218.6L308.3 218.3L309.3 217.9L310.3 217.4L311.3 216.8L312.3 216.1L313.1 215.6L314.3 214.7L315.3 213.8L316.3 212.8L317.3 211.7L318.3 210.6L319.3 209.4L320.3 208.3L320.6 208.0L321.3 207.2L322.3 206.1L323.3 204.9L324.3 203.6L325.3 202.4L326.3 201.3L327.3 200.2L328.2 199.3L329.3 198.3L330.3 197.4L331.3 196.5L332.3 195.6L333.3 194.9L334.3 194.2L335.3 193.7L335.7 193.5L336.3 193.3L337.3 192.8L338.3 192.5L339.3 192.1L340.3 191.9L341.3 191.7L342.0 191.7L342.3 191.7L343.3 191.8L344.3 192.0L345.3 192.3L346.3 192.7L347.3 193.1L348.2 193.5L349.3 194.2L350.3 195.0L351.3 196.1L352.3 197.3L353.3 198.7L354.5 200.5L355.3 202.0L356.3 204.2L357.3 206.9L358.3 209.9L359.3 213.1L360.3 216.4L360.8 218.1L361.3 219.8L362.3 223.6L363.3 227.6L364.3 231.8L365.3 236.1L365.8 238.2L366.3 240.4L367.3 245.1L368.3 249.9L369.3 254.6L370.3 258.7L370.9 260.8L371.3 262.0L372.3 264.8L373.3 267.3L374.3 269.4L374.6 270.0L375.3 271.4L376.3 273.3L377.3 274.7L378.0 275.0L378.3 274.9L379.3 273.5L380.3 271.1L381.3 268.2L382.2 265.8L383.3 263.1L384.3 260.5L385.3 257.8L386.3 255.2L387.3 252.9L388.4 250.8L389.3 249.4L390.3 248.1L391.3 246.9L392.3 245.8L393.3 244.8L394.3 243.7L394.7 243.2L395.3 242.5L396.3 241.4L397.3 240.2L398.3 239.1L399.3 238.0L400.3 236.9L401.3 235.8L402.3 234.7L402.6 234.4L403.3 233.7L404.3 232.7L405.3 231.7L406.3 230.7L407.3 229.8L408.3 228.8L409.3 227.7L410.1 226.9L411.3 225.6L412.3 224.5L413.3 223.4L414.3 222.2L415.3 221.0L416.3 219.8L417.3 218.5L417.6 218.1L418.3 217.2L419.3 215.8L420.3 214.5L421.3 213.1L422.3 211.6L423.3 210.0L424.3 208.4L425.2 206.8L426.3 204.6L427.3 202.4L428.3 200.0L429.3 197.5L430.3 195.2L431.4 192.9L432.3 191.2L433.3 189.3L434.3 187.5L435.3 185.9L436.5 184.1L437.3 183.0L438.3 181.6L439.3 180.3L440.3 179.3L441.5 178.4L442.3 178.0L443.3 177.6L444.3 177.2L445.3 176.9L446.3 176.7L447.3 176.6L447.8 176.6L448.3 176.6L449.3 176.7L450.3 176.9L451.3 177.1L452.3 177.4L453.3 177.7L454.3 178.0L455.3 178.4L456.3 178.9L457.3 179.6L458.3 180.5L459.3 181.6L460.3 182.6L461.3 183.8L462.3 184.9L462.8 185.4L463.3 185.9L464.3 187.0L465.3 188.1L466.3 189.3L467.3 190.4L468.3 191.6L469.3 192.8L470.4 194.2L471.3 195.3L472.3 196.6L473.3 198.0L474.3 199.3L475.3 200.7L476.3 202.0L477.3 203.4L477.9 204.2L478.3 204.7L479.3 206.1L480.3 207.4L481.3 208.7L482.3 210.0L483.3 211.4L484.3 212.7L485.5 214.3L486.3 215.4L487.3 216.7L488.3 218.0L489.3 219.4L490.3 220.7L491.3 222.0L492.3 223.4L493.0 224.3L493.3 224.7L494.3 226.0L495.3 227.4L496.3 228.7L497.3 230.1L498.3 231.4L499.3 232.8L500.5 234.4L501.3 235.5L502.3 237.0L503.3 238.5L504.3 239.9L505.3 241.3L506.3 242.6L506.8 243.2L507.3 243.8L508.3 245.0L509.3 246.1L510.3 247.2L511.3 247.9L511.8 248.2L512.3 248.4L513.3 248.9L514.3 249.2L515.3 249.6L516.3 249.8L517.3 250.0L518.1 250.0L519.3 250.0L520.3 249.9L521.3 249.8L522.3 249.6L523.3 249.5L524.3 249.4L525.3 249.4L525.6 249.4L526.3 249.4L527.3 249.4L528.3 249.4L529.3 249.4L530.3 249.4L531.3 249.4L532.3 249.5L533.3 249.5L534.4 249.5L535.3 249.6L536.3 249.9L537.3 250.4L538.3 250.9L539.5 251.7L540.3 252.3L541.3 253.4L542.3 254.6L543.3 256.0L544.0 257.0L545.3 259.0L546.3 260.7L547.3 262.6L548.0 264.0L549.3 266.9L550.3 269.3L551.3 272.0L552.0 274.0L553.3 278.1L554.3 281.6L555.3 285.3L556.0 288.0L557.3 293.4L558.3 297.9L559.3 302.6L560.0 306.0L561.3 312.8L562.3 318.2L563.0 322.0L564.3 329.5L565.3 335.0L566.0 338.0L567.3 342.1L567.7 342.5L568.3 342.0L569.3 339.8L570.0 338.0L571.3 334.1L572.3 330.5L573.0 328.0L574.3 323.5L575.3 320.0L576.3 316.5L577.0 314.0L578.3 309.4L579.3 305.8L580.3 302.3L581.0 300.0L582.3 295.9L583.3 292.9L584.3 290.0L585.0 288.0L586.3 284.3L587.3 281.6L588.3 278.9L589.0 277.0L590.3 273.5L591.3 270.8L592.3 268.4L593.0 267.0L594.3 264.6L595.3 263.0L596.3 261.7L597.0 261.0L598.3 260.1L599.3 259.5L600.3 259.1L601.0 259.0L602.3 259.1L603.3 259.2L604.3 259.4L605.3 259.6L606.0 259.7L607.3 260.0L608.3 260.3L609.3 260.6L610.3 260.8L611.3 261.0L612.0 261.0L613.3 261.0L614.3 261.0L615.3 261.0L616.3 261.0L617.3 261.0L618.0 261.0L619.3 260.7L620.3 260.1L621.3 259.4L622.3 258.6L623.0 258.0L624.3 256.7L625.3 255.4L626.3 254.1L627.3 252.8L628.0 252.0L629.3 250.6L630.3 249.6L631.3 248.6L632.3 247.6L633.3 246.6L634.0 246.0L635.3 244.8L636.3 243.9L637.3 243.0L638.3 242.2L639.3 241.5L640.0 241.0L641.3 240.2L642.3 239.7L643.3 239.2L644.3 238.7L645.3 238.3L646.0 238.0L647.3 237.5L648.3 237.1L649.3 236.8L650.3 236.4L651.3 236.2L652.0 236.0L653.3 235.7L654.3 235.5L655.3 235.3L656.3 235.1L657.3 234.9L658.3 234.8L659.3 234.7L660.0 234.7L661.3 234.8L662.3 235.0L663.3 235.3L664.3 235.5L665.3 235.7L666.0 235.7L667.3 235.6L668.3 235.3L669.3 235.0L670.3 234.6L671.3 234.3L672.0 234.0L673.3 233.5L674.3 233.0L675.3 232.5L676.3 232.0L677.3 231.4L678.0 231.0L679.3 230.0L680.3 229.2L681.3 228.2L682.3 227.3L683.3 226.5L684.0 226.0L685.3 225.2L686.3 224.6L687.3 224.1L688.3 223.6L689.3 223.2L690.0 223.0L691.3 222.7L692.3 222.5L693.3 222.3L694.3 222.2L695.3 222.1L696.0 222.0L697.3 221.9L698.3 221.8L699.3 221.7L700.3 221.6L701.3 221.6L702.3 221.5L703.3 221.4L704.0 221.4L705.3 221.3L706.3 221.3L707.3 221.3L708.3 221.2L709.3 221.2L710.3 221.1L711.3 221.1L712.0 221.0L713.3 220.8L714.3 220.6L715.3 220.3L716.3 220.0L717.3 219.7L718.3 219.4L719.3 219.2L720.0 219.0L721.3 218.7L722.3 218.6L723.3 218.4L724.3 218.2L725.3 218.1L726.3 217.9L727.3 217.7L728.0 217.6L729.3 217.3L730.3 217.1L731.3 216.9L732.3 216.7L733.3 216.5L734.3 216.3L735.3 216.1L736.0 216.0L737.3 215.8L738.3 215.7L739.3 215.6L740.3 215.4L741.3 215.3L742.3 215.2L743.3 215.1L744.0 215.0L745.3 214.8L746.3 214.7L747.3 214.6L748.3 214.4L749.3 214.3L750.3 214.2L751.5 214.0" stroke="#000" stroke-width="1.7" stroke-dasharray="4.6 2"/>
<path d="M110.5 21.0L111.5 25.1L112.0 27.0L112.5 28.9L113.8 33.0L114.5 34.4L115.5 35.8L116.5 36.6L117.5 37.2L118.5 37.6L119.5 38.0L120.1 38.4L120.5 38.8L121.8 41.0L122.5 42.8L123.3 45.5L124.5 52.0L125.6 60.0L126.5 65.4L127.1 69.7L127.5 74.2L128.5 89.0L129.5 102.4L130.0 108.4L130.5 113.8L130.9 117.0L131.4 119.0L132.4 108.4L133.5 98.7L133.8 96.7L134.5 92.8L135.3 90.0L136.5 88.3L137.2 88.0L137.5 88.1L138.5 89.4L139.2 90.9L139.5 91.7L140.5 95.8L141.1 98.7L141.5 100.8L142.5 106.9L143.0 110.3L143.5 114.0L144.5 122.9L145.5 135.0L146.5 160.0L147.3 200.0L148.1 260.5L148.5 236.7L148.9 200.0L149.6 160.0L150.3 135.0L151.7 118.0L152.5 112.5L153.2 109.3L153.5 108.3L154.5 105.8L155.1 105.0L155.5 104.7L156.5 104.1L157.1 104.0L157.5 104.1L158.5 105.0L159.5 106.4L160.5 108.4L161.5 111.1L161.9 112.2L162.5 114.0L163.5 117.5L164.5 121.0L164.8 121.9L165.5 124.0L166.5 127.0L167.5 129.5L168.5 131.9L169.5 134.0L170.4 135.0L171.5 135.4L172.5 135.6L173.5 135.8L174.5 136.0L175.5 136.2L176.7 136.5L177.5 137.0L178.5 138.0L179.5 139.4L180.5 140.8L181.7 142.5L182.5 143.5L183.5 144.8L184.5 146.0L185.5 147.3L186.5 148.6L187.5 150.0L188.0 150.7L188.5 151.4L189.5 152.8L190.5 154.2L191.5 155.7L192.5 157.3L193.0 158.2L193.5 159.1L194.5 161.2L195.5 163.5L196.5 165.8L197.5 168.0L198.5 170.5L199.5 173.1L200.5 175.1L201.3 175.7L202.5 174.1L203.5 171.1L204.5 167.5L205.1 165.4L205.5 164.0L206.5 160.2L207.5 155.8L208.5 151.5L209.5 147.4L210.1 145.3L210.5 144.0L211.5 140.8L212.5 137.7L213.5 135.0L214.5 132.6L215.1 131.4L215.5 130.7L216.5 128.8L217.5 127.1L218.5 125.7L219.5 124.7L220.1 124.4L220.5 124.3L221.5 124.0L222.5 123.7L223.5 123.5L224.5 123.4L225.2 123.4L225.5 123.4L226.5 123.8L227.5 124.6L228.5 125.6L229.5 126.8L230.2 127.7L230.5 128.1L231.5 129.9L232.5 132.1L233.5 134.7L234.5 137.5L235.5 140.2L236.5 142.8L237.5 145.4L238.5 148.3L239.5 151.1L240.5 153.5L241.5 155.3L242.5 156.7L243.5 158.0L244.5 158.9L245.3 159.1L246.5 158.6L247.5 157.6L248.5 156.3L249.5 155.0L250.3 154.1L251.5 152.8L252.5 151.6L253.5 150.4L254.5 149.4L255.5 148.6L256.6 148.3L257.5 148.4L258.5 148.8L259.5 149.5L260.5 150.4L261.6 151.5L262.5 153.0L263.5 155.8L264.5 159.3L265.4 162.8L266.5 167.7L267.5 173.3L268.5 180.4L269.1 185.5L269.5 189.9L270.5 205.2L271.1 215.6L271.5 222.3L272.4 240.7L273.1 266.0L273.5 259.4L274.1 240.7L274.5 230.3L275.4 210.6L276.5 199.3L277.5 192.6L277.9 190.5L278.5 187.8L279.5 183.9L280.5 180.8L281.7 177.9L282.5 176.4L283.5 175.0L284.5 173.7L285.5 172.4L286.7 170.4L287.5 168.5L288.5 165.4L289.5 162.1L290.5 158.7L291.7 155.3L292.5 153.4L293.5 151.1L294.5 149.0L295.5 147.1L296.5 145.7L296.8 145.3L297.5 144.5L298.5 143.5L299.5 142.7L300.5 142.0L301.5 141.6L301.8 141.5L302.5 141.4L303.5 141.2L304.5 141.1L305.5 141.0L306.5 141.0L306.8 141.0L307.5 141.1L308.5 141.7L309.5 142.6L310.5 143.7L311.5 144.9L311.8 145.3L312.5 146.3L313.5 148.3L314.5 150.7L315.5 153.3L316.5 155.9L316.8 156.6L317.5 158.4L318.5 161.0L319.5 163.7L320.5 166.5L321.5 169.3L321.9 170.4L322.5 172.1L323.5 174.9L324.5 177.7L325.5 180.5L326.5 183.7L326.9 184.2L327.5 182.9L328.2 180.0L328.5 178.9L329.5 175.0L330.7 170.4L331.5 167.6L332.5 164.3L333.5 161.3L334.4 159.1L335.5 157.0L336.5 155.3L337.5 153.8L338.5 152.5L339.5 151.5L340.5 150.6L341.5 149.7L342.5 149.0L343.5 148.5L344.5 148.3L345.5 148.4L346.5 148.6L347.5 148.9L348.5 149.3L349.5 149.7L350.5 150.2L350.8 150.3L351.5 150.7L352.5 151.4L353.5 152.2L354.5 153.0L355.5 153.7L356.5 154.0L357.0 154.1L357.5 154.1L358.5 153.9L359.5 153.6L360.5 153.2L361.5 152.9L362.5 152.5L363.3 152.3L364.5 152.0L365.5 151.8L366.5 151.6L367.5 151.4L368.5 151.3L369.5 151.1L370.5 151.0L370.9 151.0L371.5 151.0L372.5 150.9L373.5 150.8L374.5 150.8L375.5 150.7L376.5 150.7L377.5 150.7L378.5 150.6L379.5 150.6L380.5 150.5L380.9 150.5L381.5 150.5L382.5 150.4L383.5 150.3L384.5 150.2L385.5 150.1L386.5 150.0L387.5 149.9L388.5 149.9L389.5 149.8L390.5 149.8L391.0 149.8L391.5 149.8L392.5 149.8L393.5 149.9L394.5 150.0L395.5 150.0L396.5 150.1L397.5 150.2L398.5 150.3L399.5 150.4L400.5 150.4L401.5 150.5L402.5 150.6L403.5 150.8L404.5 150.9L405.1 151.0L405.5 151.1L406.5 151.3L407.5 151.6L408.5 152.0L409.5 152.4L410.5 152.9L411.5 153.4L412.6 154.0L413.5 154.5L414.5 155.2L415.5 156.0L416.5 156.8L417.5 157.7L418.5 158.7L419.5 159.7L420.1 160.3L420.5 160.7L421.5 161.9L422.5 163.1L423.5 164.5L424.5 165.8L425.5 167.3L426.5 168.7L427.7 170.3L428.5 171.4L429.5 172.8L430.5 174.2L431.5 175.6L432.5 177.0L433.5 178.3L434.5 179.6L435.2 180.4L435.5 180.7L436.5 181.8L437.5 182.8L438.5 183.8L439.5 184.8L440.2 185.4L440.5 185.7L441.5 186.6L442.5 187.4L443.5 188.3L444.5 189.1L445.5 189.9L446.5 190.7L447.5 191.5L447.8 191.7L448.5 192.3L449.5 193.1L450.5 194.0L451.5 194.6L452.5 195.0L452.8 195.0L453.5 195.0L454.5 195.0L455.5 195.0L456.5 195.0L457.5 195.0L457.8 195.0L458.5 195.1L459.5 195.8L460.5 196.7L461.5 197.6L462.5 198.5L463.5 199.1L464.1 199.2L464.5 199.2L465.5 199.0L466.5 198.8L467.5 198.5L468.5 198.2L469.1 198.0L469.5 197.9L470.5 197.6L471.5 197.4L472.5 197.1L473.5 196.9L474.1 196.7L474.9 197.3L475.7 197.4L476.5 197.6L477.3 197.8L478.1 197.9L478.9 197.9L479.7 197.8L480.5 197.5L481.3 197.2L482.1 196.9L482.9 196.8L483.7 196.9L484.5 197.3L485.3 198.0L486.1 198.8L486.9 199.6L487.7 200.2L488.5 200.5L489.3 200.6L490.1 200.3L490.9 200.0L491.7 199.5L492.5 199.2L493.3 199.0L494.1 199.2L494.9 199.6L495.7 200.4L496.5 201.3L497.3 202.3L498.1 203.2L498.9 203.8L499.7 204.1L500.5 204.1L501.3 203.8L502.1 203.4L502.9 203.0L503.7 202.7L504.5 202.7L505.3 203.0L506.1 203.7L506.9 204.7L507.7 205.8L508.5 206.9L509.3 207.8L510.1 208.4L510.9 208.7L511.7 208.6L512.5 208.3L513.3 207.8L514.1 207.5L514.9 207.3L515.7 207.5L516.5 208.0L517.3 208.9L518.1 210.0L518.9 211.3L519.7 212.4L520.5 213.3L521.3 213.8L522.1 213.9L522.9 213.7L523.7 213.3L524.5 212.8L525.3 212.4L526.1 212.4L526.9 212.7L527.7 213.4L528.5 214.5L529.3 215.7L530.1 217.0L530.9 218.1L531.7 218.8L532.5 219.2L533.3 219.1L534.1 218.7L534.9 218.2L535.7 217.6L536.5 217.3L537.3 217.3L538.1 217.8L538.9 218.6L539.7 219.8L540.5 221.1L541.3 222.3L542.1 223.2L542.9 223.8L543.7 223.9L544.5 223.7L545.3 223.2L546.1 222.6L546.9 222.2L547.7 222.0L548.5 222.2L549.3 222.8L550.1 223.7L550.9 224.9L551.7 226.1L552.5 227.1L553.3 227.6L554.1 227.7L554.9 227.3L555.7 226.5L556.5 225.5L557.3 224.4L558.1 223.6L558.9 223.0L559.7 222.9L560.5 223.3L561.3 224.0L562.1 225.0L562.9 225.9L563.7 226.5L564.5 226.8L565.3 226.5L566.1 225.9L566.9 224.8L567.7 223.7L568.5 222.6L569.3 221.8L570.1 221.4L570.9 221.6L571.7 222.2L572.5 223.2L573.3 224.4L574.1 225.5L574.9 226.3L575.7 226.7L576.5 226.6L577.3 226.0L578.1 225.2L578.9 224.3L579.7 223.6L580.5 223.3L581.3 223.5L582.1 224.3L582.9 225.5L583.7 226.9L584.5 228.5L585.3 229.8L586.1 230.7L586.9 231.1L587.7 231.0L588.5 230.5L589.3 229.8L590.1 229.0L590.9 228.6L591.7 228.5L592.5 228.9L593.3 229.9L594.1 231.3L594.9 232.8L595.7 234.3L596.5 235.5L597.3 236.2L598.1 236.4L598.9 236.2L599.7 235.5L600.5 234.8L601.3 234.2L602.1 233.9L602.9 234.1L603.7 234.9L604.5 236.2L605.3 237.9L606.1 239.6L606.9 241.3L607.7 242.6L608.5 243.3L609.3 243.5L610.1 243.2L610.9 242.7L611.7 242.0L612.5 241.6L613.3 241.5L614.1 242.0L614.9 243.0L615.7 244.5L616.5 246.2L617.3 247.9L618.1 249.4L618.9 250.3L619.7 250.7L620.5 250.4L621.3 249.6L622.1 248.6L622.9 247.6L623.7 246.8L624.5 246.6L625.3 246.9L626.1 247.8L626.9 249.0L627.7 250.3L628.5 251.4L629.3 252.0L630.1 252.1L630.9 251.4L631.7 250.1L632.5 248.4L633.3 246.5L634.1 244.8L634.9 243.5L635.7 242.7L636.5 242.5L637.3 242.9L638.1 243.7L638.9 244.7L639.7 245.6L640.5 246.1L641.3 246.0L642.1 245.3L642.9 244.0L643.7 242.4L644.5 240.9L645.3 239.6L646.1 238.9L646.9 238.9L647.7 239.7L648.5 241.0L649.3 242.6L650.1 244.3L650.9 245.6L651.7 246.4L652.5 246.6L653.3 246.2L654.1 245.4L654.9 244.4L655.7 243.6L656.5 243.1L657.3 243.1L658.1 243.8L658.9 245.0L659.7 246.7L660.5 248.5L661.3 250.2L662.1 251.4L662.9 251.9L663.7 251.8L664.5 251.0L665.3 249.9L666.1 248.6L666.9 247.6L667.7 246.9L668.5 246.9L669.3 247.5L670.1 248.6L670.9 250.0L671.7 251.4L672.5 252.5L673.3 253.1L674.1 253.0L674.9 252.2L675.7 250.9L676.5 249.4L677.3 247.7L678.1 246.4L678.9 245.5L679.7 245.3L680.5 245.8L681.3 246.8L682.1 248.1L682.9 249.3L683.7 250.1L684.5 250.4L685.3 250.0L686.1 249.0L686.9 247.7L687.7 246.2L688.5 244.9L689.3 244.0L690.1 243.8L690.9 244.3L691.7 245.3L692.5 246.8L693.3 248.5L694.1 249.9L694.9 251.0L695.7 251.6L696.5 251.5L697.3 251.0L698.1 250.1L698.9 249.2L699.7 248.5L700.5 248.2L701.3 248.7L702.1 249.8L702.9 251.6L703.7 253.7L704.5 255.9L705.3 257.8L706.1 259.2L706.9 259.9L707.7 259.9L708.5 259.3L709.3 258.4L710.1 257.5L710.9 257.0L711.7 257.1L712.5 258.1L713.3 259.8L714.1 262.2L714.9 264.9L715.7 267.4L716.5 269.5L717.3 270.7L718.1 270.9L718.9 270.3L719.7 269.1L720.5 267.5L721.3 266.2L722.1 265.3L722.9 265.3L723.7 266.1L724.5 267.7L725.3 269.8L726.1 272.0L726.9 273.9L727.7 275.0L728.5 275.2L729.3 274.5L730.1 272.9L730.9 270.9L731.7 268.8L732.5 267.1L733.3 266.1L734.1 266.0L734.9 266.9L735.7 268.4L736.5 270.4L737.3 272.3L738.1 273.7L738.9 274.4L739.7 274.2L740.5 273.1L741.3 271.3L742.1 269.3L742.9 267.3L743.7 265.9L744.5 265.4L745.3 265.7L746.1 266.9L746.9 268.7L747.7 270.8L748.5 272.6L749.3 273.9L750.1 274.3L750.9 273.8" stroke="#4472c4" stroke-width="1.45"/>
<path d="M100.3 21L100.3 40.5L100.3 40.5L101.5 40.8L102.3 40.9L103.3 41.1L103.8 41.3L104.3 41.9L105.5 45.0L106.3 47.7L107.6 52.7L108.3 55.1L109.3 58.5L109.7 60.0L110.3 62.5L111.3 66.5L112.3 68.9L113.5 71.6L114.3 74.5L115.1 77.0L116.3 79.0L116.9 79.3L117.3 79.2L118.5 78.5L119.3 78.2L120.3 77.9L121.5 79.5L122.3 81.8L122.7 83.2L123.3 85.4L124.3 89.7L124.7 91.9L125.3 96.3L126.1 103.5L127.6 118.0L128.5 135.0L129.2 165.0L130.0 140.0L130.3 135.3L131.0 128.0L131.3 126.1L132.4 121.0L133.4 117.0L134.3 115.4L134.8 115.1L135.3 115.2L136.3 115.8L137.3 116.7L138.3 117.7L138.7 118.0L139.3 118.5L140.3 119.2L141.3 120.0L142.6 120.9L143.3 121.4L144.3 122.3L145.3 123.0L146.4 123.3L147.3 122.1L148.3 119.4L148.8 118.0L149.3 116.6L150.3 113.6L151.3 111.3L152.3 110.0L153.3 109.1L154.2 108.8L155.3 109.3L156.3 110.3L157.1 111.3L158.3 113.3L159.3 115.5L160.0 117.0L160.3 117.6L161.3 119.9L162.3 122.3L163.3 124.6L163.8 125.8L164.3 127.0L165.3 129.3L166.3 131.5L167.0 133.0L167.3 133.6L168.3 135.9L169.3 138.0L170.4 139.0L171.3 139.0L172.3 138.9L173.5 138.8L174.3 138.9L175.3 139.1L176.6 139.6L177.3 140.0L178.3 140.8L179.3 141.8L180.0 142.5L180.3 142.8L181.3 144.0L182.3 145.2L183.3 146.2L184.2 146.5L185.3 146.1L186.3 145.2L187.3 144.1L188.0 143.5L188.3 143.2L189.3 142.2L190.3 141.2L191.3 140.6L191.7 140.5L192.3 140.7L193.3 141.4L194.3 142.6L195.0 143.5L195.3 143.9L196.3 145.4L197.3 147.2L198.5 150.0L199.3 152.6L200.3 156.8L201.3 161.0L202.3 165.0L203.3 168.8L204.0 171.0L204.3 171.9L205.3 174.8L206.2 176.0L207.3 173.7L208.5 169.0L209.3 166.1L210.3 162.2L211.4 157.8L212.3 154.2L213.3 150.0L214.3 145.8L215.3 142.1L216.4 139.0L217.3 137.0L218.3 135.0L219.3 133.2L220.3 131.6L221.3 130.3L222.3 129.2L222.7 128.9L223.3 128.5L224.3 127.7L225.3 127.1L226.3 126.7L227.3 126.4L227.7 126.4L228.3 126.5L229.3 127.0L230.3 127.8L231.3 128.9L232.3 130.2L233.3 131.7L234.0 132.7L234.3 133.2L235.3 135.3L236.3 137.9L237.3 141.0L238.3 144.2L239.3 147.5L240.2 150.3L241.3 153.8L242.3 157.1L243.3 160.2L244.0 162.0L244.3 162.7L245.3 165.2L246.4 166.6L247.3 165.3L248.3 162.1L249.0 160.0L249.3 159.3L250.3 156.7L251.5 154.1L252.3 152.7L253.3 151.3L254.5 150.0L255.3 149.4L256.3 148.8L257.3 148.4L257.8 148.3L258.3 148.4L259.3 149.1L260.5 150.5L261.3 151.7L262.3 154.0L262.8 155.3L263.3 156.9L264.3 160.9L265.3 165.8L266.3 171.2L266.6 172.9L267.3 177.3L268.3 184.5L269.1 190.5L270.3 200.9L271.3 208.9L271.6 210.6L272.3 214.1L272.9 215.6L273.3 214.0L274.0 208.0L274.3 205.8L275.4 198.0L276.3 193.4L277.3 189.0L278.3 185.3L279.2 182.9L280.3 180.8L281.3 179.3L282.3 178.1L283.3 176.8L284.2 175.4L285.3 173.4L286.3 171.5L287.3 169.5L288.3 167.4L289.2 165.4L290.3 162.7L291.3 159.9L292.3 157.1L293.3 154.6L294.2 152.8L295.3 151.1L296.3 149.6L297.3 148.4L298.3 147.3L299.3 146.5L300.3 145.8L301.3 145.0L302.3 144.4L303.3 143.9L304.3 143.5L305.5 143.3L306.3 143.4L307.3 143.7L308.3 144.1L309.3 144.7L310.3 145.4L311.3 146.1L311.8 146.5L312.3 146.9L313.3 148.2L314.3 149.7L315.3 151.5L316.3 153.3L317.3 155.2L318.1 156.6L319.3 158.8L320.3 160.8L321.3 162.8L322.3 164.8L323.3 166.5L324.4 167.9L325.3 168.9L326.3 169.9L327.3 170.6L328.2 170.9L329.3 170.4L330.3 169.1L331.3 167.5L332.3 165.7L333.2 164.1L334.3 162.0L335.3 159.8L336.3 157.6L337.3 155.6L338.2 154.1L339.3 152.6L340.3 151.4L341.3 150.3L342.3 149.4L343.2 149.0L344.3 148.7L345.3 148.5L346.3 148.3L347.0 148.3L347.3 148.3L348.3 148.5L349.3 148.8L350.3 149.2L351.3 149.7L352.3 150.0L353.3 150.3L354.3 150.5L355.3 150.7L356.3 150.8L357.0 150.8L357.3 150.8L358.3 150.6L359.3 150.2L360.3 149.7L361.3 149.2L362.3 148.7L363.3 148.3L364.3 148.0L365.3 147.7L366.3 147.5L367.3 147.2L368.3 147.0L369.3 146.8L370.3 146.6L370.9 146.5L371.3 146.4L372.3 146.3L373.3 146.2L374.3 146.0L375.3 145.9L376.3 145.8L377.3 145.7L378.3 145.6L379.3 145.5L380.3 145.4L380.9 145.3L381.3 145.2L382.3 145.1L383.3 145.0L384.3 144.8L385.3 144.7L386.3 144.5L387.3 144.3L388.3 144.2L389.3 144.0L390.3 143.9L391.0 143.8L391.3 143.8L392.3 143.6L393.3 143.5L394.3 143.3L395.3 143.1L396.3 143.0L397.3 142.9L398.3 142.8L399.3 142.7L400.0 142.7L400.3 142.7L401.3 142.7L402.3 142.7L403.3 142.8L404.3 142.8L405.3 142.9L406.3 142.9L407.3 143.0L407.6 143.0L408.3 143.1L409.3 143.3L410.3 143.7L411.3 144.2L412.3 144.8L413.3 145.4L414.3 146.0L415.1 146.5L416.3 147.3L417.3 148.2L418.3 149.1L419.3 150.1L420.3 151.2L421.3 152.3L422.3 153.5L422.7 154.0L423.3 154.8L424.3 156.3L425.3 158.0L426.3 159.8L427.3 161.6L428.3 163.5L429.3 165.2L430.2 166.6L431.3 168.3L432.3 169.8L433.3 171.2L434.3 172.7L435.3 174.0L436.3 175.2L437.3 176.2L437.7 176.6L438.3 177.1L439.3 177.9L440.3 178.6L441.3 179.3L442.3 179.9L443.3 180.5L444.3 181.0L445.3 181.6L446.3 182.2L447.3 182.8L448.3 183.3L449.3 183.9L450.3 184.4L451.3 185.0L452.3 185.5L453.3 185.9L454.3 186.3L455.3 186.7L456.3 187.0L457.3 187.4L458.3 187.7L459.3 187.9L460.3 188.2L461.3 188.5L462.3 188.7L463.3 189.0L464.3 189.2L465.3 189.4L466.3 189.6L467.3 189.8L467.9 189.9L468.3 190.0L469.3 190.1L470.3 190.3L471.3 190.4L472.3 190.6L473.3 190.7L474.3 190.8L475.3 190.9L476.3 191.1L477.3 191.2L478.3 191.3L479.3 191.5L480.4 191.7L481.3 191.9L482.3 192.1L483.3 192.4L484.3 192.6L485.3 192.9L486.3 193.2L487.3 193.6L488.3 193.9L489.3 194.2L490.3 194.6L491.3 194.9L492.3 195.3L493.0 195.5L493.3 195.6L494.3 196.0L495.3 196.3L496.3 196.7L497.3 197.1L498.3 197.5L499.3 197.9L500.3 198.3L501.3 198.7L502.3 199.1L503.3 199.5L504.3 200.0L505.5 200.5L506.3 200.9L507.3 201.3L508.3 201.8L509.3 202.3L510.3 202.8L511.3 203.3L512.3 203.8L513.3 204.3L514.3 204.9L515.3 205.4L516.3 205.9L517.3 206.4L518.1 206.8L519.3 207.4L520.3 207.9L521.3 208.4L522.3 208.9L523.3 209.4L524.3 209.9L525.3 210.4L526.3 210.9L527.3 211.4L528.3 211.9L529.3 212.3L530.3 212.8L530.7 213.0L531.3 213.3L532.3 213.7L533.3 214.2L534.3 214.7L535.3 215.1L536.3 215.6L537.3 216.0L538.3 216.4L539.3 216.9L540.3 217.3L541.3 217.7L542.3 218.1L543.2 218.5L544.3 219.0L545.3 219.5L546.3 220.0L547.3 220.5L548.3 220.9L549.3 221.4L550.3 221.7L551.3 222.0L552.3 222.2L553.3 222.3L554.3 222.3L555.3 222.3L556.3 222.2L557.3 222.1L558.3 222.0L559.3 221.9L560.3 221.9L561.3 221.8L562.0 221.7L563.3 221.6L564.3 221.4L565.3 221.3L566.3 221.1L567.3 221.0L568.3 220.8L569.3 220.7L570.5 220.7L571.3 220.7L572.3 220.8L573.3 220.9L574.3 221.1L575.3 221.3L576.3 221.5L577.3 221.8L578.3 222.0L579.3 222.3L580.3 222.7L581.3 223.1L582.3 223.6L583.3 224.1L584.3 224.6L585.3 225.2L586.0 225.5L587.3 226.1L588.3 226.6L589.3 227.1L590.3 227.6L591.3 228.1L592.3 228.6L593.3 229.1L594.0 229.5L595.3 230.1L596.3 230.6L597.3 231.1L598.3 231.6L599.3 232.1L600.0 232.5L601.3 233.3L602.3 233.9L603.3 234.6L604.3 235.3L605.3 236.0L606.3 236.8L607.3 237.5L608.0 238.0L609.3 239.0L610.3 239.8L611.3 240.6L612.3 241.4L613.3 242.1L614.3 242.9L615.3 243.6L616.0 244.0L617.3 244.8L618.3 245.3L619.3 245.8L620.3 246.3L621.3 246.7L622.0 247.0L623.3 247.5L624.3 247.8L625.3 248.1L626.3 248.3L627.0 248.3L628.3 248.1L629.3 247.8L630.3 247.4L631.3 246.9L632.3 246.4L633.3 245.8L634.0 245.5L635.3 244.8L636.3 244.1L637.3 243.4L638.3 242.7L639.3 242.2L640.0 242.0L641.3 241.7L642.3 241.4L643.3 241.3L644.3 241.1L645.3 241.0L646.0 241.0L647.3 241.1L648.3 241.3L649.3 241.6L650.3 241.9L651.3 242.3L652.0 242.5L653.3 243.1L654.3 243.7L655.3 244.3L656.3 245.0L657.3 245.6L658.0 246.0L659.3 246.6L660.3 247.1L661.3 247.6L662.3 248.0L663.3 248.3L664.0 248.5L665.3 248.8L666.3 249.0L667.3 249.2L668.3 249.4L669.3 249.5L670.0 249.5L671.3 249.4L672.3 249.3L673.3 249.1L674.3 248.9L675.3 248.7L676.0 248.5L677.3 248.1L678.3 247.8L679.3 247.4L680.3 247.0L681.3 246.7L682.0 246.5L683.3 246.2L684.3 245.9L685.3 245.6L686.3 245.4L687.3 245.3L688.0 245.3L689.3 245.3L690.3 245.4L691.3 245.5L692.3 245.7L693.3 245.9L694.0 246.0L695.3 246.4L696.3 246.8L697.3 247.4L698.3 248.0L699.3 248.6L700.0 249.0L701.3 249.8L702.3 250.4L703.3 251.1L704.3 251.8L705.3 252.5L706.0 253.0L707.3 254.0L708.3 254.8L709.3 255.7L710.3 256.6L711.3 257.4L712.0 258.0L713.3 259.1L714.3 260.1L715.3 261.0L716.3 261.8L717.3 262.6L718.0 263.0L719.3 263.7L720.3 264.3L721.3 264.8L722.3 265.2L723.3 265.5L724.0 265.7L725.3 266.0L726.3 266.1L727.3 266.3L728.3 266.4L729.3 266.5L730.0 266.5L731.3 266.5L732.3 266.4L733.3 266.4L734.3 266.3L735.3 266.2L736.3 266.2L737.3 266.1L738.3 266.0L739.3 266.0L740.0 266.0L741.3 266.0L742.3 266.0L743.3 266.0L744.3 266.1L745.3 266.1L746.3 266.1L747.3 266.2L748.3 266.2L749.3 266.3L750.3 266.4L751.5 266.5" stroke="#000" stroke-width="1.8"/>
</g>
<text x="87.2" y="24.9" font-size="12.6" text-anchor="end" textLength="32.0" lengthAdjust="spacingAndGlyphs" stroke="#111" stroke-width=".3">-30.0</text>
<text x="87.2" y="70.8" font-size="12.6" text-anchor="end" textLength="32.0" lengthAdjust="spacingAndGlyphs" stroke="#111" stroke-width=".3">-40.0</text>
<text x="87.2" y="116.8" font-size="12.6" text-anchor="end" textLength="32.0" lengthAdjust="spacingAndGlyphs" stroke="#111" stroke-width=".3">-50.0</text>
<text x="87.2" y="162.7" font-size="12.6" text-anchor="end" textLength="32.0" lengthAdjust="spacingAndGlyphs" stroke="#111" stroke-width=".3">-60.0</text>
<text x="87.2" y="208.6" font-size="12.6" text-anchor="end" textLength="32.0" lengthAdjust="spacingAndGlyphs" stroke="#111" stroke-width=".3">-70.0</text>
<text x="87.2" y="254.5" font-size="12.6" text-anchor="end" textLength="32.0" lengthAdjust="spacingAndGlyphs" stroke="#111" stroke-width=".3">-80.0</text>
<text x="87.2" y="300.5" font-size="12.6" text-anchor="end" textLength="32.0" lengthAdjust="spacingAndGlyphs" stroke="#111" stroke-width=".3">-90.0</text>
<text x="87.2" y="346.4" font-size="12.6" text-anchor="end" textLength="38.6" lengthAdjust="spacingAndGlyphs" stroke="#111" stroke-width=".3">-100.0</text>
<text x="100.1" y="365.3" font-size="12.8" text-anchor="middle" stroke="#111" stroke-width=".3">0</text>
<text x="193.4" y="365.3" font-size="12.8" text-anchor="middle" textLength="33.6" lengthAdjust="spacingAndGlyphs" stroke="#111" stroke-width=".3">1000</text>
<text x="286.7" y="365.3" font-size="12.8" text-anchor="middle" textLength="36.0" lengthAdjust="spacingAndGlyphs" stroke="#111" stroke-width=".3">2000</text>
<text x="380.0" y="365.3" font-size="12.8" text-anchor="middle" textLength="36.0" lengthAdjust="spacingAndGlyphs" stroke="#111" stroke-width=".3">3000</text>
<text x="473.2" y="365.3" font-size="12.8" text-anchor="middle" textLength="36.0" lengthAdjust="spacingAndGlyphs" stroke="#111" stroke-width=".3">4000</text>
<text x="566.5" y="365.3" font-size="12.8" text-anchor="middle" textLength="36.0" lengthAdjust="spacingAndGlyphs" stroke="#111" stroke-width=".3">5000</text>
<text x="659.8" y="365.3" font-size="12.8" text-anchor="middle" textLength="36.0" lengthAdjust="spacingAndGlyphs" stroke="#111" stroke-width=".3">6000</text>
<text x="753.1" y="365.3" font-size="12.8" text-anchor="middle" textLength="36.0" lengthAdjust="spacingAndGlyphs" stroke="#111" stroke-width=".3">7000</text>
<text x="764.8" y="25.5" font-size="12.6" textLength="7.6" lengthAdjust="spacingAndGlyphs" stroke="#111" stroke-width=".3">0</text>
<text x="764.8" y="57.6" font-size="12.6" textLength="15.0" lengthAdjust="spacingAndGlyphs" stroke="#111" stroke-width=".3">20</text>
<text x="764.8" y="89.8" font-size="12.6" textLength="15.0" lengthAdjust="spacingAndGlyphs" stroke="#111" stroke-width=".3">40</text>
<text x="764.8" y="122.0" font-size="12.6" textLength="15.0" lengthAdjust="spacingAndGlyphs" stroke="#111" stroke-width=".3">60</text>
<text x="764.8" y="154.1" font-size="12.6" textLength="15.0" lengthAdjust="spacingAndGlyphs" stroke="#111" stroke-width=".3">80</text>
<text x="764.8" y="186.2" font-size="12.6" textLength="21.4" lengthAdjust="spacingAndGlyphs" stroke="#111" stroke-width=".3">100</text>
<text x="764.8" y="218.4" font-size="12.6" textLength="21.4" lengthAdjust="spacingAndGlyphs" stroke="#111" stroke-width=".3">120</text>
<text x="764.8" y="250.6" font-size="12.6" textLength="21.4" lengthAdjust="spacingAndGlyphs" stroke="#111" stroke-width=".3">140</text>
<text x="764.8" y="282.7" font-size="12.6" textLength="21.4" lengthAdjust="spacingAndGlyphs" stroke="#111" stroke-width=".3">160</text>
<text x="764.8" y="314.9" font-size="12.6" textLength="21.4" lengthAdjust="spacingAndGlyphs" stroke="#111" stroke-width=".3">180</text>
<text x="764.8" y="347.0" font-size="12.6" textLength="23.2" lengthAdjust="spacingAndGlyphs" stroke="#111" stroke-width=".3">200</text>
<g transform="translate(42.1 261.8) rotate(-90)"><text x="0" y="0" font-size="14.2" textLength="158" lengthAdjust="spacingAndGlyphs" stroke="#111" stroke-width=".3">Transmission loss [dB]</text></g>
<g transform="translate(805.8 202.6) rotate(-90)"><text x="0" y="0" font-size="14.2" textLength="42.3" lengthAdjust="spacingAndGlyphs" stroke="#111" stroke-width=".3">Depth</text></g>
<text x="390.2" y="385.2" font-size="13.4" textLength="72.4" lengthAdjust="spacingAndGlyphs" stroke="#111" stroke-width=".3">Range [m]</text>
<line x1="249.5" x2="272.7" y1="65.5" y2="65.5" stroke="#4472c4" stroke-width="1.4"/>
<line x1="249.5" x2="272.7" y1="87.0" y2="87.0" stroke="#000" stroke-width="1.8"/>
<line x1="249.5" x2="272.7" y1="108.5" y2="108.5" stroke="#111" stroke-width="1.1" stroke-dasharray="2.6 1.3"/>
<line x1="249.5" x2="272.7" y1="129.5" y2="129.5" stroke="#404040" stroke-width="1"/>
<line x1="448.1" x2="471.4" y1="65.5" y2="65.5" stroke="#4472c4" stroke-width="1.35" stroke-dasharray="4.3 2"/>
<line x1="448.1" x2="471.4" y1="87.0" y2="87.0" stroke="#000" stroke-width="1.7" stroke-dasharray="4.6 1.7"/>
<line x1="450.4" x2="469.1" y1="108.5" y2="108.5" stroke="#bfbfbf" stroke-width="4.6" stroke-linecap="round"/>
<text x="275.7" y="69.7" font-size="12.8" textLength="135.0" lengthAdjust="spacingAndGlyphs" stroke="#111" stroke-width=".3">dBSeaPE, depth 20 m</text>
<text x="275.7" y="91.1" font-size="12.8" textLength="109.3" lengthAdjust="spacingAndGlyphs" stroke="#111" stroke-width=".3">RAM, depth 20 m</text>
<text x="275.7" y="112.5" font-size="12.8" textLength="93.2" lengthAdjust="spacingAndGlyphs" stroke="#111" stroke-width=".3">Receiver 150 m</text>
<text x="275.7" y="133.9" font-size="12.8" textLength="88.6" lengthAdjust="spacingAndGlyphs" stroke="#111" stroke-width=".3">Receiver 20 m</text>
<text x="474.7" y="69.7" font-size="12.8" textLength="139.4" lengthAdjust="spacingAndGlyphs" stroke="#111" stroke-width=".3">dBSeaPE, depth 150 m</text>
<text x="474.7" y="91.1" font-size="12.8" textLength="113.6" lengthAdjust="spacingAndGlyphs" stroke="#111" stroke-width=".3">RAM, depth 150 m</text>
<text x="474.7" y="112.5" font-size="12.8" textLength="36.2" lengthAdjust="spacingAndGlyphs" stroke="#111" stroke-width=".3">depth</text>
<polygon points="19.5,684.8 205.5,444.2 392.1,684.8" fill="#6e6e6e" stroke="#3d3d20" stroke-opacity=".45" stroke-width=".7"/>
<polygon points="397.3,684.8 584.4,443.3 772.2,684.8" fill="#6e6e6e" stroke="#3d3d20" stroke-opacity=".45" stroke-width=".7"/>
<text x="159.3" y="666.9" font-size="17.6" textLength="89.2" lengthAdjust="spacingAndGlyphs" fill="#0a0a0a" stroke="#0a0a0a" stroke-width="0.6">dBSeaPE</text>
<text x="561.7" y="666.9" font-size="17.6" textLength="47.3" lengthAdjust="spacingAndGlyphs" fill="#0a0a0a" stroke="#0a0a0a" stroke-width="0.6">RAM</text>
<path d="M19.2 545.2l2.6 1.6l-2.6 1.6z" fill="#9cc8ff" stroke="#9cc8ff" stroke-width=".6"/>
<path d="M397.1 545.2l2.6 1.6l-2.6 1.6z" fill="#9cc8ff" stroke="#9cc8ff" stroke-width=".6"/>
</svg>
</div></body></html>
